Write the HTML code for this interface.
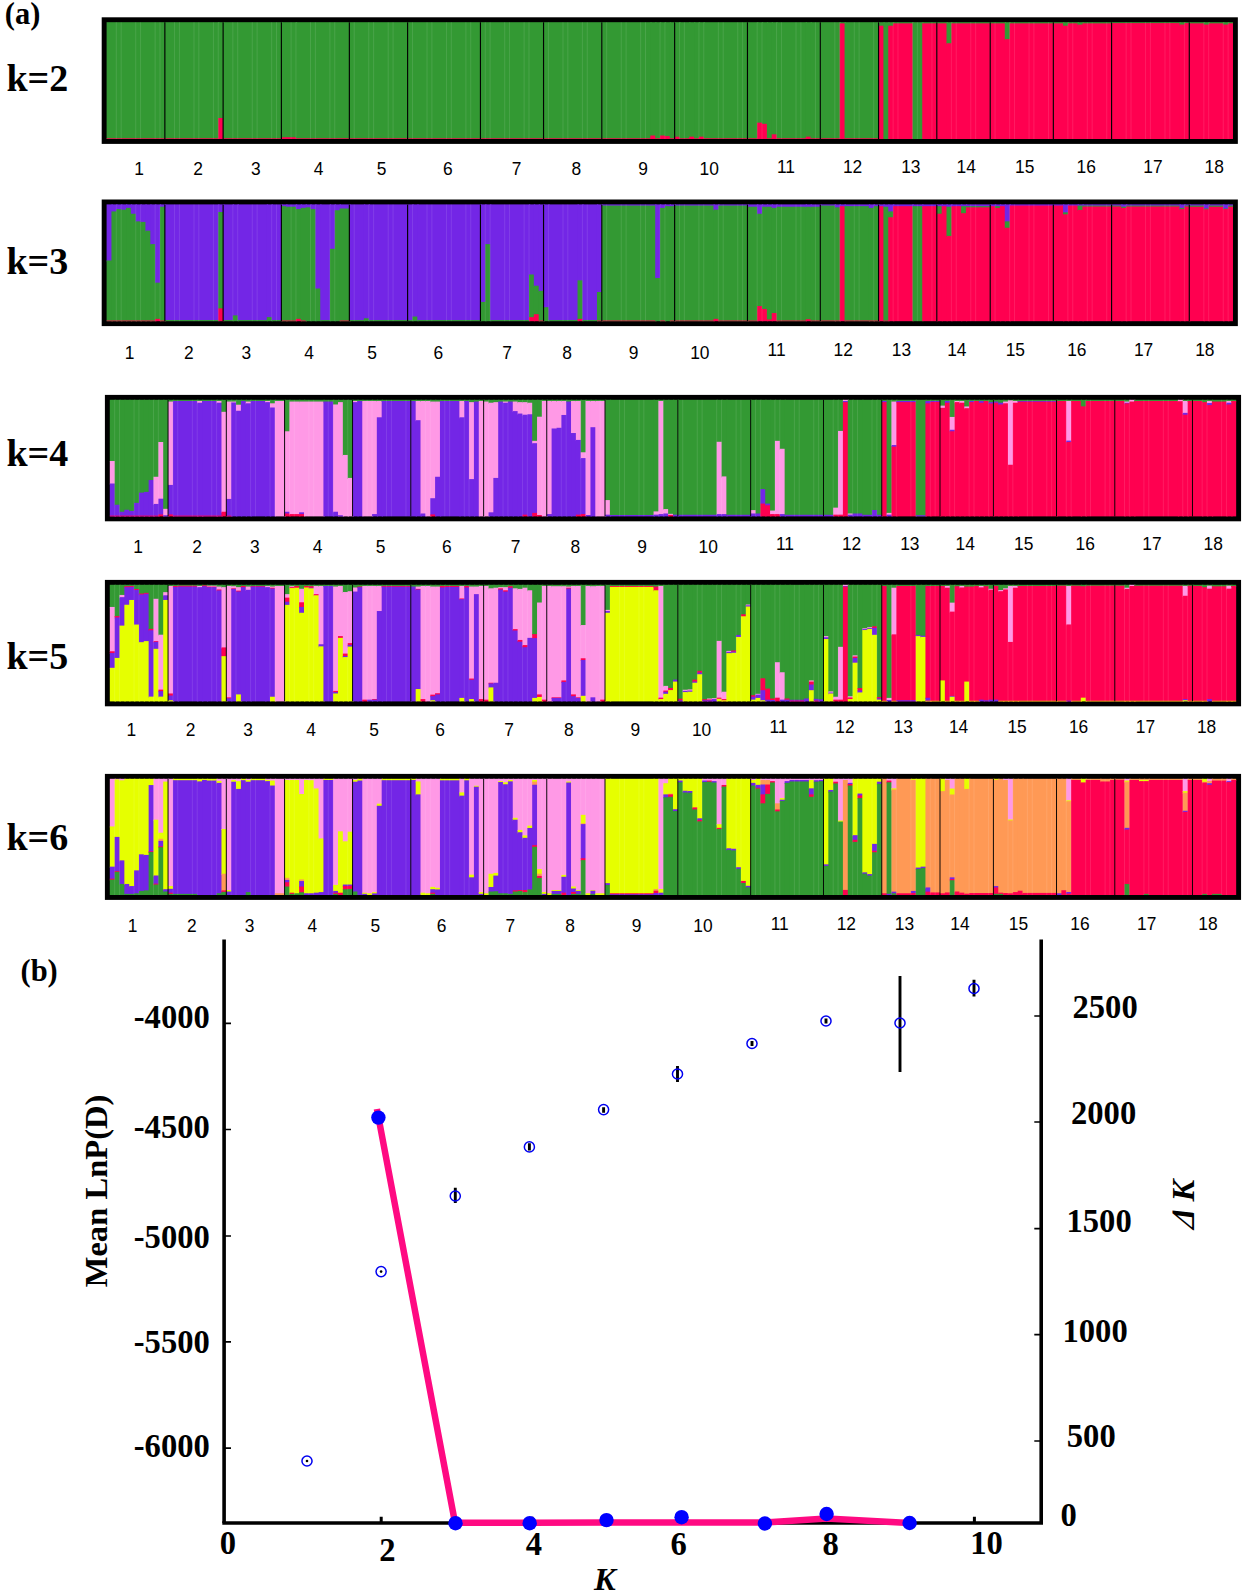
<!DOCTYPE html>
<html lang="en"><head><meta charset="utf-8"><title>STRUCTURE analysis</title>
<style>
html,body{margin:0;padding:0;background:#fff}
svg{display:block}
text{fill:#000}
.kl{font:bold 38px "Liberation Serif",serif}
.pl{font:bold 30.5px "Liberation Serif",serif}
.nl{font:17.4px "Liberation Sans",sans-serif;text-anchor:middle}
.al{font:bold 32.6px "Liberation Serif",serif}
.it{font-style:italic}
</style></head><body>
<svg width="1250" height="1594" viewBox="0 0 1250 1594">
<rect width="1250" height="1594" fill="#fff"/>
<text x="4.8" y="24.3" class="pl">(a)</text>
<rect x="101.7" y="17.3" width="1136.16" height="126.6" fill="#000"/>
<rect x="106.6" y="22.2" width="112.96" height="116.8" fill="#339933"/>
<rect x="106.6" y="138.3" width="112.96" height="0.7" fill="#ff0050"/>
<rect x="218.26" y="22.2" width="6.16" height="96.78" fill="#339933"/>
<rect x="218.26" y="117.98" width="6.16" height="21.02" fill="#ff0050"/>
<rect x="223.12" y="22.2" width="59.56" height="116.8" fill="#339933"/>
<rect x="223.12" y="138.3" width="59.56" height="0.7" fill="#ff0050"/>
<rect x="281.38" y="22.2" width="15.87" height="116.05" fill="#339933"/>
<rect x="281.38" y="137.25" width="15.87" height="1.75" fill="#ff0050"/>
<rect x="295.95" y="22.2" width="355.71" height="116.8" fill="#339933"/>
<rect x="295.95" y="138.3" width="355.71" height="0.7" fill="#ff0050"/>
<rect x="650.36" y="22.2" width="6.16" height="114.3" fill="#339933"/>
<rect x="650.36" y="135.5" width="6.16" height="3.5" fill="#ff0050"/>
<rect x="655.22" y="22.2" width="6.16" height="116.8" fill="#339933"/>
<rect x="655.22" y="138.3" width="6.16" height="0.7" fill="#ff0050"/>
<rect x="660.07" y="22.2" width="6.16" height="114.3" fill="#339933"/>
<rect x="660.07" y="135.5" width="6.16" height="3.5" fill="#ff0050"/>
<rect x="664.93" y="22.2" width="6.16" height="114.88" fill="#339933"/>
<rect x="664.93" y="136.08" width="6.16" height="2.92" fill="#ff0050"/>
<rect x="669.78" y="22.2" width="6.16" height="116.8" fill="#339933"/>
<rect x="669.78" y="138.3" width="6.16" height="0.7" fill="#ff0050"/>
<rect x="674.64" y="22.2" width="6.16" height="115.46" fill="#339933"/>
<rect x="674.64" y="136.66" width="6.16" height="2.34" fill="#ff0050"/>
<rect x="679.49" y="22.2" width="11.01" height="116.8" fill="#339933"/>
<rect x="679.49" y="138.3" width="11.01" height="0.7" fill="#ff0050"/>
<rect x="689.2" y="22.2" width="6.16" height="115.46" fill="#339933"/>
<rect x="689.2" y="136.66" width="6.16" height="2.34" fill="#ff0050"/>
<rect x="694.06" y="22.2" width="6.16" height="116.8" fill="#339933"/>
<rect x="694.06" y="138.3" width="6.16" height="0.7" fill="#ff0050"/>
<rect x="698.91" y="22.2" width="6.16" height="115.46" fill="#339933"/>
<rect x="698.91" y="136.66" width="6.16" height="2.34" fill="#ff0050"/>
<rect x="703.77" y="22.2" width="54.7" height="116.8" fill="#339933"/>
<rect x="703.77" y="138.3" width="54.7" height="0.7" fill="#ff0050"/>
<rect x="757.17" y="22.2" width="6.16" height="101.45" fill="#339933"/>
<rect x="757.17" y="122.65" width="6.16" height="16.35" fill="#ff0050"/>
<rect x="762.03" y="22.2" width="6.16" height="102.62" fill="#339933"/>
<rect x="762.03" y="123.82" width="6.16" height="15.18" fill="#ff0050"/>
<rect x="766.88" y="22.2" width="6.16" height="116.8" fill="#339933"/>
<rect x="766.88" y="138.3" width="6.16" height="0.7" fill="#ff0050"/>
<rect x="771.74" y="22.2" width="6.15" height="113.13" fill="#339933"/>
<rect x="771.74" y="134.33" width="6.15" height="4.67" fill="#ff0050"/>
<rect x="776.59" y="22.2" width="30.43" height="116.8" fill="#339933"/>
<rect x="776.59" y="138.3" width="30.43" height="0.7" fill="#ff0050"/>
<rect x="805.72" y="22.2" width="6.15" height="115.46" fill="#339933"/>
<rect x="805.72" y="136.66" width="6.15" height="2.34" fill="#ff0050"/>
<rect x="810.58" y="22.2" width="30.43" height="116.8" fill="#339933"/>
<rect x="810.58" y="138.3" width="30.43" height="0.7" fill="#ff0050"/>
<rect x="839.71" y="22.2" width="6.16" height="2.17" fill="#339933"/>
<rect x="839.71" y="23.37" width="6.16" height="115.63" fill="#ff0050"/>
<rect x="844.56" y="22.2" width="35.29" height="116.8" fill="#339933"/>
<rect x="844.56" y="138.3" width="35.29" height="0.7" fill="#ff0050"/>
<rect x="878.55" y="22.2" width="6.16" height="4.5" fill="#339933"/>
<rect x="878.55" y="25.7" width="6.16" height="113.3" fill="#ff0050"/>
<rect x="883.4" y="22.2" width="6.16" height="116.8" fill="#339933"/>
<rect x="888.26" y="22.2" width="6.16" height="4.5" fill="#339933"/>
<rect x="888.26" y="25.7" width="6.16" height="113.3" fill="#ff0050"/>
<rect x="893.11" y="22.2" width="20.72" height="2.17" fill="#339933"/>
<rect x="893.11" y="23.37" width="20.72" height="115.63" fill="#ff0050"/>
<rect x="912.53" y="22.2" width="11.01" height="116.8" fill="#339933"/>
<rect x="922.24" y="22.2" width="25.57" height="2.17" fill="#339933"/>
<rect x="922.24" y="23.37" width="25.57" height="115.63" fill="#ff0050"/>
<rect x="946.52" y="22.2" width="6.16" height="22.02" fill="#339933"/>
<rect x="946.52" y="43.22" width="6.16" height="95.78" fill="#ff0050"/>
<rect x="951.37" y="22.2" width="54.7" height="2.17" fill="#339933"/>
<rect x="951.37" y="23.37" width="54.7" height="115.63" fill="#ff0050"/>
<rect x="1004.78" y="22.2" width="6.16" height="17.94" fill="#339933"/>
<rect x="1004.78" y="39.14" width="6.16" height="99.86" fill="#ff0050"/>
<rect x="1009.63" y="22.2" width="54.7" height="2.17" fill="#339933"/>
<rect x="1009.63" y="23.37" width="54.7" height="115.63" fill="#ff0050"/>
<rect x="1063.04" y="22.2" width="6.16" height="4.5" fill="#339933"/>
<rect x="1063.04" y="25.7" width="6.16" height="113.3" fill="#ff0050"/>
<rect x="1067.89" y="22.2" width="11.01" height="2.17" fill="#339933"/>
<rect x="1067.89" y="23.37" width="11.01" height="115.63" fill="#ff0050"/>
<rect x="1077.6" y="22.2" width="6.16" height="3.34" fill="#339933"/>
<rect x="1077.6" y="24.54" width="6.16" height="114.46" fill="#ff0050"/>
<rect x="1082.46" y="22.2" width="30.43" height="2.17" fill="#339933"/>
<rect x="1082.46" y="23.37" width="30.43" height="115.63" fill="#ff0050"/>
<rect x="1111.59" y="22.2" width="69.27" height="1.93" fill="#339933"/>
<rect x="1111.59" y="23.13" width="69.27" height="115.87" fill="#ff0050"/>
<rect x="1179.56" y="22.2" width="6.16" height="3.34" fill="#339933"/>
<rect x="1179.56" y="24.54" width="6.16" height="114.46" fill="#ff0050"/>
<rect x="1184.41" y="22.2" width="6.16" height="1.93" fill="#339933"/>
<rect x="1184.41" y="23.13" width="6.16" height="115.87" fill="#ff0050"/>
<rect x="1189.27" y="22.2" width="15.86" height="2.17" fill="#339933"/>
<rect x="1189.27" y="23.37" width="15.86" height="115.63" fill="#ff0050"/>
<rect x="1203.83" y="22.2" width="6.16" height="3.34" fill="#339933"/>
<rect x="1203.83" y="24.54" width="6.16" height="114.46" fill="#ff0050"/>
<rect x="1208.68" y="22.2" width="15.87" height="2.17" fill="#339933"/>
<rect x="1208.68" y="23.37" width="15.87" height="115.63" fill="#ff0050"/>
<rect x="1223.25" y="22.2" width="6.16" height="3.34" fill="#339933"/>
<rect x="1223.25" y="24.54" width="6.16" height="114.46" fill="#ff0050"/>
<rect x="1228.11" y="22.2" width="4.86" height="2.17" fill="#339933"/>
<rect x="1228.11" y="23.37" width="4.86" height="115.63" fill="#ff0050"/>
<path d="M116.31 22.2V139M121.16 22.2V139M135.73 22.2V139M140.58 22.2V139M155.15 22.2V139M160 22.2V139M174.57 22.2V139M179.43 22.2V139M193.99 22.2V139M198.84 22.2V139M213.41 22.2V139M218.26 22.2V139M232.83 22.2V139M237.69 22.2V139M252.25 22.2V139M257.11 22.2V139M271.67 22.2V139M276.52 22.2V139M291.09 22.2V139M295.95 22.2V139M310.51 22.2V139M315.37 22.2V139M329.93 22.2V139M334.79 22.2V139M349.35 22.2V139M354.21 22.2V139M368.77 22.2V139M373.62 22.2V139M388.19 22.2V139M393.05 22.2V139M407.61 22.2V139M412.47 22.2V139M427.03 22.2V139M431.88 22.2V139M446.45 22.2V139M451.31 22.2V139M465.87 22.2V139M470.73 22.2V139M485.29 22.2V139M490.14 22.2V139M504.71 22.2V139M509.57 22.2V139M524.13 22.2V139M528.99 22.2V139M543.55 22.2V139M548.41 22.2V139M562.97 22.2V139M567.83 22.2V139M582.39 22.2V139M587.25 22.2V139M601.81 22.2V139M606.67 22.2V139M621.23 22.2V139M626.09 22.2V139M640.65 22.2V139M645.51 22.2V139M660.07 22.2V139M664.93 22.2V139M679.49 22.2V139M684.35 22.2V139M698.91 22.2V139M703.77 22.2V139M718.33 22.2V139M723.19 22.2V139M737.75 22.2V139M742.61 22.2V139M757.17 22.2V139M762.03 22.2V139M776.59 22.2V139M781.45 22.2V139M796.01 22.2V139M800.87 22.2V139M815.43 22.2V139M820.29 22.2V139M834.85 22.2V139M839.71 22.2V139M854.27 22.2V139M859.13 22.2V139M873.69 22.2V139M878.55 22.2V139M893.11 22.2V139M897.97 22.2V139M912.53 22.2V139M917.39 22.2V139M931.95 22.2V139M936.81 22.2V139M951.37 22.2V139M956.23 22.2V139M970.79 22.2V139M975.65 22.2V139M990.21 22.2V139M995.07 22.2V139M1009.63 22.2V139M1014.49 22.2V139M1029.05 22.2V139M1033.9 22.2V139M1048.47 22.2V139M1053.33 22.2V139M1067.89 22.2V139M1072.75 22.2V139M1087.31 22.2V139M1092.16 22.2V139M1106.73 22.2V139M1111.59 22.2V139M1126.15 22.2V139M1131.01 22.2V139M1145.57 22.2V139M1150.42 22.2V139M1164.99 22.2V139M1169.85 22.2V139M1184.41 22.2V139M1189.27 22.2V139M1203.83 22.2V139M1208.68 22.2V139M1223.25 22.2V139M1228.11 22.2V139" stroke="#fff" stroke-opacity="0.16" stroke-width="0.7" fill="none"/>
<path d="M164.86 22.2V139M223.12 22.2V139M281.38 22.2V139M349.35 22.2V139M407.61 22.2V139M480.44 22.2V139M543.55 22.2V139M601.81 22.2V139M674.64 22.2V139M747.46 22.2V139M820.29 22.2V139M878.55 22.2V139M936.81 22.2V139M990.21 22.2V139M1053.33 22.2V139M1111.59 22.2V139M1189.27 22.2V139" stroke="#000" stroke-width="1.15" fill="none"/>
<text x="6.4" y="90.9" class="kl">k=2</text>
<text transform="translate(139 175.4) scale(1 1.07)" class="nl">1</text>
<text transform="translate(198.2 175.4) scale(1 1.07)" class="nl">2</text>
<text transform="translate(255.8 175.4) scale(1 1.07)" class="nl">3</text>
<text transform="translate(318.6 175.4) scale(1 1.07)" class="nl">4</text>
<text transform="translate(381.6 175.4) scale(1 1.07)" class="nl">5</text>
<text transform="translate(447.8 175.4) scale(1 1.07)" class="nl">6</text>
<text transform="translate(516.6 175.4) scale(1 1.07)" class="nl">7</text>
<text transform="translate(576.4 175.4) scale(1 1.07)" class="nl">8</text>
<text transform="translate(643 175.4) scale(1 1.07)" class="nl">9</text>
<text transform="translate(709.2 175.4) scale(1 1.07)" class="nl">10</text>
<text transform="translate(786 172.6) scale(1 1.07)" class="nl">11</text>
<text transform="translate(852.6 172.6) scale(1 1.07)" class="nl">12</text>
<text transform="translate(910.8 172.6) scale(1 1.07)" class="nl">13</text>
<text transform="translate(966.2 172.6) scale(1 1.07)" class="nl">14</text>
<text transform="translate(1024.7 172.6) scale(1 1.07)" class="nl">15</text>
<text transform="translate(1086.2 172.6) scale(1 1.07)" class="nl">16</text>
<text transform="translate(1153 172.6) scale(1 1.07)" class="nl">17</text>
<text transform="translate(1214.2 172.6) scale(1 1.07)" class="nl">18</text>
<rect x="101.7" y="199.5" width="1136.16" height="126.6" fill="#000"/>
<rect x="106.6" y="204.4" width="6.16" height="57.06" fill="#7326e6"/>
<rect x="106.6" y="260.46" width="6.16" height="60.74" fill="#339933"/>
<rect x="106.6" y="320.5" width="6.16" height="0.7" fill="#ff0050"/>
<rect x="111.45" y="204.4" width="6.16" height="8.01" fill="#7326e6"/>
<rect x="111.45" y="211.41" width="6.16" height="109.79" fill="#339933"/>
<rect x="111.45" y="320.5" width="6.16" height="0.7" fill="#ff0050"/>
<rect x="116.31" y="204.4" width="6.15" height="5.67" fill="#7326e6"/>
<rect x="116.31" y="209.07" width="6.15" height="112.13" fill="#339933"/>
<rect x="116.31" y="320.5" width="6.15" height="0.7" fill="#ff0050"/>
<rect x="121.16" y="204.4" width="6.16" height="6.26" fill="#7326e6"/>
<rect x="121.16" y="209.66" width="6.16" height="111.54" fill="#339933"/>
<rect x="121.16" y="320.5" width="6.16" height="0.7" fill="#ff0050"/>
<rect x="126.02" y="204.4" width="6.16" height="4.5" fill="#7326e6"/>
<rect x="126.02" y="207.9" width="6.16" height="113.3" fill="#339933"/>
<rect x="126.02" y="320.5" width="6.16" height="0.7" fill="#ff0050"/>
<rect x="130.88" y="204.4" width="6.15" height="10.34" fill="#7326e6"/>
<rect x="130.88" y="213.74" width="6.15" height="107.46" fill="#339933"/>
<rect x="130.88" y="320.5" width="6.15" height="0.7" fill="#ff0050"/>
<rect x="135.73" y="204.4" width="6.15" height="17.94" fill="#7326e6"/>
<rect x="135.73" y="221.34" width="6.15" height="99.86" fill="#339933"/>
<rect x="135.73" y="320.5" width="6.15" height="0.7" fill="#ff0050"/>
<rect x="140.58" y="204.4" width="6.16" height="18.52" fill="#7326e6"/>
<rect x="140.58" y="221.92" width="6.16" height="99.28" fill="#339933"/>
<rect x="140.58" y="320.5" width="6.16" height="0.7" fill="#ff0050"/>
<rect x="145.44" y="204.4" width="6.16" height="27.28" fill="#7326e6"/>
<rect x="145.44" y="230.68" width="6.16" height="90.52" fill="#339933"/>
<rect x="145.44" y="320.5" width="6.16" height="0.7" fill="#ff0050"/>
<rect x="150.3" y="204.4" width="6.15" height="40.71" fill="#7326e6"/>
<rect x="150.3" y="244.11" width="6.15" height="77.09" fill="#339933"/>
<rect x="150.3" y="320.5" width="6.15" height="0.7" fill="#ff0050"/>
<rect x="155.15" y="204.4" width="6.15" height="79.26" fill="#7326e6"/>
<rect x="155.15" y="282.66" width="6.15" height="37.21" fill="#339933"/>
<rect x="155.15" y="318.86" width="6.15" height="2.34" fill="#ff0050"/>
<rect x="160" y="204.4" width="6.16" height="3.34" fill="#7326e6"/>
<rect x="160" y="206.74" width="6.16" height="114.46" fill="#339933"/>
<rect x="160" y="320.5" width="6.16" height="0.7" fill="#ff0050"/>
<rect x="164.86" y="204.4" width="54.7" height="116.63" fill="#7326e6"/>
<rect x="164.86" y="320.03" width="54.7" height="1.17" fill="#339933"/>
<rect x="218.26" y="204.4" width="6.16" height="8.59" fill="#7326e6"/>
<rect x="218.26" y="211.99" width="6.16" height="97.36" fill="#339933"/>
<rect x="218.26" y="308.35" width="6.16" height="12.85" fill="#ff0050"/>
<rect x="223.12" y="204.4" width="11.01" height="116.63" fill="#7326e6"/>
<rect x="223.12" y="320.03" width="11.01" height="1.17" fill="#339933"/>
<rect x="232.83" y="204.4" width="6.15" height="111.96" fill="#7326e6"/>
<rect x="232.83" y="315.36" width="6.15" height="5.84" fill="#339933"/>
<rect x="237.69" y="204.4" width="30.43" height="116.63" fill="#7326e6"/>
<rect x="237.69" y="320.03" width="30.43" height="1.17" fill="#339933"/>
<rect x="266.81" y="204.4" width="6.16" height="113.71" fill="#7326e6"/>
<rect x="266.81" y="317.11" width="6.16" height="4.09" fill="#339933"/>
<rect x="271.67" y="204.4" width="11.01" height="116.63" fill="#7326e6"/>
<rect x="271.67" y="320.03" width="11.01" height="1.17" fill="#339933"/>
<rect x="281.38" y="204.4" width="6.16" height="2.75" fill="#7326e6"/>
<rect x="281.38" y="206.15" width="6.16" height="115.05" fill="#339933"/>
<rect x="281.38" y="320.5" width="6.16" height="0.7" fill="#ff0050"/>
<rect x="286.24" y="204.4" width="11.01" height="3.34" fill="#7326e6"/>
<rect x="286.24" y="206.74" width="11.01" height="114.46" fill="#339933"/>
<rect x="286.24" y="320.5" width="11.01" height="0.7" fill="#ff0050"/>
<rect x="295.95" y="204.4" width="6.15" height="5.67" fill="#7326e6"/>
<rect x="295.95" y="209.07" width="6.15" height="110.79" fill="#339933"/>
<rect x="295.95" y="318.86" width="6.15" height="2.34" fill="#ff0050"/>
<rect x="300.8" y="204.4" width="6.15" height="4.5" fill="#7326e6"/>
<rect x="300.8" y="207.9" width="6.15" height="113.3" fill="#339933"/>
<rect x="300.8" y="320.5" width="6.15" height="0.7" fill="#ff0050"/>
<rect x="305.65" y="204.4" width="6.16" height="3.92" fill="#7326e6"/>
<rect x="305.65" y="207.32" width="6.16" height="113.88" fill="#339933"/>
<rect x="310.51" y="204.4" width="6.16" height="5.67" fill="#7326e6"/>
<rect x="310.51" y="209.07" width="6.16" height="112.13" fill="#339933"/>
<rect x="315.37" y="204.4" width="6.16" height="85.1" fill="#7326e6"/>
<rect x="315.37" y="288.5" width="6.16" height="32.7" fill="#339933"/>
<rect x="320.22" y="204.4" width="11.01" height="116.63" fill="#7326e6"/>
<rect x="320.22" y="320.03" width="11.01" height="1.17" fill="#339933"/>
<rect x="329.93" y="204.4" width="6.16" height="45.38" fill="#7326e6"/>
<rect x="329.93" y="248.78" width="6.16" height="72.42" fill="#339933"/>
<rect x="334.79" y="204.4" width="6.15" height="6.84" fill="#7326e6"/>
<rect x="334.79" y="210.24" width="6.15" height="110.96" fill="#339933"/>
<rect x="339.64" y="204.4" width="11.01" height="5.09" fill="#7326e6"/>
<rect x="339.64" y="208.49" width="11.01" height="112.71" fill="#339933"/>
<rect x="339.64" y="320.5" width="11.01" height="0.7" fill="#ff0050"/>
<rect x="349.35" y="204.4" width="15.86" height="116.63" fill="#7326e6"/>
<rect x="349.35" y="320.03" width="15.86" height="1.17" fill="#339933"/>
<rect x="363.91" y="204.4" width="6.16" height="114.88" fill="#7326e6"/>
<rect x="363.91" y="318.28" width="6.16" height="2.92" fill="#339933"/>
<rect x="368.77" y="204.4" width="45" height="116.63" fill="#7326e6"/>
<rect x="368.77" y="320.03" width="45" height="1.17" fill="#339933"/>
<rect x="412.47" y="204.4" width="6.16" height="113.13" fill="#7326e6"/>
<rect x="412.47" y="316.53" width="6.16" height="4.67" fill="#339933"/>
<rect x="417.32" y="204.4" width="64.42" height="116.63" fill="#7326e6"/>
<rect x="417.32" y="320.03" width="64.42" height="1.17" fill="#339933"/>
<rect x="480.44" y="204.4" width="6.16" height="98.53" fill="#7326e6"/>
<rect x="480.44" y="301.93" width="6.16" height="19.27" fill="#339933"/>
<rect x="485.29" y="204.4" width="6.15" height="40.71" fill="#7326e6"/>
<rect x="485.29" y="244.11" width="6.15" height="77.09" fill="#339933"/>
<rect x="490.14" y="204.4" width="40.14" height="116.63" fill="#7326e6"/>
<rect x="490.14" y="320.03" width="40.14" height="1.17" fill="#339933"/>
<rect x="528.99" y="204.4" width="6.16" height="71.08" fill="#7326e6"/>
<rect x="528.99" y="274.48" width="6.16" height="43.63" fill="#339933"/>
<rect x="528.99" y="317.11" width="6.16" height="4.09" fill="#ff0050"/>
<rect x="533.84" y="204.4" width="6.16" height="82.29" fill="#7326e6"/>
<rect x="533.84" y="285.69" width="6.16" height="29.5" fill="#339933"/>
<rect x="533.84" y="314.19" width="6.16" height="7.01" fill="#ff0050"/>
<rect x="538.7" y="204.4" width="6.16" height="87.43" fill="#7326e6"/>
<rect x="538.7" y="290.83" width="6.16" height="30.37" fill="#339933"/>
<rect x="538.7" y="320.5" width="6.16" height="0.7" fill="#ff0050"/>
<rect x="543.55" y="204.4" width="6.16" height="103.78" fill="#7326e6"/>
<rect x="543.55" y="307.18" width="6.16" height="14.02" fill="#339933"/>
<rect x="548.41" y="204.4" width="30.43" height="116.63" fill="#7326e6"/>
<rect x="548.41" y="320.03" width="30.43" height="1.17" fill="#339933"/>
<rect x="577.54" y="204.4" width="6.15" height="76.92" fill="#7326e6"/>
<rect x="577.54" y="280.32" width="6.15" height="39.54" fill="#339933"/>
<rect x="577.54" y="318.86" width="6.15" height="2.34" fill="#ff0050"/>
<rect x="582.39" y="204.4" width="15.87" height="116.63" fill="#7326e6"/>
<rect x="582.39" y="320.03" width="15.87" height="1.17" fill="#339933"/>
<rect x="596.96" y="204.4" width="6.16" height="88.6" fill="#7326e6"/>
<rect x="596.96" y="292" width="6.16" height="29.2" fill="#339933"/>
<rect x="596.96" y="320.5" width="6.16" height="0.7" fill="#ff0050"/>
<rect x="601.81" y="204.4" width="54.7" height="2.17" fill="#7326e6"/>
<rect x="601.81" y="205.57" width="54.7" height="115.63" fill="#339933"/>
<rect x="601.81" y="320.5" width="54.7" height="0.7" fill="#ff0050"/>
<rect x="655.22" y="204.4" width="6.16" height="74.58" fill="#7326e6"/>
<rect x="655.22" y="277.98" width="6.16" height="43.22" fill="#339933"/>
<rect x="660.07" y="204.4" width="6.16" height="4.5" fill="#7326e6"/>
<rect x="660.07" y="207.9" width="6.16" height="113.3" fill="#339933"/>
<rect x="660.07" y="320.5" width="6.16" height="0.7" fill="#ff0050"/>
<rect x="664.93" y="204.4" width="6.16" height="2.75" fill="#7326e6"/>
<rect x="664.93" y="206.15" width="6.16" height="115.05" fill="#339933"/>
<rect x="669.78" y="204.4" width="6.16" height="2.75" fill="#7326e6"/>
<rect x="669.78" y="206.15" width="6.16" height="115.05" fill="#339933"/>
<rect x="669.78" y="320.5" width="6.16" height="0.7" fill="#ff0050"/>
<rect x="674.64" y="204.4" width="40.14" height="2.17" fill="#7326e6"/>
<rect x="674.64" y="205.57" width="40.14" height="115.63" fill="#339933"/>
<rect x="674.64" y="320.5" width="40.14" height="0.7" fill="#ff0050"/>
<rect x="713.48" y="204.4" width="6.16" height="6.26" fill="#7326e6"/>
<rect x="713.48" y="209.66" width="6.16" height="110.21" fill="#339933"/>
<rect x="713.48" y="318.86" width="6.16" height="2.34" fill="#ff0050"/>
<rect x="718.33" y="204.4" width="30.43" height="2.17" fill="#7326e6"/>
<rect x="718.33" y="205.57" width="30.43" height="115.63" fill="#339933"/>
<rect x="718.33" y="320.5" width="30.43" height="0.7" fill="#ff0050"/>
<rect x="747.46" y="204.4" width="11.01" height="3.34" fill="#7326e6"/>
<rect x="747.46" y="206.74" width="11.01" height="114.46" fill="#339933"/>
<rect x="747.46" y="320.5" width="11.01" height="0.7" fill="#ff0050"/>
<rect x="757.17" y="204.4" width="6.16" height="10.34" fill="#7326e6"/>
<rect x="757.17" y="213.74" width="6.16" height="93.27" fill="#339933"/>
<rect x="757.17" y="306.02" width="6.16" height="15.18" fill="#ff0050"/>
<rect x="762.03" y="204.4" width="6.16" height="3.34" fill="#7326e6"/>
<rect x="762.03" y="206.74" width="6.16" height="103.2" fill="#339933"/>
<rect x="762.03" y="308.94" width="6.16" height="12.26" fill="#ff0050"/>
<rect x="766.88" y="204.4" width="6.16" height="3.34" fill="#7326e6"/>
<rect x="766.88" y="206.74" width="6.16" height="113.71" fill="#339933"/>
<rect x="766.88" y="319.45" width="6.16" height="1.75" fill="#ff0050"/>
<rect x="771.74" y="204.4" width="6.15" height="4.5" fill="#7326e6"/>
<rect x="771.74" y="207.9" width="6.15" height="106.12" fill="#339933"/>
<rect x="771.74" y="313.02" width="6.15" height="8.18" fill="#ff0050"/>
<rect x="776.59" y="204.4" width="30.43" height="3.34" fill="#7326e6"/>
<rect x="776.59" y="206.74" width="30.43" height="114.46" fill="#339933"/>
<rect x="776.59" y="320.5" width="30.43" height="0.7" fill="#ff0050"/>
<rect x="805.72" y="204.4" width="6.15" height="3.34" fill="#7326e6"/>
<rect x="805.72" y="206.74" width="6.15" height="113.48" fill="#339933"/>
<rect x="805.72" y="319.21" width="6.15" height="1.99" fill="#ff0050"/>
<rect x="810.58" y="204.4" width="11.01" height="3.34" fill="#7326e6"/>
<rect x="810.58" y="206.74" width="11.01" height="114.46" fill="#339933"/>
<rect x="810.58" y="320.5" width="11.01" height="0.7" fill="#ff0050"/>
<rect x="820.29" y="204.4" width="15.87" height="2.17" fill="#7326e6"/>
<rect x="820.29" y="205.57" width="15.87" height="115.63" fill="#339933"/>
<rect x="820.29" y="320.5" width="15.87" height="0.7" fill="#ff0050"/>
<rect x="834.85" y="204.4" width="6.15" height="3.92" fill="#7326e6"/>
<rect x="834.85" y="207.32" width="6.15" height="113.88" fill="#339933"/>
<rect x="834.85" y="320.5" width="6.15" height="0.7" fill="#ff0050"/>
<rect x="839.71" y="204.4" width="6.16" height="2.75" fill="#7326e6"/>
<rect x="839.71" y="206.15" width="6.16" height="115.05" fill="#ff0050"/>
<rect x="844.56" y="204.4" width="25.57" height="2.75" fill="#7326e6"/>
<rect x="844.56" y="206.15" width="25.57" height="115.05" fill="#339933"/>
<rect x="844.56" y="320.5" width="25.57" height="0.7" fill="#ff0050"/>
<rect x="868.84" y="204.4" width="6.16" height="4.5" fill="#7326e6"/>
<rect x="868.84" y="207.9" width="6.16" height="113.3" fill="#339933"/>
<rect x="868.84" y="320.5" width="6.16" height="0.7" fill="#ff0050"/>
<rect x="873.69" y="204.4" width="6.16" height="2.75" fill="#7326e6"/>
<rect x="873.69" y="206.15" width="6.16" height="115.05" fill="#339933"/>
<rect x="873.69" y="320.5" width="6.16" height="0.7" fill="#ff0050"/>
<rect x="878.55" y="204.4" width="6.16" height="2.75" fill="#7326e6"/>
<rect x="878.55" y="206.15" width="6.16" height="115.05" fill="#ff0050"/>
<rect x="883.4" y="204.4" width="6.16" height="3.34" fill="#7326e6"/>
<rect x="883.4" y="206.74" width="6.16" height="114.46" fill="#339933"/>
<rect x="883.4" y="320.5" width="6.16" height="0.7" fill="#ff0050"/>
<rect x="888.26" y="204.4" width="6.16" height="8.01" fill="#7326e6"/>
<rect x="888.26" y="211.41" width="6.16" height="6.84" fill="#339933"/>
<rect x="888.26" y="217.25" width="6.16" height="103.95" fill="#ff0050"/>
<rect x="893.11" y="204.4" width="20.72" height="2.75" fill="#7326e6"/>
<rect x="893.11" y="206.15" width="20.72" height="115.05" fill="#ff0050"/>
<rect x="912.53" y="204.4" width="11.01" height="2.75" fill="#7326e6"/>
<rect x="912.53" y="206.15" width="11.01" height="115.05" fill="#339933"/>
<rect x="922.24" y="204.4" width="15.86" height="2.75" fill="#7326e6"/>
<rect x="922.24" y="206.15" width="15.86" height="115.05" fill="#ff0050"/>
<rect x="936.81" y="204.4" width="6.16" height="2.75" fill="#7326e6"/>
<rect x="936.81" y="206.15" width="6.16" height="8.59" fill="#339933"/>
<rect x="936.81" y="213.74" width="6.16" height="107.46" fill="#ff0050"/>
<rect x="941.66" y="204.4" width="6.16" height="2.75" fill="#7326e6"/>
<rect x="941.66" y="206.15" width="6.16" height="115.05" fill="#ff0050"/>
<rect x="946.52" y="204.4" width="6.16" height="3.34" fill="#7326e6"/>
<rect x="946.52" y="206.74" width="6.16" height="30.2" fill="#339933"/>
<rect x="946.52" y="235.94" width="6.16" height="85.26" fill="#ff0050"/>
<rect x="951.37" y="204.4" width="11.01" height="2.75" fill="#7326e6"/>
<rect x="951.37" y="206.15" width="11.01" height="115.05" fill="#ff0050"/>
<rect x="961.08" y="204.4" width="6.16" height="2.75" fill="#7326e6"/>
<rect x="961.08" y="206.15" width="6.16" height="8.01" fill="#339933"/>
<rect x="961.08" y="213.16" width="6.16" height="108.04" fill="#ff0050"/>
<rect x="965.94" y="204.4" width="25.58" height="2.75" fill="#7326e6"/>
<rect x="965.94" y="206.15" width="25.58" height="2.17" fill="#339933"/>
<rect x="965.94" y="207.32" width="25.58" height="113.88" fill="#ff0050"/>
<rect x="990.21" y="204.4" width="6.15" height="2.75" fill="#7326e6"/>
<rect x="990.21" y="206.15" width="6.15" height="115.05" fill="#ff0050"/>
<rect x="995.07" y="204.4" width="6.16" height="2.75" fill="#7326e6"/>
<rect x="995.07" y="206.15" width="6.16" height="2.75" fill="#339933"/>
<rect x="995.07" y="207.9" width="6.16" height="113.3" fill="#ff0050"/>
<rect x="999.92" y="204.4" width="6.16" height="2.75" fill="#7326e6"/>
<rect x="999.92" y="206.15" width="6.16" height="115.05" fill="#ff0050"/>
<rect x="1004.78" y="204.4" width="6.16" height="17.94" fill="#7326e6"/>
<rect x="1004.78" y="221.34" width="6.16" height="7.42" fill="#339933"/>
<rect x="1004.78" y="227.76" width="6.16" height="93.44" fill="#ff0050"/>
<rect x="1009.63" y="204.4" width="54.7" height="2.17" fill="#7326e6"/>
<rect x="1009.63" y="205.57" width="54.7" height="115.63" fill="#ff0050"/>
<rect x="1063.04" y="204.4" width="6.16" height="8.94" fill="#7326e6"/>
<rect x="1063.04" y="212.34" width="6.16" height="2.99" fill="#339933"/>
<rect x="1063.04" y="214.33" width="6.16" height="106.87" fill="#ff0050"/>
<rect x="1067.89" y="204.4" width="11.01" height="2.17" fill="#7326e6"/>
<rect x="1067.89" y="205.57" width="11.01" height="115.63" fill="#ff0050"/>
<rect x="1077.6" y="204.4" width="6.16" height="2.17" fill="#7326e6"/>
<rect x="1077.6" y="205.57" width="6.16" height="5.32" fill="#339933"/>
<rect x="1077.6" y="209.89" width="6.16" height="111.31" fill="#ff0050"/>
<rect x="1082.46" y="204.4" width="40.14" height="2.17" fill="#7326e6"/>
<rect x="1082.46" y="205.57" width="40.14" height="1.93" fill="#339933"/>
<rect x="1082.46" y="206.5" width="40.14" height="114.7" fill="#ff0050"/>
<rect x="1121.3" y="204.4" width="6.16" height="3.34" fill="#7326e6"/>
<rect x="1121.3" y="206.74" width="6.16" height="2.17" fill="#339933"/>
<rect x="1121.3" y="207.9" width="6.16" height="113.3" fill="#ff0050"/>
<rect x="1126.15" y="204.4" width="54.7" height="2.17" fill="#7326e6"/>
<rect x="1126.15" y="205.57" width="54.7" height="1.93" fill="#339933"/>
<rect x="1126.15" y="206.5" width="54.7" height="114.7" fill="#ff0050"/>
<rect x="1179.56" y="204.4" width="6.16" height="4.5" fill="#7326e6"/>
<rect x="1179.56" y="207.9" width="6.16" height="2.17" fill="#339933"/>
<rect x="1179.56" y="209.07" width="6.16" height="112.13" fill="#ff0050"/>
<rect x="1184.41" y="204.4" width="6.16" height="2.17" fill="#7326e6"/>
<rect x="1184.41" y="205.57" width="6.16" height="1.93" fill="#339933"/>
<rect x="1184.41" y="206.5" width="6.16" height="114.7" fill="#ff0050"/>
<rect x="1189.27" y="204.4" width="15.86" height="2.17" fill="#7326e6"/>
<rect x="1189.27" y="205.57" width="15.86" height="2.17" fill="#339933"/>
<rect x="1189.27" y="206.74" width="15.86" height="114.46" fill="#ff0050"/>
<rect x="1203.83" y="204.4" width="6.16" height="5.09" fill="#7326e6"/>
<rect x="1203.83" y="208.49" width="6.16" height="1.82" fill="#339933"/>
<rect x="1203.83" y="209.31" width="6.16" height="111.89" fill="#ff0050"/>
<rect x="1208.68" y="204.4" width="15.87" height="2.17" fill="#7326e6"/>
<rect x="1208.68" y="205.57" width="15.87" height="2.17" fill="#339933"/>
<rect x="1208.68" y="206.74" width="15.87" height="114.46" fill="#ff0050"/>
<rect x="1223.25" y="204.4" width="6.16" height="5.09" fill="#7326e6"/>
<rect x="1223.25" y="208.49" width="6.16" height="1.58" fill="#339933"/>
<rect x="1223.25" y="209.07" width="6.16" height="112.13" fill="#ff0050"/>
<rect x="1228.11" y="204.4" width="4.86" height="2.17" fill="#7326e6"/>
<rect x="1228.11" y="205.57" width="4.86" height="2.17" fill="#339933"/>
<rect x="1228.11" y="206.74" width="4.86" height="114.46" fill="#ff0050"/>
<path d="M116.31 204.4V321.2M121.16 204.4V321.2M135.73 204.4V321.2M140.58 204.4V321.2M155.15 204.4V321.2M160 204.4V321.2M174.57 204.4V321.2M179.43 204.4V321.2M193.99 204.4V321.2M198.84 204.4V321.2M213.41 204.4V321.2M218.26 204.4V321.2M232.83 204.4V321.2M237.69 204.4V321.2M252.25 204.4V321.2M257.11 204.4V321.2M271.67 204.4V321.2M276.52 204.4V321.2M291.09 204.4V321.2M295.95 204.4V321.2M310.51 204.4V321.2M315.37 204.4V321.2M329.93 204.4V321.2M334.79 204.4V321.2M349.35 204.4V321.2M354.21 204.4V321.2M368.77 204.4V321.2M373.62 204.4V321.2M388.19 204.4V321.2M393.05 204.4V321.2M407.61 204.4V321.2M412.47 204.4V321.2M427.03 204.4V321.2M431.88 204.4V321.2M446.45 204.4V321.2M451.31 204.4V321.2M465.87 204.4V321.2M470.73 204.4V321.2M485.29 204.4V321.2M490.14 204.4V321.2M504.71 204.4V321.2M509.57 204.4V321.2M524.13 204.4V321.2M528.99 204.4V321.2M543.55 204.4V321.2M548.41 204.4V321.2M562.97 204.4V321.2M567.83 204.4V321.2M582.39 204.4V321.2M587.25 204.4V321.2M601.81 204.4V321.2M606.67 204.4V321.2M621.23 204.4V321.2M626.09 204.4V321.2M640.65 204.4V321.2M645.51 204.4V321.2M660.07 204.4V321.2M664.93 204.4V321.2M679.49 204.4V321.2M684.35 204.4V321.2M698.91 204.4V321.2M703.77 204.4V321.2M718.33 204.4V321.2M723.19 204.4V321.2M737.75 204.4V321.2M742.61 204.4V321.2M757.17 204.4V321.2M762.03 204.4V321.2M776.59 204.4V321.2M781.45 204.4V321.2M796.01 204.4V321.2M800.87 204.4V321.2M815.43 204.4V321.2M820.29 204.4V321.2M834.85 204.4V321.2M839.71 204.4V321.2M854.27 204.4V321.2M859.13 204.4V321.2M873.69 204.4V321.2M878.55 204.4V321.2M893.11 204.4V321.2M897.97 204.4V321.2M912.53 204.4V321.2M917.39 204.4V321.2M931.95 204.4V321.2M936.81 204.4V321.2M951.37 204.4V321.2M956.23 204.4V321.2M970.79 204.4V321.2M975.65 204.4V321.2M990.21 204.4V321.2M995.07 204.4V321.2M1009.63 204.4V321.2M1014.49 204.4V321.2M1029.05 204.4V321.2M1033.9 204.4V321.2M1048.47 204.4V321.2M1053.33 204.4V321.2M1067.89 204.4V321.2M1072.75 204.4V321.2M1087.31 204.4V321.2M1092.16 204.4V321.2M1106.73 204.4V321.2M1111.59 204.4V321.2M1126.15 204.4V321.2M1131.01 204.4V321.2M1145.57 204.4V321.2M1150.42 204.4V321.2M1164.99 204.4V321.2M1169.85 204.4V321.2M1184.41 204.4V321.2M1189.27 204.4V321.2M1203.83 204.4V321.2M1208.68 204.4V321.2M1223.25 204.4V321.2M1228.11 204.4V321.2" stroke="#fff" stroke-opacity="0.16" stroke-width="0.7" fill="none"/>
<path d="M164.86 204.4V321.2M223.12 204.4V321.2M281.38 204.4V321.2M349.35 204.4V321.2M407.61 204.4V321.2M480.44 204.4V321.2M543.55 204.4V321.2M601.81 204.4V321.2M674.64 204.4V321.2M747.46 204.4V321.2M820.29 204.4V321.2M878.55 204.4V321.2M936.81 204.4V321.2M990.21 204.4V321.2M1053.33 204.4V321.2M1111.59 204.4V321.2M1189.27 204.4V321.2" stroke="#000" stroke-width="1.15" fill="none"/>
<text x="6.4" y="273.6" class="kl">k=3</text>
<text transform="translate(129.6 359) scale(1 1.07)" class="nl">1</text>
<text transform="translate(188.8 359) scale(1 1.07)" class="nl">2</text>
<text transform="translate(246.4 359) scale(1 1.07)" class="nl">3</text>
<text transform="translate(309.2 359) scale(1 1.07)" class="nl">4</text>
<text transform="translate(372.2 359) scale(1 1.07)" class="nl">5</text>
<text transform="translate(438.4 359) scale(1 1.07)" class="nl">6</text>
<text transform="translate(507.2 359) scale(1 1.07)" class="nl">7</text>
<text transform="translate(567 359) scale(1 1.07)" class="nl">8</text>
<text transform="translate(633.6 359) scale(1 1.07)" class="nl">9</text>
<text transform="translate(699.8 359) scale(1 1.07)" class="nl">10</text>
<text transform="translate(776.6 356.2) scale(1 1.07)" class="nl">11</text>
<text transform="translate(843.2 356.2) scale(1 1.07)" class="nl">12</text>
<text transform="translate(901.4 356.2) scale(1 1.07)" class="nl">13</text>
<text transform="translate(956.8 356.2) scale(1 1.07)" class="nl">14</text>
<text transform="translate(1015.3 356.2) scale(1 1.07)" class="nl">15</text>
<text transform="translate(1076.8 356.2) scale(1 1.07)" class="nl">16</text>
<text transform="translate(1143.6 356.2) scale(1 1.07)" class="nl">17</text>
<text transform="translate(1204.8 356.2) scale(1 1.07)" class="nl">18</text>
<rect x="104.9" y="394.9" width="1136.16" height="126.4" fill="#000"/>
<rect x="109.8" y="399.8" width="6.16" height="62.21" fill="#339933"/>
<rect x="109.8" y="461.01" width="6.16" height="23.5" fill="#ff99e6"/>
<rect x="109.8" y="483.52" width="6.16" height="32.88" fill="#7326e6"/>
<rect x="109.8" y="515.58" width="6.16" height="0.82" fill="#ff0050"/>
<rect x="114.66" y="399.8" width="6.15" height="105.94" fill="#339933"/>
<rect x="114.66" y="504.74" width="6.15" height="11.66" fill="#7326e6"/>
<rect x="114.66" y="515.58" width="6.15" height="0.82" fill="#ff0050"/>
<rect x="119.51" y="399.8" width="6.16" height="112.94" fill="#339933"/>
<rect x="119.51" y="511.74" width="6.16" height="4.66" fill="#7326e6"/>
<rect x="119.51" y="515.58" width="6.16" height="0.82" fill="#ff0050"/>
<rect x="124.36" y="399.8" width="6.16" height="110.95" fill="#339933"/>
<rect x="124.36" y="509.75" width="6.16" height="6.65" fill="#7326e6"/>
<rect x="124.36" y="515.58" width="6.16" height="0.82" fill="#ff0050"/>
<rect x="129.22" y="399.8" width="6.15" height="112.12" fill="#339933"/>
<rect x="129.22" y="510.92" width="6.15" height="5.48" fill="#7326e6"/>
<rect x="129.22" y="515.58" width="6.15" height="0.82" fill="#ff0050"/>
<rect x="134.07" y="399.8" width="6.16" height="104.07" fill="#339933"/>
<rect x="134.07" y="502.87" width="6.16" height="13.53" fill="#7326e6"/>
<rect x="134.07" y="515.58" width="6.16" height="0.82" fill="#ff0050"/>
<rect x="138.93" y="399.8" width="6.15" height="93.81" fill="#339933"/>
<rect x="138.93" y="492.61" width="6.15" height="23.79" fill="#7326e6"/>
<rect x="138.93" y="515.58" width="6.15" height="0.82" fill="#ff0050"/>
<rect x="143.78" y="399.8" width="6.15" height="93.11" fill="#339933"/>
<rect x="143.78" y="491.91" width="6.15" height="24.49" fill="#7326e6"/>
<rect x="143.78" y="515.58" width="6.15" height="0.82" fill="#ff0050"/>
<rect x="148.64" y="399.8" width="6.16" height="81.22" fill="#339933"/>
<rect x="148.64" y="480.02" width="6.16" height="36.38" fill="#7326e6"/>
<rect x="148.64" y="515.58" width="6.16" height="0.82" fill="#ff0050"/>
<rect x="153.5" y="399.8" width="6.15" height="77.96" fill="#339933"/>
<rect x="153.5" y="476.76" width="6.15" height="28.17" fill="#ff99e6"/>
<rect x="153.5" y="503.92" width="6.15" height="12.48" fill="#7326e6"/>
<rect x="153.5" y="515.58" width="6.15" height="0.82" fill="#ff0050"/>
<rect x="158.35" y="399.8" width="6.15" height="43.21" fill="#339933"/>
<rect x="158.35" y="442.01" width="6.15" height="57.67" fill="#ff99e6"/>
<rect x="158.35" y="498.68" width="6.15" height="16.74" fill="#7326e6"/>
<rect x="158.35" y="514.42" width="6.15" height="1.98" fill="#ff0050"/>
<rect x="163.2" y="399.8" width="6.16" height="110.02" fill="#339933"/>
<rect x="163.2" y="508.82" width="6.16" height="7.41" fill="#ff99e6"/>
<rect x="163.2" y="515.23" width="6.16" height="1.17" fill="#7326e6"/>
<rect x="168.06" y="399.8" width="6.16" height="2.75" fill="#339933"/>
<rect x="168.06" y="401.55" width="6.16" height="84.37" fill="#ff99e6"/>
<rect x="168.06" y="484.92" width="6.16" height="30.5" fill="#7326e6"/>
<rect x="168.06" y="514.42" width="6.16" height="1.98" fill="#ff0050"/>
<rect x="172.92" y="399.8" width="25.57" height="2.17" fill="#339933"/>
<rect x="172.92" y="400.97" width="25.57" height="115.43" fill="#7326e6"/>
<rect x="172.92" y="515.58" width="25.57" height="0.82" fill="#ff0050"/>
<rect x="197.19" y="399.8" width="6.16" height="2.17" fill="#339933"/>
<rect x="197.19" y="400.97" width="6.16" height="2.75" fill="#ff99e6"/>
<rect x="197.19" y="402.72" width="6.16" height="113.68" fill="#7326e6"/>
<rect x="197.19" y="515.58" width="6.16" height="0.82" fill="#ff0050"/>
<rect x="202.05" y="399.8" width="15.86" height="2.17" fill="#339933"/>
<rect x="202.05" y="400.97" width="15.86" height="115.43" fill="#7326e6"/>
<rect x="202.05" y="515.58" width="15.86" height="0.82" fill="#ff0050"/>
<rect x="216.61" y="399.8" width="6.15" height="2.17" fill="#339933"/>
<rect x="216.61" y="400.97" width="6.15" height="2.75" fill="#ff99e6"/>
<rect x="216.61" y="402.72" width="6.15" height="113.68" fill="#7326e6"/>
<rect x="216.61" y="515.58" width="6.15" height="0.82" fill="#ff0050"/>
<rect x="221.47" y="399.8" width="6.15" height="13.01" fill="#339933"/>
<rect x="221.47" y="411.81" width="6.15" height="100.93" fill="#ff99e6"/>
<rect x="221.47" y="511.74" width="6.15" height="4.66" fill="#ff0050"/>
<rect x="226.32" y="399.8" width="6.16" height="2.75" fill="#339933"/>
<rect x="226.32" y="401.55" width="6.16" height="98.36" fill="#ff99e6"/>
<rect x="226.32" y="498.91" width="6.16" height="17.49" fill="#7326e6"/>
<rect x="226.32" y="515.58" width="6.16" height="0.82" fill="#ff0050"/>
<rect x="231.18" y="399.8" width="6.16" height="2.75" fill="#339933"/>
<rect x="231.18" y="401.55" width="6.16" height="1.93" fill="#ff99e6"/>
<rect x="231.18" y="402.48" width="6.16" height="113.92" fill="#7326e6"/>
<rect x="236.03" y="399.8" width="6.15" height="5.9" fill="#339933"/>
<rect x="236.03" y="404.7" width="6.15" height="7.06" fill="#ff99e6"/>
<rect x="236.03" y="410.76" width="6.15" height="105.64" fill="#7326e6"/>
<rect x="240.88" y="399.8" width="6.16" height="2.17" fill="#339933"/>
<rect x="240.88" y="400.97" width="6.16" height="115.43" fill="#7326e6"/>
<rect x="245.74" y="399.8" width="6.16" height="2.75" fill="#339933"/>
<rect x="245.74" y="401.55" width="6.16" height="2.75" fill="#ff99e6"/>
<rect x="245.74" y="403.3" width="6.16" height="113.1" fill="#7326e6"/>
<rect x="250.6" y="399.8" width="15.86" height="2.17" fill="#339933"/>
<rect x="250.6" y="400.97" width="15.86" height="115.43" fill="#7326e6"/>
<rect x="265.16" y="399.8" width="6.15" height="2.17" fill="#339933"/>
<rect x="265.16" y="400.97" width="6.15" height="2.17" fill="#ff99e6"/>
<rect x="265.16" y="402.13" width="6.15" height="114.27" fill="#7326e6"/>
<rect x="270.01" y="399.8" width="6.16" height="4.5" fill="#339933"/>
<rect x="270.01" y="403.3" width="6.16" height="5.2" fill="#ff99e6"/>
<rect x="270.01" y="407.5" width="6.16" height="108.9" fill="#7326e6"/>
<rect x="274.87" y="399.8" width="11.01" height="2.17" fill="#339933"/>
<rect x="274.87" y="400.97" width="11.01" height="115.43" fill="#ff99e6"/>
<rect x="284.58" y="399.8" width="6.15" height="32.48" fill="#339933"/>
<rect x="284.58" y="431.28" width="6.15" height="81.45" fill="#ff99e6"/>
<rect x="284.58" y="511.74" width="6.15" height="2.75" fill="#7326e6"/>
<rect x="284.58" y="513.49" width="6.15" height="2.91" fill="#ff0050"/>
<rect x="289.44" y="399.8" width="11.01" height="2.75" fill="#339933"/>
<rect x="289.44" y="401.55" width="11.01" height="113.52" fill="#ff99e6"/>
<rect x="289.44" y="514.07" width="11.01" height="2.33" fill="#ff0050"/>
<rect x="299.15" y="399.8" width="6.15" height="2.75" fill="#339933"/>
<rect x="299.15" y="401.55" width="6.15" height="111.77" fill="#ff99e6"/>
<rect x="299.15" y="512.32" width="6.15" height="2.75" fill="#7326e6"/>
<rect x="299.15" y="514.07" width="6.15" height="2.33" fill="#ff0050"/>
<rect x="304" y="399.8" width="20.72" height="2.75" fill="#339933"/>
<rect x="304" y="401.55" width="20.72" height="114.85" fill="#ff99e6"/>
<rect x="323.42" y="399.8" width="11.01" height="2.75" fill="#339933"/>
<rect x="323.42" y="401.55" width="11.01" height="114.85" fill="#7326e6"/>
<rect x="333.13" y="399.8" width="6.16" height="5.66" fill="#339933"/>
<rect x="333.13" y="404.46" width="6.16" height="108.27" fill="#ff99e6"/>
<rect x="333.13" y="511.74" width="6.16" height="4.66" fill="#7326e6"/>
<rect x="337.99" y="399.8" width="6.16" height="3.33" fill="#339933"/>
<rect x="337.99" y="402.13" width="6.16" height="114.1" fill="#ff99e6"/>
<rect x="337.99" y="515.23" width="6.16" height="1.17" fill="#7326e6"/>
<rect x="342.84" y="399.8" width="6.15" height="56.15" fill="#339933"/>
<rect x="342.84" y="454.95" width="6.15" height="61.45" fill="#ff99e6"/>
<rect x="347.69" y="399.8" width="6.16" height="79.12" fill="#339933"/>
<rect x="347.69" y="477.92" width="6.16" height="38.48" fill="#ff99e6"/>
<rect x="352.55" y="399.8" width="6.16" height="2.17" fill="#339933"/>
<rect x="352.55" y="400.97" width="6.16" height="2.17" fill="#ff99e6"/>
<rect x="352.55" y="402.13" width="6.16" height="114.27" fill="#7326e6"/>
<rect x="357.41" y="399.8" width="6.16" height="2.17" fill="#339933"/>
<rect x="357.41" y="400.97" width="6.16" height="115.43" fill="#7326e6"/>
<rect x="362.26" y="399.8" width="11.01" height="2.17" fill="#339933"/>
<rect x="362.26" y="400.97" width="11.01" height="115.43" fill="#ff99e6"/>
<rect x="371.97" y="399.8" width="6.16" height="2.17" fill="#339933"/>
<rect x="371.97" y="400.97" width="6.16" height="114.1" fill="#ff99e6"/>
<rect x="371.97" y="514.07" width="6.16" height="2.33" fill="#7326e6"/>
<rect x="376.83" y="399.8" width="6.15" height="2.17" fill="#339933"/>
<rect x="376.83" y="400.97" width="6.15" height="17.32" fill="#ff99e6"/>
<rect x="376.83" y="417.29" width="6.15" height="99.11" fill="#7326e6"/>
<rect x="381.68" y="399.8" width="35.29" height="2.17" fill="#339933"/>
<rect x="381.68" y="400.97" width="35.29" height="115.43" fill="#7326e6"/>
<rect x="415.67" y="399.8" width="6.16" height="2.17" fill="#339933"/>
<rect x="415.67" y="400.97" width="6.16" height="20.24" fill="#ff99e6"/>
<rect x="415.67" y="420.2" width="6.16" height="96.19" fill="#7326e6"/>
<rect x="420.52" y="399.8" width="6.16" height="2.17" fill="#339933"/>
<rect x="420.52" y="400.97" width="6.16" height="113.52" fill="#ff99e6"/>
<rect x="420.52" y="513.49" width="6.16" height="2.91" fill="#7326e6"/>
<rect x="425.38" y="399.8" width="6.15" height="2.17" fill="#339933"/>
<rect x="425.38" y="400.97" width="6.15" height="115.43" fill="#ff99e6"/>
<rect x="430.23" y="399.8" width="6.16" height="2.75" fill="#339933"/>
<rect x="430.23" y="401.55" width="6.16" height="97.66" fill="#ff99e6"/>
<rect x="430.23" y="498.21" width="6.16" height="17.21" fill="#7326e6"/>
<rect x="430.23" y="514.42" width="6.16" height="1.98" fill="#ff0050"/>
<rect x="435.09" y="399.8" width="6.16" height="2.75" fill="#339933"/>
<rect x="435.09" y="401.55" width="6.16" height="76.21" fill="#ff99e6"/>
<rect x="435.09" y="476.76" width="6.16" height="39.64" fill="#7326e6"/>
<rect x="439.94" y="399.8" width="20.72" height="2.17" fill="#339933"/>
<rect x="439.94" y="400.97" width="20.72" height="115.43" fill="#7326e6"/>
<rect x="459.36" y="399.8" width="6.15" height="2.17" fill="#339933"/>
<rect x="459.36" y="400.97" width="6.15" height="17.32" fill="#ff99e6"/>
<rect x="459.36" y="417.29" width="6.15" height="99.11" fill="#7326e6"/>
<rect x="464.22" y="399.8" width="6.16" height="2.17" fill="#339933"/>
<rect x="464.22" y="400.97" width="6.16" height="115.43" fill="#7326e6"/>
<rect x="469.07" y="399.8" width="6.16" height="3.33" fill="#339933"/>
<rect x="469.07" y="402.13" width="6.16" height="77.96" fill="#ff99e6"/>
<rect x="469.07" y="479.09" width="6.16" height="37.31" fill="#7326e6"/>
<rect x="473.93" y="399.8" width="6.15" height="2.75" fill="#339933"/>
<rect x="473.93" y="401.55" width="6.15" height="114.85" fill="#7326e6"/>
<rect x="478.78" y="399.8" width="6.16" height="2.17" fill="#339933"/>
<rect x="478.78" y="400.97" width="6.16" height="115.43" fill="#ff99e6"/>
<rect x="483.64" y="399.8" width="6.16" height="2.75" fill="#339933"/>
<rect x="483.64" y="401.55" width="6.16" height="114.85" fill="#ff99e6"/>
<rect x="488.49" y="399.8" width="6.15" height="3.92" fill="#339933"/>
<rect x="488.49" y="402.72" width="6.15" height="110.6" fill="#ff99e6"/>
<rect x="488.49" y="512.32" width="6.15" height="4.08" fill="#7326e6"/>
<rect x="493.35" y="399.8" width="6.16" height="3.33" fill="#339933"/>
<rect x="493.35" y="402.13" width="6.16" height="76.79" fill="#ff99e6"/>
<rect x="493.35" y="477.92" width="6.16" height="38.48" fill="#7326e6"/>
<rect x="498.2" y="399.8" width="6.16" height="2.75" fill="#339933"/>
<rect x="498.2" y="401.55" width="6.16" height="114.85" fill="#7326e6"/>
<rect x="503.06" y="399.8" width="6.15" height="2.75" fill="#339933"/>
<rect x="503.06" y="401.55" width="6.15" height="2.17" fill="#ff99e6"/>
<rect x="503.06" y="402.72" width="6.15" height="113.68" fill="#7326e6"/>
<rect x="507.91" y="399.8" width="6.15" height="2.75" fill="#339933"/>
<rect x="507.91" y="401.55" width="6.15" height="114.85" fill="#7326e6"/>
<rect x="512.76" y="399.8" width="6.16" height="2.75" fill="#339933"/>
<rect x="512.76" y="401.55" width="6.16" height="10.56" fill="#ff99e6"/>
<rect x="512.76" y="411.11" width="6.16" height="105.29" fill="#7326e6"/>
<rect x="517.62" y="399.8" width="6.16" height="3.33" fill="#339933"/>
<rect x="517.62" y="402.13" width="6.16" height="12.43" fill="#ff99e6"/>
<rect x="517.62" y="413.56" width="6.16" height="102.84" fill="#7326e6"/>
<rect x="522.48" y="399.8" width="6.16" height="3.33" fill="#339933"/>
<rect x="522.48" y="402.13" width="6.16" height="13.59" fill="#ff99e6"/>
<rect x="522.48" y="414.72" width="6.16" height="100.93" fill="#7326e6"/>
<rect x="522.48" y="514.65" width="6.16" height="1.75" fill="#ff0050"/>
<rect x="527.33" y="399.8" width="6.16" height="3.92" fill="#339933"/>
<rect x="527.33" y="402.72" width="6.16" height="12.54" fill="#ff99e6"/>
<rect x="527.33" y="414.26" width="6.16" height="102.14" fill="#7326e6"/>
<rect x="532.19" y="399.8" width="6.15" height="42.04" fill="#339933"/>
<rect x="532.19" y="440.84" width="6.15" height="3.33" fill="#ff99e6"/>
<rect x="532.19" y="443.18" width="6.15" height="70.73" fill="#7326e6"/>
<rect x="532.19" y="512.9" width="6.15" height="3.5" fill="#ff0050"/>
<rect x="537.04" y="399.8" width="6.16" height="17.91" fill="#339933"/>
<rect x="537.04" y="416.71" width="6.16" height="99.29" fill="#ff99e6"/>
<rect x="537.04" y="515" width="6.16" height="1.4" fill="#ff0050"/>
<rect x="541.89" y="399.8" width="6.16" height="2.17" fill="#339933"/>
<rect x="541.89" y="400.97" width="6.16" height="115.43" fill="#ff99e6"/>
<rect x="546.75" y="399.8" width="6.16" height="2.17" fill="#339933"/>
<rect x="546.75" y="400.97" width="6.16" height="114.1" fill="#ff99e6"/>
<rect x="546.75" y="514.07" width="6.16" height="2.33" fill="#7326e6"/>
<rect x="551.61" y="399.8" width="6.16" height="2.17" fill="#339933"/>
<rect x="551.61" y="400.97" width="6.16" height="28.52" fill="#ff99e6"/>
<rect x="551.61" y="428.48" width="6.16" height="87.92" fill="#7326e6"/>
<rect x="556.46" y="399.8" width="6.16" height="2.17" fill="#339933"/>
<rect x="556.46" y="400.97" width="6.16" height="27.82" fill="#ff99e6"/>
<rect x="556.46" y="427.78" width="6.16" height="88.62" fill="#7326e6"/>
<rect x="561.32" y="399.8" width="6.16" height="2.17" fill="#339933"/>
<rect x="561.32" y="400.97" width="6.16" height="14.99" fill="#ff99e6"/>
<rect x="561.32" y="414.96" width="6.16" height="101.44" fill="#7326e6"/>
<rect x="566.17" y="399.8" width="6.15" height="2.75" fill="#339933"/>
<rect x="566.17" y="401.55" width="6.15" height="114.85" fill="#7326e6"/>
<rect x="571.02" y="399.8" width="6.16" height="2.17" fill="#339933"/>
<rect x="571.02" y="400.97" width="6.16" height="33.06" fill="#ff99e6"/>
<rect x="571.02" y="433.03" width="6.16" height="83.37" fill="#7326e6"/>
<rect x="575.88" y="399.8" width="6.16" height="2.17" fill="#339933"/>
<rect x="575.88" y="400.97" width="6.16" height="39.94" fill="#ff99e6"/>
<rect x="575.88" y="439.91" width="6.16" height="75.74" fill="#7326e6"/>
<rect x="575.88" y="514.65" width="6.16" height="1.75" fill="#ff0050"/>
<rect x="580.74" y="399.8" width="6.16" height="53.47" fill="#339933"/>
<rect x="580.74" y="452.27" width="6.16" height="6.83" fill="#ff99e6"/>
<rect x="580.74" y="458.1" width="6.16" height="56.97" fill="#7326e6"/>
<rect x="580.74" y="514.07" width="6.16" height="2.33" fill="#ff0050"/>
<rect x="585.59" y="399.8" width="6.16" height="2.17" fill="#339933"/>
<rect x="585.59" y="400.97" width="6.16" height="115.03" fill="#ff99e6"/>
<rect x="585.59" y="515" width="6.16" height="1.4" fill="#7326e6"/>
<rect x="590.45" y="399.8" width="6.16" height="2.17" fill="#339933"/>
<rect x="590.45" y="400.97" width="6.16" height="27.24" fill="#ff99e6"/>
<rect x="590.45" y="427.2" width="6.16" height="89.2" fill="#7326e6"/>
<rect x="595.3" y="399.8" width="11.01" height="2.17" fill="#339933"/>
<rect x="595.3" y="400.97" width="11.01" height="115.43" fill="#ff99e6"/>
<rect x="605.01" y="399.8" width="6.16" height="101.28" fill="#339933"/>
<rect x="605.01" y="500.08" width="6.16" height="15.57" fill="#ff99e6"/>
<rect x="605.01" y="514.65" width="6.16" height="1.75" fill="#7326e6"/>
<rect x="609.87" y="399.8" width="44.99" height="116.2" fill="#339933"/>
<rect x="609.87" y="515" width="44.99" height="1.4" fill="#7326e6"/>
<rect x="653.56" y="399.8" width="6.16" height="112.59" fill="#339933"/>
<rect x="653.56" y="511.39" width="6.16" height="4.26" fill="#ff99e6"/>
<rect x="653.56" y="514.65" width="6.16" height="1.75" fill="#7326e6"/>
<rect x="658.41" y="399.8" width="6.16" height="2.17" fill="#339933"/>
<rect x="658.41" y="400.97" width="6.16" height="114.1" fill="#ff99e6"/>
<rect x="658.41" y="514.07" width="6.16" height="2.33" fill="#7326e6"/>
<rect x="663.27" y="399.8" width="6.16" height="110.25" fill="#339933"/>
<rect x="663.27" y="509.05" width="6.16" height="5.43" fill="#ff99e6"/>
<rect x="663.27" y="513.49" width="6.16" height="2.91" fill="#7326e6"/>
<rect x="668.12" y="399.8" width="6.16" height="115.03" fill="#339933"/>
<rect x="668.12" y="513.83" width="6.16" height="2.05" fill="#ff99e6"/>
<rect x="668.12" y="514.88" width="6.16" height="1.52" fill="#ff0050"/>
<rect x="672.98" y="399.8" width="6.16" height="115.85" fill="#339933"/>
<rect x="672.98" y="514.65" width="6.16" height="1.75" fill="#7326e6"/>
<rect x="677.84" y="399.8" width="40.14" height="115.97" fill="#339933"/>
<rect x="677.84" y="514.77" width="40.14" height="1.63" fill="#7326e6"/>
<rect x="716.67" y="399.8" width="6.16" height="42.98" fill="#339933"/>
<rect x="716.67" y="441.78" width="6.16" height="73.29" fill="#ff99e6"/>
<rect x="716.67" y="514.07" width="6.16" height="2.33" fill="#7326e6"/>
<rect x="721.53" y="399.8" width="6.16" height="77.61" fill="#339933"/>
<rect x="721.53" y="476.41" width="6.16" height="38.66" fill="#ff99e6"/>
<rect x="721.53" y="514.07" width="6.16" height="2.33" fill="#7326e6"/>
<rect x="726.38" y="399.8" width="25.57" height="115.97" fill="#339933"/>
<rect x="726.38" y="514.77" width="25.57" height="1.63" fill="#7326e6"/>
<rect x="750.66" y="399.8" width="6.16" height="111.3" fill="#339933"/>
<rect x="750.66" y="510.1" width="6.16" height="4.38" fill="#ff99e6"/>
<rect x="750.66" y="513.49" width="6.16" height="2.91" fill="#7326e6"/>
<rect x="755.51" y="399.8" width="6.16" height="114.69" fill="#339933"/>
<rect x="755.51" y="513.49" width="6.16" height="2.91" fill="#7326e6"/>
<rect x="760.37" y="399.8" width="6.16" height="90.32" fill="#339933"/>
<rect x="760.37" y="489.12" width="6.16" height="15.46" fill="#7326e6"/>
<rect x="760.37" y="503.57" width="6.16" height="12.83" fill="#ff0050"/>
<rect x="765.23" y="399.8" width="6.16" height="104.77" fill="#339933"/>
<rect x="765.23" y="503.57" width="6.16" height="2.75" fill="#7326e6"/>
<rect x="765.23" y="505.32" width="6.16" height="11.08" fill="#ff0050"/>
<rect x="770.08" y="399.8" width="6.16" height="111.77" fill="#339933"/>
<rect x="770.08" y="510.57" width="6.16" height="4.5" fill="#ff99e6"/>
<rect x="770.08" y="514.07" width="6.16" height="2.33" fill="#ff0050"/>
<rect x="774.94" y="399.8" width="6.15" height="42.04" fill="#339933"/>
<rect x="774.94" y="440.84" width="6.15" height="74.22" fill="#ff99e6"/>
<rect x="774.94" y="514.07" width="6.15" height="2.33" fill="#ff0050"/>
<rect x="779.79" y="399.8" width="6.16" height="49.97" fill="#339933"/>
<rect x="779.79" y="448.77" width="6.16" height="66.3" fill="#ff99e6"/>
<rect x="779.79" y="514.07" width="6.16" height="2.33" fill="#7326e6"/>
<rect x="784.64" y="399.8" width="49.85" height="115.97" fill="#339933"/>
<rect x="784.64" y="514.77" width="49.85" height="1.63" fill="#7326e6"/>
<rect x="833.2" y="399.8" width="6.16" height="108.85" fill="#339933"/>
<rect x="833.2" y="507.65" width="6.16" height="8" fill="#ff99e6"/>
<rect x="833.2" y="514.65" width="6.16" height="1.75" fill="#ff0050"/>
<rect x="838.05" y="399.8" width="6.15" height="32.13" fill="#339933"/>
<rect x="838.05" y="430.93" width="6.15" height="84.72" fill="#ff99e6"/>
<rect x="838.05" y="514.65" width="6.15" height="1.75" fill="#ff0050"/>
<rect x="842.9" y="399.8" width="6.16" height="2.17" fill="#ff99e6"/>
<rect x="842.9" y="400.97" width="6.16" height="2.17" fill="#7326e6"/>
<rect x="842.9" y="402.13" width="6.16" height="114.27" fill="#ff0050"/>
<rect x="847.76" y="399.8" width="6.16" height="114.69" fill="#339933"/>
<rect x="847.76" y="513.49" width="6.16" height="2.17" fill="#ff99e6"/>
<rect x="847.76" y="514.65" width="6.16" height="1.75" fill="#7326e6"/>
<rect x="852.62" y="399.8" width="11.01" height="114.69" fill="#339933"/>
<rect x="852.62" y="513.49" width="11.01" height="2.91" fill="#7326e6"/>
<rect x="862.33" y="399.8" width="11.01" height="115.97" fill="#339933"/>
<rect x="862.33" y="514.77" width="11.01" height="1.63" fill="#7326e6"/>
<rect x="872.03" y="399.8" width="6.16" height="111.19" fill="#339933"/>
<rect x="872.03" y="509.99" width="6.16" height="6.41" fill="#7326e6"/>
<rect x="876.89" y="399.8" width="6.16" height="115.97" fill="#339933"/>
<rect x="876.89" y="514.77" width="6.16" height="1.63" fill="#7326e6"/>
<rect x="881.75" y="399.8" width="6.16" height="2.17" fill="#339933"/>
<rect x="881.75" y="400.97" width="6.16" height="2.17" fill="#7326e6"/>
<rect x="881.75" y="402.13" width="6.16" height="114.27" fill="#ff0050"/>
<rect x="886.6" y="399.8" width="6.16" height="114.1" fill="#339933"/>
<rect x="886.6" y="512.9" width="6.16" height="2.75" fill="#ff99e6"/>
<rect x="886.6" y="514.65" width="6.16" height="1.75" fill="#7326e6"/>
<rect x="891.46" y="399.8" width="6.16" height="2.75" fill="#339933"/>
<rect x="891.46" y="401.55" width="6.16" height="44.49" fill="#ff99e6"/>
<rect x="891.46" y="445.04" width="6.16" height="2.63" fill="#7326e6"/>
<rect x="891.46" y="446.67" width="6.16" height="69.73" fill="#ff0050"/>
<rect x="896.31" y="399.8" width="20.72" height="2.17" fill="#339933"/>
<rect x="896.31" y="400.97" width="20.72" height="2.17" fill="#7326e6"/>
<rect x="896.31" y="402.13" width="20.72" height="114.27" fill="#ff0050"/>
<rect x="915.73" y="399.8" width="11.01" height="116.43" fill="#339933"/>
<rect x="915.73" y="515.23" width="11.01" height="1.17" fill="#7326e6"/>
<rect x="925.44" y="399.8" width="6.16" height="2.17" fill="#339933"/>
<rect x="925.44" y="400.97" width="6.16" height="3.33" fill="#7326e6"/>
<rect x="925.44" y="403.3" width="6.16" height="113.1" fill="#ff0050"/>
<rect x="930.3" y="399.8" width="11.01" height="2.17" fill="#339933"/>
<rect x="930.3" y="400.97" width="11.01" height="1.93" fill="#7326e6"/>
<rect x="930.3" y="401.9" width="11.01" height="114.5" fill="#ff0050"/>
<rect x="940" y="399.8" width="6.16" height="6.83" fill="#339933"/>
<rect x="940" y="405.63" width="6.16" height="3.22" fill="#ff99e6"/>
<rect x="940" y="407.85" width="6.16" height="108.55" fill="#ff0050"/>
<rect x="944.86" y="399.8" width="6.16" height="2.17" fill="#339933"/>
<rect x="944.86" y="400.97" width="6.16" height="2.75" fill="#7326e6"/>
<rect x="944.86" y="402.72" width="6.16" height="113.68" fill="#ff0050"/>
<rect x="949.72" y="399.8" width="6.16" height="18.14" fill="#339933"/>
<rect x="949.72" y="416.94" width="6.16" height="13.83" fill="#ff99e6"/>
<rect x="949.72" y="429.77" width="6.16" height="2.52" fill="#7326e6"/>
<rect x="949.72" y="431.28" width="6.16" height="85.12" fill="#ff0050"/>
<rect x="954.57" y="399.8" width="6.16" height="2.17" fill="#339933"/>
<rect x="954.57" y="400.97" width="6.16" height="2.17" fill="#ff99e6"/>
<rect x="954.57" y="402.13" width="6.16" height="114.27" fill="#ff0050"/>
<rect x="959.43" y="399.8" width="6.15" height="2.17" fill="#339933"/>
<rect x="959.43" y="400.97" width="6.15" height="2.75" fill="#ff99e6"/>
<rect x="959.43" y="402.72" width="6.15" height="113.68" fill="#ff0050"/>
<rect x="964.28" y="399.8" width="6.16" height="7.65" fill="#339933"/>
<rect x="964.28" y="406.45" width="6.16" height="2.75" fill="#ff99e6"/>
<rect x="964.28" y="408.2" width="6.16" height="108.2" fill="#ff0050"/>
<rect x="969.13" y="399.8" width="6.16" height="2.17" fill="#339933"/>
<rect x="969.13" y="400.97" width="6.16" height="2.17" fill="#7326e6"/>
<rect x="969.13" y="402.13" width="6.16" height="114.27" fill="#ff0050"/>
<rect x="973.99" y="399.8" width="6.16" height="2.17" fill="#339933"/>
<rect x="973.99" y="400.97" width="6.16" height="115.43" fill="#ff0050"/>
<rect x="978.85" y="399.8" width="6.16" height="2.17" fill="#339933"/>
<rect x="978.85" y="400.97" width="6.16" height="2.75" fill="#7326e6"/>
<rect x="978.85" y="402.72" width="6.16" height="113.68" fill="#ff0050"/>
<rect x="983.7" y="399.8" width="6.16" height="2.17" fill="#339933"/>
<rect x="983.7" y="400.97" width="6.16" height="115.43" fill="#ff0050"/>
<rect x="988.56" y="399.8" width="6.16" height="3.33" fill="#339933"/>
<rect x="988.56" y="402.13" width="6.16" height="2.4" fill="#7326e6"/>
<rect x="988.56" y="403.53" width="6.16" height="112.87" fill="#ff0050"/>
<rect x="993.41" y="399.8" width="6.15" height="2.75" fill="#339933"/>
<rect x="993.41" y="401.55" width="6.15" height="2.17" fill="#7326e6"/>
<rect x="993.41" y="402.72" width="6.15" height="113.68" fill="#ff0050"/>
<rect x="998.26" y="399.8" width="6.16" height="3.92" fill="#339933"/>
<rect x="998.26" y="402.72" width="6.16" height="2.75" fill="#7326e6"/>
<rect x="998.26" y="404.46" width="6.16" height="111.94" fill="#ff0050"/>
<rect x="1003.12" y="399.8" width="6.16" height="2.75" fill="#339933"/>
<rect x="1003.12" y="401.55" width="6.16" height="2.75" fill="#ff99e6"/>
<rect x="1003.12" y="403.3" width="6.16" height="113.1" fill="#ff0050"/>
<rect x="1007.98" y="399.8" width="6.16" height="1.58" fill="#339933"/>
<rect x="1007.98" y="400.38" width="6.16" height="65.36" fill="#ff99e6"/>
<rect x="1007.98" y="464.75" width="6.16" height="51.65" fill="#ff0050"/>
<rect x="1012.83" y="399.8" width="6.16" height="2.17" fill="#339933"/>
<rect x="1012.83" y="400.97" width="6.16" height="2.75" fill="#ff99e6"/>
<rect x="1012.83" y="402.72" width="6.16" height="113.68" fill="#ff0050"/>
<rect x="1017.69" y="399.8" width="40.14" height="2.17" fill="#339933"/>
<rect x="1017.69" y="400.97" width="40.14" height="1.7" fill="#7326e6"/>
<rect x="1017.69" y="401.67" width="40.14" height="114.73" fill="#ff0050"/>
<rect x="1056.53" y="399.8" width="11.01" height="2.17" fill="#339933"/>
<rect x="1056.53" y="400.97" width="11.01" height="115.43" fill="#ff0050"/>
<rect x="1066.24" y="399.8" width="6.16" height="2.17" fill="#339933"/>
<rect x="1066.24" y="400.97" width="6.16" height="40.64" fill="#ff99e6"/>
<rect x="1066.24" y="440.61" width="6.16" height="2.4" fill="#7326e6"/>
<rect x="1066.24" y="442.01" width="6.16" height="74.39" fill="#ff0050"/>
<rect x="1071.09" y="399.8" width="11.01" height="2.17" fill="#339933"/>
<rect x="1071.09" y="400.97" width="11.01" height="115.43" fill="#ff0050"/>
<rect x="1080.8" y="399.8" width="6.16" height="7.53" fill="#339933"/>
<rect x="1080.8" y="406.33" width="6.16" height="110.07" fill="#ff0050"/>
<rect x="1085.66" y="399.8" width="40.14" height="2.17" fill="#339933"/>
<rect x="1085.66" y="400.97" width="40.14" height="115.43" fill="#ff0050"/>
<rect x="1124.5" y="399.8" width="6.16" height="2.75" fill="#339933"/>
<rect x="1124.5" y="401.55" width="6.16" height="2.17" fill="#ff99e6"/>
<rect x="1124.5" y="402.72" width="6.16" height="1.58" fill="#7326e6"/>
<rect x="1124.5" y="403.3" width="6.16" height="113.1" fill="#ff0050"/>
<rect x="1129.35" y="399.8" width="6.16" height="2.75" fill="#ff99e6"/>
<rect x="1129.35" y="401.55" width="6.16" height="114.85" fill="#ff0050"/>
<rect x="1134.21" y="399.8" width="44.99" height="2.17" fill="#339933"/>
<rect x="1134.21" y="400.97" width="44.99" height="115.43" fill="#ff0050"/>
<rect x="1177.9" y="399.8" width="6.16" height="2.4" fill="#ff99e6"/>
<rect x="1177.9" y="401.2" width="6.16" height="115.2" fill="#ff0050"/>
<rect x="1182.76" y="399.8" width="6.16" height="2.17" fill="#339933"/>
<rect x="1182.76" y="400.97" width="6.16" height="12.89" fill="#ff99e6"/>
<rect x="1182.76" y="412.86" width="6.16" height="2.87" fill="#7326e6"/>
<rect x="1182.76" y="414.72" width="6.16" height="101.68" fill="#ff0050"/>
<rect x="1187.61" y="399.8" width="15.86" height="2.17" fill="#339933"/>
<rect x="1187.61" y="400.97" width="15.86" height="115.43" fill="#ff0050"/>
<rect x="1202.17" y="399.8" width="6.16" height="3.33" fill="#339933"/>
<rect x="1202.17" y="402.13" width="6.16" height="114.27" fill="#ff0050"/>
<rect x="1207.03" y="399.8" width="6.16" height="2.17" fill="#339933"/>
<rect x="1207.03" y="400.97" width="6.16" height="3.1" fill="#ff99e6"/>
<rect x="1207.03" y="403.06" width="6.16" height="2.98" fill="#7326e6"/>
<rect x="1207.03" y="405.05" width="6.16" height="111.35" fill="#ff0050"/>
<rect x="1211.88" y="399.8" width="15.87" height="2.75" fill="#339933"/>
<rect x="1211.88" y="401.55" width="15.87" height="114.85" fill="#ff0050"/>
<rect x="1226.45" y="399.8" width="6.16" height="2.17" fill="#339933"/>
<rect x="1226.45" y="400.97" width="6.16" height="2.75" fill="#ff99e6"/>
<rect x="1226.45" y="402.72" width="6.16" height="2.75" fill="#7326e6"/>
<rect x="1226.45" y="404.46" width="6.16" height="111.94" fill="#ff0050"/>
<rect x="1231.31" y="399.8" width="4.86" height="2.17" fill="#339933"/>
<rect x="1231.31" y="400.97" width="4.86" height="115.43" fill="#ff0050"/>
<path d="M114.66 399.8V516.4M119.51 399.8V516.4M134.07 399.8V516.4M138.93 399.8V516.4M153.5 399.8V516.4M158.35 399.8V516.4M172.92 399.8V516.4M177.77 399.8V516.4M192.34 399.8V516.4M197.19 399.8V516.4M211.75 399.8V516.4M216.61 399.8V516.4M231.18 399.8V516.4M236.03 399.8V516.4M250.6 399.8V516.4M255.45 399.8V516.4M270.01 399.8V516.4M274.87 399.8V516.4M289.44 399.8V516.4M294.29 399.8V516.4M308.86 399.8V516.4M313.71 399.8V516.4M328.28 399.8V516.4M333.13 399.8V516.4M347.69 399.8V516.4M352.55 399.8V516.4M367.12 399.8V516.4M371.97 399.8V516.4M386.54 399.8V516.4M391.39 399.8V516.4M405.96 399.8V516.4M410.81 399.8V516.4M425.38 399.8V516.4M430.23 399.8V516.4M444.8 399.8V516.4M449.65 399.8V516.4M464.22 399.8V516.4M469.07 399.8V516.4M483.64 399.8V516.4M488.49 399.8V516.4M503.06 399.8V516.4M507.91 399.8V516.4M522.48 399.8V516.4M527.33 399.8V516.4M541.89 399.8V516.4M546.75 399.8V516.4M561.32 399.8V516.4M566.17 399.8V516.4M580.74 399.8V516.4M585.59 399.8V516.4M600.15 399.8V516.4M605.01 399.8V516.4M619.58 399.8V516.4M624.43 399.8V516.4M639 399.8V516.4M643.85 399.8V516.4M658.41 399.8V516.4M663.27 399.8V516.4M677.84 399.8V516.4M682.69 399.8V516.4M697.25 399.8V516.4M702.11 399.8V516.4M716.67 399.8V516.4M721.53 399.8V516.4M736.1 399.8V516.4M740.95 399.8V516.4M755.51 399.8V516.4M760.37 399.8V516.4M774.94 399.8V516.4M779.79 399.8V516.4M794.36 399.8V516.4M799.21 399.8V516.4M813.77 399.8V516.4M818.63 399.8V516.4M833.2 399.8V516.4M838.05 399.8V516.4M852.62 399.8V516.4M857.47 399.8V516.4M872.03 399.8V516.4M876.89 399.8V516.4M891.46 399.8V516.4M896.31 399.8V516.4M910.88 399.8V516.4M915.73 399.8V516.4M930.3 399.8V516.4M935.15 399.8V516.4M949.72 399.8V516.4M954.57 399.8V516.4M969.13 399.8V516.4M973.99 399.8V516.4M988.56 399.8V516.4M993.41 399.8V516.4M1007.98 399.8V516.4M1012.83 399.8V516.4M1027.39 399.8V516.4M1032.25 399.8V516.4M1046.82 399.8V516.4M1051.67 399.8V516.4M1066.24 399.8V516.4M1071.09 399.8V516.4M1085.66 399.8V516.4M1090.51 399.8V516.4M1105.08 399.8V516.4M1109.93 399.8V516.4M1124.5 399.8V516.4M1129.35 399.8V516.4M1143.91 399.8V516.4M1148.77 399.8V516.4M1163.34 399.8V516.4M1168.19 399.8V516.4M1182.76 399.8V516.4M1187.61 399.8V516.4M1202.17 399.8V516.4M1207.03 399.8V516.4M1221.6 399.8V516.4M1226.45 399.8V516.4" stroke="#fff" stroke-opacity="0.16" stroke-width="0.7" fill="none"/>
<path d="M168.06 399.8V516.4M226.32 399.8V516.4M284.58 399.8V516.4M352.55 399.8V516.4M410.81 399.8V516.4M483.64 399.8V516.4M546.75 399.8V516.4M605.01 399.8V516.4M677.84 399.8V516.4M750.66 399.8V516.4M823.49 399.8V516.4M881.75 399.8V516.4M940 399.8V516.4M993.41 399.8V516.4M1056.53 399.8V516.4M1114.79 399.8V516.4M1192.47 399.8V516.4" stroke="#000" stroke-width="0.95" fill="none"/>
<text x="6.4" y="465.9" class="kl">k=4</text>
<text transform="translate(138 552.7) scale(1 1.07)" class="nl">1</text>
<text transform="translate(197.2 552.7) scale(1 1.07)" class="nl">2</text>
<text transform="translate(254.8 552.7) scale(1 1.07)" class="nl">3</text>
<text transform="translate(317.6 552.7) scale(1 1.07)" class="nl">4</text>
<text transform="translate(380.6 552.7) scale(1 1.07)" class="nl">5</text>
<text transform="translate(446.8 552.7) scale(1 1.07)" class="nl">6</text>
<text transform="translate(515.6 552.7) scale(1 1.07)" class="nl">7</text>
<text transform="translate(575.4 552.7) scale(1 1.07)" class="nl">8</text>
<text transform="translate(642 552.7) scale(1 1.07)" class="nl">9</text>
<text transform="translate(708.2 552.7) scale(1 1.07)" class="nl">10</text>
<text transform="translate(785 549.9) scale(1 1.07)" class="nl">11</text>
<text transform="translate(851.6 549.9) scale(1 1.07)" class="nl">12</text>
<text transform="translate(909.8 549.9) scale(1 1.07)" class="nl">13</text>
<text transform="translate(965.2 549.9) scale(1 1.07)" class="nl">14</text>
<text transform="translate(1023.7 549.9) scale(1 1.07)" class="nl">15</text>
<text transform="translate(1085.2 549.9) scale(1 1.07)" class="nl">16</text>
<text transform="translate(1152 549.9) scale(1 1.07)" class="nl">17</text>
<text transform="translate(1213.2 549.9) scale(1 1.07)" class="nl">18</text>
<rect x="104.9" y="579.9" width="1136.16" height="126.4" fill="#000"/>
<rect x="109.8" y="584.8" width="6.16" height="23.15" fill="#339933"/>
<rect x="109.8" y="606.95" width="6.16" height="45.31" fill="#ff99e6"/>
<rect x="109.8" y="651.26" width="6.16" height="2.75" fill="#ff0050"/>
<rect x="109.8" y="653.01" width="6.16" height="15.81" fill="#7326e6"/>
<rect x="109.8" y="667.82" width="6.16" height="33.58" fill="#e6ff00"/>
<rect x="114.66" y="584.8" width="6.15" height="32.25" fill="#339933"/>
<rect x="114.66" y="616.05" width="6.15" height="2.4" fill="#ff0050"/>
<rect x="114.66" y="617.45" width="6.15" height="41.46" fill="#7326e6"/>
<rect x="114.66" y="657.91" width="6.15" height="43.49" fill="#e6ff00"/>
<rect x="119.51" y="584.8" width="6.16" height="11.14" fill="#339933"/>
<rect x="119.51" y="594.94" width="6.16" height="3.22" fill="#ff99e6"/>
<rect x="119.51" y="597.16" width="6.16" height="29.45" fill="#7326e6"/>
<rect x="119.51" y="625.61" width="6.16" height="75.79" fill="#e6ff00"/>
<rect x="124.36" y="584.8" width="6.16" height="2.4" fill="#339933"/>
<rect x="124.36" y="586.2" width="6.16" height="1.93" fill="#ff0050"/>
<rect x="124.36" y="587.13" width="6.16" height="18.61" fill="#7326e6"/>
<rect x="124.36" y="604.74" width="6.16" height="96.66" fill="#e6ff00"/>
<rect x="129.22" y="584.8" width="6.15" height="2.17" fill="#339933"/>
<rect x="129.22" y="585.97" width="6.15" height="1.93" fill="#ff0050"/>
<rect x="129.22" y="586.9" width="6.15" height="14.06" fill="#7326e6"/>
<rect x="129.22" y="599.96" width="6.15" height="101.44" fill="#e6ff00"/>
<rect x="134.07" y="584.8" width="6.16" height="5.2" fill="#339933"/>
<rect x="134.07" y="589" width="6.16" height="1.93" fill="#ff0050"/>
<rect x="134.07" y="589.93" width="6.16" height="35.63" fill="#7326e6"/>
<rect x="134.07" y="624.56" width="6.16" height="76.84" fill="#e6ff00"/>
<rect x="138.93" y="584.8" width="6.15" height="9.75" fill="#339933"/>
<rect x="138.93" y="593.54" width="6.15" height="1.93" fill="#ff0050"/>
<rect x="138.93" y="594.48" width="6.15" height="48.69" fill="#7326e6"/>
<rect x="138.93" y="642.17" width="6.15" height="59.23" fill="#e6ff00"/>
<rect x="143.78" y="584.8" width="6.15" height="9.05" fill="#339933"/>
<rect x="143.78" y="592.85" width="6.15" height="1.93" fill="#ff0050"/>
<rect x="143.78" y="593.78" width="6.15" height="48.34" fill="#7326e6"/>
<rect x="143.78" y="641.12" width="6.15" height="60.28" fill="#e6ff00"/>
<rect x="148.64" y="584.8" width="6.16" height="45.07" fill="#339933"/>
<rect x="148.64" y="628.87" width="6.16" height="2.4" fill="#ff0050"/>
<rect x="148.64" y="630.27" width="6.16" height="67.35" fill="#7326e6"/>
<rect x="148.64" y="696.62" width="6.16" height="4.78" fill="#e6ff00"/>
<rect x="153.5" y="584.8" width="6.15" height="14.99" fill="#339933"/>
<rect x="153.5" y="598.79" width="6.15" height="43.33" fill="#ff99e6"/>
<rect x="153.5" y="641.12" width="6.15" height="1.7" fill="#ff0050"/>
<rect x="153.5" y="641.82" width="6.15" height="8" fill="#7326e6"/>
<rect x="153.5" y="648.81" width="6.15" height="52.59" fill="#e6ff00"/>
<rect x="158.35" y="584.8" width="6.15" height="50.9" fill="#339933"/>
<rect x="158.35" y="634.7" width="6.15" height="55.92" fill="#ff99e6"/>
<rect x="158.35" y="689.62" width="6.15" height="2.52" fill="#ff0050"/>
<rect x="158.35" y="691.14" width="6.15" height="6.48" fill="#7326e6"/>
<rect x="158.35" y="696.62" width="6.15" height="4.78" fill="#e6ff00"/>
<rect x="163.2" y="584.8" width="6.16" height="8.35" fill="#339933"/>
<rect x="163.2" y="592.15" width="6.16" height="4.15" fill="#ff99e6"/>
<rect x="163.2" y="595.29" width="6.16" height="5.66" fill="#7326e6"/>
<rect x="163.2" y="599.96" width="6.16" height="101.44" fill="#e6ff00"/>
<rect x="168.06" y="584.8" width="6.16" height="2.17" fill="#339933"/>
<rect x="168.06" y="585.97" width="6.16" height="108.51" fill="#ff99e6"/>
<rect x="168.06" y="693.47" width="6.16" height="3.1" fill="#ff0050"/>
<rect x="168.06" y="695.57" width="6.16" height="5.66" fill="#7326e6"/>
<rect x="168.06" y="700.23" width="6.16" height="1.17" fill="#e6ff00"/>
<rect x="172.92" y="584.8" width="6.15" height="2.17" fill="#339933"/>
<rect x="172.92" y="585.97" width="6.15" height="1.93" fill="#ff0050"/>
<rect x="172.92" y="586.9" width="6.15" height="114.5" fill="#7326e6"/>
<rect x="177.77" y="584.8" width="20.72" height="1.93" fill="#339933"/>
<rect x="177.77" y="585.73" width="20.72" height="1.82" fill="#ff0050"/>
<rect x="177.77" y="586.55" width="20.72" height="114.85" fill="#7326e6"/>
<rect x="197.19" y="584.8" width="6.16" height="2.17" fill="#339933"/>
<rect x="197.19" y="585.97" width="6.16" height="2.17" fill="#ff99e6"/>
<rect x="197.19" y="587.13" width="6.16" height="114.27" fill="#7326e6"/>
<rect x="202.05" y="584.8" width="6.15" height="1.58" fill="#339933"/>
<rect x="202.05" y="585.38" width="6.15" height="1.82" fill="#ff0050"/>
<rect x="202.05" y="586.2" width="6.15" height="115.2" fill="#7326e6"/>
<rect x="206.9" y="584.8" width="11.01" height="1.93" fill="#339933"/>
<rect x="206.9" y="585.73" width="11.01" height="1.82" fill="#ff99e6"/>
<rect x="206.9" y="586.55" width="11.01" height="1.58" fill="#ff0050"/>
<rect x="206.9" y="587.13" width="11.01" height="114.27" fill="#7326e6"/>
<rect x="216.61" y="584.8" width="6.15" height="2.75" fill="#339933"/>
<rect x="216.61" y="586.55" width="6.15" height="3.91" fill="#ff99e6"/>
<rect x="216.61" y="589.46" width="6.15" height="1.93" fill="#ff0050"/>
<rect x="216.61" y="590.4" width="6.15" height="111" fill="#7326e6"/>
<rect x="221.47" y="584.8" width="6.15" height="3.33" fill="#339933"/>
<rect x="221.47" y="587.13" width="6.15" height="61.28" fill="#ff99e6"/>
<rect x="221.47" y="647.41" width="6.15" height="9.75" fill="#ff0050"/>
<rect x="221.47" y="656.16" width="6.15" height="45.24" fill="#e6ff00"/>
<rect x="226.32" y="584.8" width="6.16" height="2.17" fill="#339933"/>
<rect x="226.32" y="585.97" width="6.16" height="112.35" fill="#ff99e6"/>
<rect x="226.32" y="697.32" width="6.16" height="1.93" fill="#ff0050"/>
<rect x="226.32" y="698.25" width="6.16" height="3.15" fill="#7326e6"/>
<rect x="231.18" y="584.8" width="6.16" height="2.4" fill="#339933"/>
<rect x="231.18" y="586.2" width="6.16" height="3.1" fill="#ff99e6"/>
<rect x="231.18" y="588.3" width="6.16" height="1.58" fill="#ff0050"/>
<rect x="231.18" y="588.88" width="6.16" height="112.52" fill="#7326e6"/>
<rect x="236.03" y="584.8" width="6.15" height="3.33" fill="#339933"/>
<rect x="236.03" y="587.13" width="6.15" height="4.5" fill="#ff99e6"/>
<rect x="236.03" y="590.63" width="6.15" height="1.82" fill="#ff0050"/>
<rect x="236.03" y="591.45" width="6.15" height="103.96" fill="#7326e6"/>
<rect x="236.03" y="694.4" width="6.15" height="7" fill="#e6ff00"/>
<rect x="240.88" y="584.8" width="6.16" height="2.17" fill="#339933"/>
<rect x="240.88" y="585.97" width="6.16" height="2.17" fill="#ff0050"/>
<rect x="240.88" y="587.13" width="6.16" height="114.27" fill="#7326e6"/>
<rect x="245.74" y="584.8" width="6.16" height="2.75" fill="#339933"/>
<rect x="245.74" y="586.55" width="6.16" height="4.26" fill="#ff99e6"/>
<rect x="245.74" y="589.81" width="6.16" height="111.59" fill="#7326e6"/>
<rect x="250.6" y="584.8" width="15.86" height="2.17" fill="#339933"/>
<rect x="250.6" y="585.97" width="15.86" height="1.58" fill="#ff0050"/>
<rect x="250.6" y="586.55" width="15.86" height="114.85" fill="#7326e6"/>
<rect x="265.16" y="584.8" width="6.15" height="2.17" fill="#339933"/>
<rect x="265.16" y="585.97" width="6.15" height="2.17" fill="#ff99e6"/>
<rect x="265.16" y="587.13" width="6.15" height="114.27" fill="#7326e6"/>
<rect x="270.01" y="584.8" width="6.16" height="2.75" fill="#339933"/>
<rect x="270.01" y="586.55" width="6.16" height="2.17" fill="#ff99e6"/>
<rect x="270.01" y="587.71" width="6.16" height="1.82" fill="#ff0050"/>
<rect x="270.01" y="588.53" width="6.16" height="109.2" fill="#7326e6"/>
<rect x="270.01" y="696.74" width="6.16" height="4.66" fill="#e6ff00"/>
<rect x="274.87" y="584.8" width="11.01" height="2.17" fill="#339933"/>
<rect x="274.87" y="585.97" width="11.01" height="115.43" fill="#ff99e6"/>
<rect x="284.58" y="584.8" width="6.15" height="10.33" fill="#339933"/>
<rect x="284.58" y="594.13" width="6.15" height="4.5" fill="#ff99e6"/>
<rect x="284.58" y="597.63" width="6.15" height="5.08" fill="#ff0050"/>
<rect x="284.58" y="601.71" width="6.15" height="4.15" fill="#7326e6"/>
<rect x="284.58" y="604.86" width="6.15" height="96.54" fill="#e6ff00"/>
<rect x="289.44" y="584.8" width="6.16" height="2.4" fill="#339933"/>
<rect x="289.44" y="586.2" width="6.16" height="1.93" fill="#ff99e6"/>
<rect x="289.44" y="587.13" width="6.16" height="1.93" fill="#ff0050"/>
<rect x="289.44" y="588.06" width="6.16" height="113.34" fill="#e6ff00"/>
<rect x="294.29" y="584.8" width="6.16" height="2.17" fill="#339933"/>
<rect x="294.29" y="585.97" width="6.16" height="2.75" fill="#ff0050"/>
<rect x="294.29" y="587.71" width="6.16" height="113.69" fill="#e6ff00"/>
<rect x="299.15" y="584.8" width="6.15" height="4.96" fill="#339933"/>
<rect x="299.15" y="588.76" width="6.15" height="14.53" fill="#ff99e6"/>
<rect x="299.15" y="602.29" width="6.15" height="5.66" fill="#ff0050"/>
<rect x="299.15" y="606.95" width="6.15" height="6.83" fill="#7326e6"/>
<rect x="299.15" y="612.78" width="6.15" height="88.62" fill="#e6ff00"/>
<rect x="304" y="584.8" width="6.16" height="2.17" fill="#339933"/>
<rect x="304" y="585.97" width="6.16" height="2.52" fill="#ff0050"/>
<rect x="304" y="587.48" width="6.16" height="113.92" fill="#e6ff00"/>
<rect x="308.86" y="584.8" width="6.16" height="2.4" fill="#339933"/>
<rect x="308.86" y="586.2" width="6.16" height="2.52" fill="#ff0050"/>
<rect x="308.86" y="587.71" width="6.16" height="1.58" fill="#7326e6"/>
<rect x="308.86" y="588.3" width="6.16" height="113.1" fill="#e6ff00"/>
<rect x="313.71" y="584.8" width="6.15" height="2.17" fill="#339933"/>
<rect x="313.71" y="585.97" width="6.15" height="9.16" fill="#ff99e6"/>
<rect x="313.71" y="594.13" width="6.15" height="2.17" fill="#ff0050"/>
<rect x="313.71" y="595.29" width="6.15" height="106.11" fill="#e6ff00"/>
<rect x="318.56" y="584.8" width="6.16" height="2.17" fill="#339933"/>
<rect x="318.56" y="585.97" width="6.16" height="59.3" fill="#ff99e6"/>
<rect x="318.56" y="644.27" width="6.16" height="3.1" fill="#7326e6"/>
<rect x="318.56" y="646.36" width="6.16" height="55.04" fill="#e6ff00"/>
<rect x="323.42" y="584.8" width="11.01" height="2.17" fill="#339933"/>
<rect x="323.42" y="585.97" width="11.01" height="115.43" fill="#7326e6"/>
<rect x="333.13" y="584.8" width="6.16" height="2.75" fill="#339933"/>
<rect x="333.13" y="586.55" width="6.16" height="105.36" fill="#ff99e6"/>
<rect x="333.13" y="690.91" width="6.16" height="2.17" fill="#ff0050"/>
<rect x="333.13" y="692.07" width="6.16" height="2.4" fill="#7326e6"/>
<rect x="333.13" y="693.47" width="6.16" height="7.93" fill="#e6ff00"/>
<rect x="337.99" y="584.8" width="6.16" height="2.17" fill="#339933"/>
<rect x="337.99" y="585.97" width="6.16" height="51.14" fill="#ff99e6"/>
<rect x="337.99" y="636.1" width="6.16" height="2.75" fill="#ff0050"/>
<rect x="337.99" y="637.85" width="6.16" height="63.55" fill="#e6ff00"/>
<rect x="342.84" y="584.8" width="6.15" height="8.23" fill="#339933"/>
<rect x="342.84" y="592.03" width="6.15" height="62.56" fill="#ff99e6"/>
<rect x="342.84" y="653.59" width="6.15" height="3.33" fill="#ff0050"/>
<rect x="342.84" y="655.93" width="6.15" height="2.17" fill="#7326e6"/>
<rect x="342.84" y="657.09" width="6.15" height="44.31" fill="#e6ff00"/>
<rect x="347.69" y="584.8" width="6.16" height="7.41" fill="#339933"/>
<rect x="347.69" y="591.21" width="6.16" height="52.89" fill="#ff99e6"/>
<rect x="347.69" y="643.1" width="6.16" height="2.75" fill="#ff0050"/>
<rect x="347.69" y="644.85" width="6.16" height="2.75" fill="#7326e6"/>
<rect x="347.69" y="646.6" width="6.16" height="54.8" fill="#e6ff00"/>
<rect x="352.55" y="584.8" width="6.16" height="3.68" fill="#339933"/>
<rect x="352.55" y="587.48" width="6.16" height="5.08" fill="#ff99e6"/>
<rect x="352.55" y="591.56" width="6.16" height="109.84" fill="#7326e6"/>
<rect x="357.41" y="584.8" width="6.16" height="2.75" fill="#339933"/>
<rect x="357.41" y="586.55" width="6.16" height="1.58" fill="#ff0050"/>
<rect x="357.41" y="587.13" width="6.16" height="114.27" fill="#7326e6"/>
<rect x="362.26" y="584.8" width="6.15" height="2.17" fill="#339933"/>
<rect x="362.26" y="585.97" width="6.15" height="114.68" fill="#ff99e6"/>
<rect x="362.26" y="699.65" width="6.15" height="1.75" fill="#ff0050"/>
<rect x="367.12" y="584.8" width="6.16" height="2.17" fill="#339933"/>
<rect x="367.12" y="585.97" width="6.16" height="114.68" fill="#ff99e6"/>
<rect x="367.12" y="699.65" width="6.16" height="1.75" fill="#7326e6"/>
<rect x="371.97" y="584.8" width="6.16" height="2.17" fill="#339933"/>
<rect x="371.97" y="585.97" width="6.16" height="114.1" fill="#ff99e6"/>
<rect x="371.97" y="699.07" width="6.16" height="1.58" fill="#ff0050"/>
<rect x="371.97" y="699.65" width="6.16" height="1.75" fill="#7326e6"/>
<rect x="376.83" y="584.8" width="6.15" height="2.17" fill="#339933"/>
<rect x="376.83" y="585.97" width="6.15" height="26.07" fill="#ff99e6"/>
<rect x="376.83" y="611.03" width="6.15" height="90.37" fill="#7326e6"/>
<rect x="381.68" y="584.8" width="30.43" height="2.17" fill="#339933"/>
<rect x="381.68" y="585.97" width="30.43" height="1.7" fill="#ff0050"/>
<rect x="381.68" y="586.67" width="30.43" height="114.73" fill="#7326e6"/>
<rect x="410.81" y="584.8" width="6.15" height="2.75" fill="#339933"/>
<rect x="410.81" y="586.55" width="6.15" height="114.85" fill="#7326e6"/>
<rect x="415.67" y="584.8" width="6.16" height="2.75" fill="#339933"/>
<rect x="415.67" y="586.55" width="6.16" height="3.33" fill="#ff99e6"/>
<rect x="415.67" y="588.88" width="6.16" height="1.58" fill="#ff0050"/>
<rect x="415.67" y="589.46" width="6.16" height="100.58" fill="#7326e6"/>
<rect x="415.67" y="689.04" width="6.16" height="12.36" fill="#e6ff00"/>
<rect x="420.52" y="584.8" width="6.16" height="2.17" fill="#339933"/>
<rect x="420.52" y="585.97" width="6.16" height="114.1" fill="#ff99e6"/>
<rect x="420.52" y="699.07" width="6.16" height="2.33" fill="#ff0050"/>
<rect x="425.38" y="584.8" width="6.15" height="2.17" fill="#339933"/>
<rect x="425.38" y="585.97" width="6.15" height="115.43" fill="#ff99e6"/>
<rect x="430.23" y="584.8" width="6.16" height="2.75" fill="#339933"/>
<rect x="430.23" y="586.55" width="6.16" height="109.09" fill="#ff99e6"/>
<rect x="430.23" y="694.64" width="6.16" height="2.52" fill="#ff0050"/>
<rect x="430.23" y="696.15" width="6.16" height="5.08" fill="#7326e6"/>
<rect x="430.23" y="700.23" width="6.16" height="1.17" fill="#e6ff00"/>
<rect x="435.09" y="584.8" width="6.16" height="2.75" fill="#339933"/>
<rect x="435.09" y="586.55" width="6.16" height="107.69" fill="#ff99e6"/>
<rect x="435.09" y="693.24" width="6.16" height="2.17" fill="#ff0050"/>
<rect x="435.09" y="694.4" width="6.16" height="7" fill="#7326e6"/>
<rect x="439.94" y="584.8" width="6.15" height="2.17" fill="#339933"/>
<rect x="439.94" y="585.97" width="6.15" height="2.4" fill="#ff0050"/>
<rect x="439.94" y="587.37" width="6.15" height="114.03" fill="#7326e6"/>
<rect x="444.8" y="584.8" width="15.87" height="2.17" fill="#339933"/>
<rect x="444.8" y="585.97" width="15.87" height="1.93" fill="#ff0050"/>
<rect x="444.8" y="586.9" width="15.87" height="114.5" fill="#7326e6"/>
<rect x="459.36" y="584.8" width="6.15" height="2.17" fill="#339933"/>
<rect x="459.36" y="585.97" width="6.15" height="13.48" fill="#ff99e6"/>
<rect x="459.36" y="598.44" width="6.15" height="1.7" fill="#ff0050"/>
<rect x="459.36" y="599.14" width="6.15" height="99.76" fill="#7326e6"/>
<rect x="459.36" y="697.9" width="6.15" height="3.5" fill="#e6ff00"/>
<rect x="464.22" y="584.8" width="6.16" height="2.17" fill="#339933"/>
<rect x="464.22" y="585.97" width="6.16" height="2.4" fill="#ff0050"/>
<rect x="464.22" y="587.37" width="6.16" height="114.03" fill="#7326e6"/>
<rect x="469.07" y="584.8" width="6.16" height="2.75" fill="#339933"/>
<rect x="469.07" y="586.55" width="6.16" height="93" fill="#ff99e6"/>
<rect x="469.07" y="678.55" width="6.16" height="2.17" fill="#ff0050"/>
<rect x="469.07" y="679.71" width="6.16" height="20.36" fill="#7326e6"/>
<rect x="469.07" y="699.07" width="6.16" height="2.33" fill="#e6ff00"/>
<rect x="473.93" y="584.8" width="6.15" height="2.75" fill="#339933"/>
<rect x="473.93" y="586.55" width="6.15" height="8.58" fill="#ff99e6"/>
<rect x="473.93" y="594.13" width="6.15" height="107.27" fill="#7326e6"/>
<rect x="478.78" y="584.8" width="6.16" height="2.17" fill="#339933"/>
<rect x="478.78" y="585.97" width="6.16" height="114.1" fill="#ff99e6"/>
<rect x="478.78" y="699.07" width="6.16" height="2.33" fill="#ff0050"/>
<rect x="483.64" y="584.8" width="6.16" height="2.17" fill="#339933"/>
<rect x="483.64" y="585.97" width="6.16" height="114.68" fill="#ff99e6"/>
<rect x="483.64" y="699.65" width="6.16" height="1.75" fill="#ff0050"/>
<rect x="488.49" y="584.8" width="6.15" height="4.5" fill="#339933"/>
<rect x="488.49" y="588.3" width="6.15" height="95.45" fill="#ff99e6"/>
<rect x="488.49" y="682.74" width="6.15" height="1.58" fill="#ff0050"/>
<rect x="488.49" y="683.33" width="6.15" height="5.08" fill="#7326e6"/>
<rect x="488.49" y="687.41" width="6.15" height="13.99" fill="#e6ff00"/>
<rect x="493.35" y="584.8" width="6.16" height="3.91" fill="#339933"/>
<rect x="493.35" y="587.71" width="6.16" height="96.03" fill="#ff99e6"/>
<rect x="493.35" y="682.74" width="6.16" height="18.66" fill="#7326e6"/>
<rect x="498.2" y="584.8" width="6.16" height="3.33" fill="#339933"/>
<rect x="498.2" y="587.13" width="6.16" height="2.17" fill="#ff99e6"/>
<rect x="498.2" y="588.3" width="6.16" height="2.17" fill="#ff0050"/>
<rect x="498.2" y="589.46" width="6.16" height="111.94" fill="#7326e6"/>
<rect x="503.06" y="584.8" width="6.15" height="3.33" fill="#339933"/>
<rect x="503.06" y="587.13" width="6.15" height="4.15" fill="#ff99e6"/>
<rect x="503.06" y="590.28" width="6.15" height="2.28" fill="#ff0050"/>
<rect x="503.06" y="591.56" width="6.15" height="109.84" fill="#7326e6"/>
<rect x="507.91" y="584.8" width="6.15" height="2.4" fill="#339933"/>
<rect x="507.91" y="586.2" width="6.15" height="2.52" fill="#ff0050"/>
<rect x="507.91" y="587.71" width="6.15" height="113.69" fill="#7326e6"/>
<rect x="512.76" y="584.8" width="6.16" height="4.5" fill="#339933"/>
<rect x="512.76" y="588.3" width="6.16" height="41.81" fill="#ff99e6"/>
<rect x="512.76" y="629.11" width="6.16" height="2.4" fill="#ff0050"/>
<rect x="512.76" y="630.51" width="6.16" height="70.89" fill="#7326e6"/>
<rect x="517.62" y="584.8" width="6.16" height="5.08" fill="#339933"/>
<rect x="517.62" y="588.88" width="6.16" height="52.07" fill="#ff99e6"/>
<rect x="517.62" y="639.95" width="6.16" height="2.75" fill="#ff0050"/>
<rect x="517.62" y="641.7" width="6.16" height="59.7" fill="#7326e6"/>
<rect x="522.48" y="584.8" width="6.16" height="3.91" fill="#339933"/>
<rect x="522.48" y="587.71" width="6.16" height="58.37" fill="#ff99e6"/>
<rect x="522.48" y="645.08" width="6.16" height="3.1" fill="#ff0050"/>
<rect x="522.48" y="647.18" width="6.16" height="54.22" fill="#7326e6"/>
<rect x="527.33" y="584.8" width="6.16" height="6.48" fill="#339933"/>
<rect x="527.33" y="590.28" width="6.16" height="48.57" fill="#ff99e6"/>
<rect x="527.33" y="637.85" width="6.16" height="63.55" fill="#7326e6"/>
<rect x="532.19" y="584.8" width="6.15" height="50.32" fill="#339933"/>
<rect x="532.19" y="634.12" width="6.15" height="4.96" fill="#ff0050"/>
<rect x="532.19" y="638.09" width="6.15" height="60.82" fill="#7326e6"/>
<rect x="532.19" y="697.9" width="6.15" height="3.5" fill="#e6ff00"/>
<rect x="537.04" y="584.8" width="6.16" height="18.72" fill="#339933"/>
<rect x="537.04" y="602.52" width="6.16" height="92.88" fill="#ff99e6"/>
<rect x="537.04" y="694.4" width="6.16" height="3.57" fill="#ff0050"/>
<rect x="537.04" y="696.97" width="6.16" height="4.43" fill="#e6ff00"/>
<rect x="541.89" y="584.8" width="6.16" height="2.17" fill="#339933"/>
<rect x="541.89" y="585.97" width="6.16" height="114.68" fill="#ff99e6"/>
<rect x="541.89" y="699.65" width="6.16" height="1.75" fill="#ff0050"/>
<rect x="546.75" y="584.8" width="6.16" height="2.17" fill="#339933"/>
<rect x="546.75" y="585.97" width="6.16" height="115.43" fill="#ff99e6"/>
<rect x="551.61" y="584.8" width="11.01" height="2.4" fill="#339933"/>
<rect x="551.61" y="586.2" width="11.01" height="112.12" fill="#ff99e6"/>
<rect x="551.61" y="697.32" width="11.01" height="1.58" fill="#ff0050"/>
<rect x="551.61" y="697.9" width="11.01" height="3.5" fill="#7326e6"/>
<rect x="561.32" y="584.8" width="6.16" height="2.4" fill="#339933"/>
<rect x="561.32" y="586.2" width="6.16" height="95.21" fill="#ff99e6"/>
<rect x="561.32" y="680.41" width="6.16" height="2.52" fill="#ff0050"/>
<rect x="561.32" y="681.93" width="6.16" height="19.47" fill="#7326e6"/>
<rect x="566.17" y="584.8" width="6.15" height="2.75" fill="#339933"/>
<rect x="566.17" y="586.55" width="6.15" height="2.17" fill="#ff99e6"/>
<rect x="566.17" y="587.71" width="6.15" height="1.82" fill="#ff0050"/>
<rect x="566.17" y="588.53" width="6.15" height="112.87" fill="#7326e6"/>
<rect x="571.02" y="584.8" width="6.16" height="2.17" fill="#339933"/>
<rect x="571.02" y="585.97" width="6.16" height="109.44" fill="#ff99e6"/>
<rect x="571.02" y="694.4" width="6.16" height="2.75" fill="#ff0050"/>
<rect x="571.02" y="696.15" width="6.16" height="5.25" fill="#7326e6"/>
<rect x="575.88" y="584.8" width="6.16" height="2.17" fill="#339933"/>
<rect x="575.88" y="585.97" width="6.16" height="112.35" fill="#ff99e6"/>
<rect x="575.88" y="697.32" width="6.16" height="1.58" fill="#ff0050"/>
<rect x="575.88" y="697.9" width="6.16" height="3.5" fill="#7326e6"/>
<rect x="580.74" y="584.8" width="6.16" height="41.23" fill="#339933"/>
<rect x="580.74" y="625.03" width="6.16" height="34.23" fill="#ff99e6"/>
<rect x="580.74" y="658.26" width="6.16" height="2.75" fill="#ff0050"/>
<rect x="580.74" y="660.01" width="6.16" height="36.8" fill="#7326e6"/>
<rect x="580.74" y="695.8" width="6.16" height="5.6" fill="#e6ff00"/>
<rect x="585.59" y="584.8" width="6.16" height="2.17" fill="#339933"/>
<rect x="585.59" y="585.97" width="6.16" height="115.43" fill="#ff99e6"/>
<rect x="590.45" y="584.8" width="6.16" height="2.4" fill="#339933"/>
<rect x="590.45" y="586.2" width="6.16" height="112.12" fill="#ff99e6"/>
<rect x="590.45" y="697.32" width="6.16" height="4.08" fill="#7326e6"/>
<rect x="595.3" y="584.8" width="6.15" height="2.17" fill="#339933"/>
<rect x="595.3" y="585.97" width="6.15" height="115.43" fill="#ff99e6"/>
<rect x="600.15" y="584.8" width="6.16" height="2.17" fill="#339933"/>
<rect x="600.15" y="585.97" width="6.16" height="114.68" fill="#ff99e6"/>
<rect x="600.15" y="699.65" width="6.16" height="1.75" fill="#ff0050"/>
<rect x="605.01" y="584.8" width="6.16" height="26.07" fill="#339933"/>
<rect x="605.01" y="609.87" width="6.16" height="2.17" fill="#ff99e6"/>
<rect x="605.01" y="611.03" width="6.16" height="2.75" fill="#7326e6"/>
<rect x="605.01" y="612.78" width="6.16" height="88.62" fill="#e6ff00"/>
<rect x="609.87" y="584.8" width="44.99" height="2.17" fill="#339933"/>
<rect x="609.87" y="585.97" width="44.99" height="1.93" fill="#ff0050"/>
<rect x="609.87" y="586.9" width="44.99" height="114.5" fill="#e6ff00"/>
<rect x="653.56" y="584.8" width="6.16" height="2.75" fill="#339933"/>
<rect x="653.56" y="586.55" width="6.16" height="4.73" fill="#ff0050"/>
<rect x="653.56" y="590.28" width="6.16" height="111.12" fill="#e6ff00"/>
<rect x="658.41" y="584.8" width="6.16" height="2.17" fill="#339933"/>
<rect x="658.41" y="585.97" width="6.16" height="112.7" fill="#ff99e6"/>
<rect x="658.41" y="697.67" width="6.16" height="2.4" fill="#ff0050"/>
<rect x="658.41" y="699.07" width="6.16" height="2.33" fill="#e6ff00"/>
<rect x="663.27" y="584.8" width="6.16" height="102.09" fill="#339933"/>
<rect x="663.27" y="685.89" width="6.16" height="5.66" fill="#ff99e6"/>
<rect x="663.27" y="690.56" width="6.16" height="2.17" fill="#ff0050"/>
<rect x="663.27" y="691.72" width="6.16" height="3.1" fill="#7326e6"/>
<rect x="663.27" y="693.82" width="6.16" height="7.58" fill="#e6ff00"/>
<rect x="668.12" y="584.8" width="6.16" height="104.19" fill="#339933"/>
<rect x="668.12" y="687.99" width="6.16" height="3.1" fill="#ff0050"/>
<rect x="668.12" y="690.09" width="6.16" height="11.31" fill="#e6ff00"/>
<rect x="672.98" y="584.8" width="6.16" height="95.8" fill="#339933"/>
<rect x="672.98" y="679.6" width="6.16" height="2.98" fill="#7326e6"/>
<rect x="672.98" y="681.58" width="6.16" height="19.82" fill="#e6ff00"/>
<rect x="677.84" y="584.8" width="6.16" height="114.92" fill="#339933"/>
<rect x="677.84" y="698.72" width="6.16" height="2.52" fill="#ff0050"/>
<rect x="677.84" y="700.23" width="6.16" height="1.17" fill="#7326e6"/>
<rect x="682.69" y="584.8" width="6.15" height="105.94" fill="#339933"/>
<rect x="682.69" y="689.74" width="6.15" height="2.17" fill="#ff99e6"/>
<rect x="682.69" y="690.91" width="6.15" height="2.17" fill="#7326e6"/>
<rect x="682.69" y="692.07" width="6.15" height="9.33" fill="#e6ff00"/>
<rect x="687.54" y="584.8" width="6.16" height="105.59" fill="#339933"/>
<rect x="687.54" y="689.39" width="6.16" height="2.17" fill="#ff99e6"/>
<rect x="687.54" y="690.56" width="6.16" height="2.17" fill="#7326e6"/>
<rect x="687.54" y="691.72" width="6.16" height="9.68" fill="#e6ff00"/>
<rect x="692.4" y="584.8" width="6.16" height="95.8" fill="#339933"/>
<rect x="692.4" y="679.6" width="6.16" height="2.98" fill="#ff0050"/>
<rect x="692.4" y="681.58" width="6.16" height="2.17" fill="#7326e6"/>
<rect x="692.4" y="682.74" width="6.16" height="18.66" fill="#e6ff00"/>
<rect x="697.25" y="584.8" width="6.16" height="87.05" fill="#339933"/>
<rect x="697.25" y="670.85" width="6.16" height="2.75" fill="#ff0050"/>
<rect x="697.25" y="672.6" width="6.16" height="2.63" fill="#7326e6"/>
<rect x="697.25" y="674.23" width="6.16" height="27.17" fill="#e6ff00"/>
<rect x="702.11" y="584.8" width="6.16" height="115.5" fill="#339933"/>
<rect x="702.11" y="699.3" width="6.16" height="1.93" fill="#ff0050"/>
<rect x="702.11" y="700.23" width="6.16" height="1.17" fill="#7326e6"/>
<rect x="706.97" y="584.8" width="6.16" height="114.69" fill="#339933"/>
<rect x="706.97" y="698.49" width="6.16" height="1.93" fill="#ff99e6"/>
<rect x="706.97" y="699.42" width="6.16" height="1.82" fill="#ff0050"/>
<rect x="706.97" y="700.23" width="6.16" height="1.17" fill="#7326e6"/>
<rect x="711.82" y="584.8" width="6.15" height="114.34" fill="#339933"/>
<rect x="711.82" y="698.14" width="6.15" height="1.93" fill="#ff99e6"/>
<rect x="711.82" y="699.07" width="6.15" height="2.33" fill="#7326e6"/>
<rect x="716.67" y="584.8" width="6.16" height="57.08" fill="#339933"/>
<rect x="716.67" y="640.88" width="6.16" height="57.78" fill="#ff99e6"/>
<rect x="716.67" y="697.67" width="6.16" height="2.17" fill="#ff0050"/>
<rect x="716.67" y="698.83" width="6.16" height="2.57" fill="#e6ff00"/>
<rect x="721.53" y="584.8" width="6.16" height="107.92" fill="#339933"/>
<rect x="721.53" y="691.72" width="6.16" height="8.35" fill="#ff99e6"/>
<rect x="721.53" y="699.07" width="6.16" height="2.17" fill="#ff0050"/>
<rect x="721.53" y="700.23" width="6.16" height="1.17" fill="#e6ff00"/>
<rect x="726.38" y="584.8" width="6.16" height="67.11" fill="#339933"/>
<rect x="726.38" y="650.91" width="6.16" height="1.93" fill="#ff99e6"/>
<rect x="726.38" y="651.85" width="6.16" height="2.28" fill="#7326e6"/>
<rect x="726.38" y="653.13" width="6.16" height="48.27" fill="#e6ff00"/>
<rect x="731.24" y="584.8" width="6.16" height="66.65" fill="#339933"/>
<rect x="731.24" y="650.45" width="6.16" height="2.05" fill="#ff0050"/>
<rect x="731.24" y="651.5" width="6.16" height="2.28" fill="#7326e6"/>
<rect x="731.24" y="652.78" width="6.16" height="48.62" fill="#e6ff00"/>
<rect x="736.1" y="584.8" width="6.16" height="51.14" fill="#339933"/>
<rect x="736.1" y="634.94" width="6.16" height="2.98" fill="#7326e6"/>
<rect x="736.1" y="636.92" width="6.16" height="64.48" fill="#e6ff00"/>
<rect x="740.95" y="584.8" width="6.16" height="30.5" fill="#339933"/>
<rect x="740.95" y="614.3" width="6.16" height="2.98" fill="#ff0050"/>
<rect x="740.95" y="616.28" width="6.16" height="85.12" fill="#e6ff00"/>
<rect x="745.81" y="584.8" width="6.15" height="20.71" fill="#339933"/>
<rect x="745.81" y="604.51" width="6.15" height="1.82" fill="#ff99e6"/>
<rect x="745.81" y="605.32" width="6.15" height="2.17" fill="#7326e6"/>
<rect x="745.81" y="606.49" width="6.15" height="94.91" fill="#e6ff00"/>
<rect x="750.66" y="584.8" width="6.16" height="111.42" fill="#339933"/>
<rect x="750.66" y="695.22" width="6.16" height="2.52" fill="#ff0050"/>
<rect x="750.66" y="696.74" width="6.16" height="3.91" fill="#7326e6"/>
<rect x="750.66" y="699.65" width="6.16" height="1.75" fill="#e6ff00"/>
<rect x="755.51" y="584.8" width="6.16" height="110.02" fill="#339933"/>
<rect x="755.51" y="693.82" width="6.16" height="1.82" fill="#ff99e6"/>
<rect x="755.51" y="694.64" width="6.16" height="4.26" fill="#7326e6"/>
<rect x="755.51" y="697.9" width="6.16" height="3.5" fill="#e6ff00"/>
<rect x="760.37" y="584.8" width="6.16" height="94.51" fill="#339933"/>
<rect x="760.37" y="678.31" width="6.16" height="12.89" fill="#ff0050"/>
<rect x="760.37" y="690.21" width="6.16" height="11.03" fill="#7326e6"/>
<rect x="760.37" y="700.23" width="6.16" height="1.17" fill="#e6ff00"/>
<rect x="765.23" y="584.8" width="6.16" height="104.77" fill="#339933"/>
<rect x="765.23" y="688.57" width="6.16" height="12.08" fill="#ff0050"/>
<rect x="765.23" y="699.65" width="6.16" height="1.75" fill="#7326e6"/>
<rect x="770.08" y="584.8" width="6.16" height="114.69" fill="#339933"/>
<rect x="770.08" y="698.49" width="6.16" height="2.52" fill="#ff0050"/>
<rect x="770.08" y="700" width="6.16" height="1.4" fill="#7326e6"/>
<rect x="774.94" y="584.8" width="6.15" height="78.42" fill="#339933"/>
<rect x="774.94" y="662.22" width="6.15" height="36.45" fill="#ff99e6"/>
<rect x="774.94" y="697.67" width="6.15" height="3.73" fill="#ff0050"/>
<rect x="779.79" y="584.8" width="6.16" height="88.45" fill="#339933"/>
<rect x="779.79" y="672.25" width="6.16" height="28.4" fill="#ff99e6"/>
<rect x="779.79" y="699.65" width="6.16" height="1.75" fill="#7326e6"/>
<rect x="784.64" y="584.8" width="6.16" height="114.69" fill="#339933"/>
<rect x="784.64" y="698.49" width="6.16" height="2.17" fill="#ff0050"/>
<rect x="784.64" y="699.65" width="6.16" height="1.75" fill="#7326e6"/>
<rect x="789.5" y="584.8" width="15.87" height="115.97" fill="#339933"/>
<rect x="789.5" y="699.77" width="15.87" height="1.63" fill="#7326e6"/>
<rect x="789.5" y="700.58" width="15.87" height="0.82" fill="#ff0050"/>
<rect x="804.07" y="584.8" width="6.16" height="114.69" fill="#339933"/>
<rect x="804.07" y="698.49" width="6.16" height="2.91" fill="#7326e6"/>
<rect x="808.92" y="584.8" width="6.15" height="96.61" fill="#339933"/>
<rect x="808.92" y="680.41" width="6.15" height="2.17" fill="#ff99e6"/>
<rect x="808.92" y="681.58" width="6.15" height="3.91" fill="#ff0050"/>
<rect x="808.92" y="684.49" width="6.15" height="6.71" fill="#7326e6"/>
<rect x="808.92" y="690.21" width="6.15" height="11.19" fill="#e6ff00"/>
<rect x="813.77" y="584.8" width="6.16" height="115.03" fill="#339933"/>
<rect x="813.77" y="698.83" width="6.16" height="2.57" fill="#7326e6"/>
<rect x="813.77" y="700.58" width="6.16" height="0.82" fill="#ff0050"/>
<rect x="818.63" y="584.8" width="6.16" height="115.5" fill="#339933"/>
<rect x="818.63" y="699.3" width="6.16" height="2.1" fill="#7326e6"/>
<rect x="823.49" y="584.8" width="6.16" height="52.3" fill="#339933"/>
<rect x="823.49" y="636.1" width="6.16" height="2.17" fill="#ff99e6"/>
<rect x="823.49" y="637.27" width="6.16" height="2.75" fill="#7326e6"/>
<rect x="823.49" y="639.02" width="6.16" height="62.38" fill="#e6ff00"/>
<rect x="828.34" y="584.8" width="6.16" height="107.57" fill="#339933"/>
<rect x="828.34" y="691.37" width="6.16" height="2.17" fill="#ff99e6"/>
<rect x="828.34" y="692.54" width="6.16" height="1.93" fill="#7326e6"/>
<rect x="828.34" y="693.47" width="6.16" height="7.93" fill="#e6ff00"/>
<rect x="833.2" y="584.8" width="6.16" height="112.94" fill="#339933"/>
<rect x="833.2" y="696.74" width="6.16" height="3.91" fill="#ff99e6"/>
<rect x="833.2" y="699.65" width="6.16" height="1.75" fill="#ff0050"/>
<rect x="838.05" y="584.8" width="6.15" height="63.03" fill="#339933"/>
<rect x="838.05" y="646.83" width="6.15" height="53.82" fill="#ff99e6"/>
<rect x="838.05" y="699.65" width="6.15" height="1.75" fill="#ff0050"/>
<rect x="842.9" y="584.8" width="6.16" height="2.17" fill="#ff99e6"/>
<rect x="842.9" y="585.97" width="6.16" height="1.58" fill="#7326e6"/>
<rect x="842.9" y="586.55" width="6.16" height="114.85" fill="#ff0050"/>
<rect x="847.76" y="584.8" width="6.16" height="112.47" fill="#339933"/>
<rect x="847.76" y="696.27" width="6.16" height="2.17" fill="#ff99e6"/>
<rect x="847.76" y="697.44" width="6.16" height="2.63" fill="#ff0050"/>
<rect x="847.76" y="699.07" width="6.16" height="2.33" fill="#e6ff00"/>
<rect x="852.62" y="584.8" width="6.16" height="71.54" fill="#339933"/>
<rect x="852.62" y="655.34" width="6.16" height="2.17" fill="#ff99e6"/>
<rect x="852.62" y="656.51" width="6.16" height="2.52" fill="#ff0050"/>
<rect x="852.62" y="658.02" width="6.16" height="5.66" fill="#7326e6"/>
<rect x="852.62" y="662.69" width="6.16" height="38.71" fill="#e6ff00"/>
<rect x="857.47" y="584.8" width="6.16" height="104.31" fill="#339933"/>
<rect x="857.47" y="688.11" width="6.16" height="3.22" fill="#ff0050"/>
<rect x="857.47" y="690.32" width="6.16" height="3.1" fill="#7326e6"/>
<rect x="857.47" y="692.42" width="6.16" height="8.98" fill="#e6ff00"/>
<rect x="862.33" y="584.8" width="6.16" height="44.49" fill="#339933"/>
<rect x="862.33" y="628.29" width="6.16" height="1.82" fill="#ff99e6"/>
<rect x="862.33" y="629.11" width="6.16" height="1.93" fill="#7326e6"/>
<rect x="862.33" y="630.04" width="6.16" height="71.36" fill="#e6ff00"/>
<rect x="867.18" y="584.8" width="6.15" height="43.33" fill="#339933"/>
<rect x="867.18" y="627.13" width="6.15" height="1.82" fill="#ff99e6"/>
<rect x="867.18" y="627.94" width="6.15" height="1.93" fill="#7326e6"/>
<rect x="867.18" y="628.87" width="6.15" height="72.53" fill="#e6ff00"/>
<rect x="872.03" y="584.8" width="6.16" height="42.51" fill="#339933"/>
<rect x="872.03" y="626.31" width="6.16" height="2.63" fill="#ff0050"/>
<rect x="872.03" y="627.94" width="6.16" height="7.88" fill="#7326e6"/>
<rect x="872.03" y="634.82" width="6.16" height="66.58" fill="#e6ff00"/>
<rect x="876.89" y="584.8" width="6.16" height="113.29" fill="#339933"/>
<rect x="876.89" y="697.09" width="6.16" height="2.17" fill="#ff0050"/>
<rect x="876.89" y="698.25" width="6.16" height="2.4" fill="#7326e6"/>
<rect x="876.89" y="699.65" width="6.16" height="1.75" fill="#e6ff00"/>
<rect x="881.75" y="584.8" width="6.16" height="2.17" fill="#339933"/>
<rect x="881.75" y="585.97" width="6.16" height="115.43" fill="#ff0050"/>
<rect x="881.75" y="700.82" width="6.16" height="0.58" fill="#e6ff00"/>
<rect x="886.6" y="584.8" width="6.16" height="114.1" fill="#339933"/>
<rect x="886.6" y="697.9" width="6.16" height="3.1" fill="#ff99e6"/>
<rect x="886.6" y="700" width="6.16" height="1.4" fill="#7326e6"/>
<rect x="891.46" y="584.8" width="6.16" height="3.91" fill="#339933"/>
<rect x="891.46" y="587.71" width="6.16" height="47.64" fill="#ff99e6"/>
<rect x="891.46" y="634.36" width="6.16" height="67.04" fill="#ff0050"/>
<rect x="891.46" y="700.82" width="6.16" height="0.58" fill="#e6ff00"/>
<rect x="896.31" y="584.8" width="20.72" height="2.17" fill="#339933"/>
<rect x="896.31" y="585.97" width="20.72" height="115.27" fill="#ff0050"/>
<rect x="896.31" y="700.23" width="20.72" height="1.17" fill="#7326e6"/>
<rect x="915.73" y="584.8" width="6.16" height="51.14" fill="#339933"/>
<rect x="915.73" y="634.94" width="6.16" height="2.17" fill="#7326e6"/>
<rect x="915.73" y="636.1" width="6.16" height="65.3" fill="#e6ff00"/>
<rect x="920.59" y="584.8" width="6.16" height="51.95" fill="#339933"/>
<rect x="920.59" y="635.75" width="6.16" height="2.17" fill="#7326e6"/>
<rect x="920.59" y="636.92" width="6.16" height="64.48" fill="#e6ff00"/>
<rect x="925.44" y="584.8" width="6.16" height="2.17" fill="#339933"/>
<rect x="925.44" y="585.97" width="6.16" height="112.82" fill="#ff0050"/>
<rect x="925.44" y="697.79" width="6.16" height="3.61" fill="#7326e6"/>
<rect x="925.44" y="700.58" width="6.16" height="0.82" fill="#ff0050"/>
<rect x="925.44" y="700.82" width="6.16" height="0.58" fill="#e6ff00"/>
<rect x="930.3" y="584.8" width="11.01" height="2.17" fill="#339933"/>
<rect x="930.3" y="585.97" width="11.01" height="115.43" fill="#ff0050"/>
<rect x="930.3" y="700.82" width="11.01" height="0.58" fill="#e6ff00"/>
<rect x="940" y="584.8" width="6.16" height="2.17" fill="#339933"/>
<rect x="940" y="585.97" width="6.16" height="95.45" fill="#ff0050"/>
<rect x="940" y="680.41" width="6.16" height="20.99" fill="#e6ff00"/>
<rect x="944.86" y="584.8" width="6.16" height="2.17" fill="#339933"/>
<rect x="944.86" y="585.97" width="6.16" height="2.75" fill="#ff99e6"/>
<rect x="944.86" y="587.71" width="6.16" height="113.69" fill="#ff0050"/>
<rect x="944.86" y="700.82" width="6.16" height="0.58" fill="#e6ff00"/>
<rect x="949.72" y="584.8" width="6.16" height="18.84" fill="#339933"/>
<rect x="949.72" y="602.64" width="6.16" height="9.98" fill="#ff99e6"/>
<rect x="949.72" y="611.62" width="6.16" height="85.3" fill="#ff0050"/>
<rect x="949.72" y="695.92" width="6.16" height="1.82" fill="#7326e6"/>
<rect x="949.72" y="696.74" width="6.16" height="4.66" fill="#e6ff00"/>
<rect x="954.57" y="584.8" width="6.16" height="2.4" fill="#339933"/>
<rect x="954.57" y="586.2" width="6.16" height="115.2" fill="#ff0050"/>
<rect x="954.57" y="700.82" width="6.16" height="0.58" fill="#e6ff00"/>
<rect x="959.43" y="584.8" width="6.15" height="2.17" fill="#339933"/>
<rect x="959.43" y="585.97" width="6.15" height="2.52" fill="#ff99e6"/>
<rect x="959.43" y="587.48" width="6.15" height="113.92" fill="#ff0050"/>
<rect x="959.43" y="700.82" width="6.15" height="0.58" fill="#e6ff00"/>
<rect x="964.28" y="584.8" width="6.16" height="2.75" fill="#339933"/>
<rect x="964.28" y="586.55" width="6.16" height="96.03" fill="#ff0050"/>
<rect x="964.28" y="681.58" width="6.16" height="19.82" fill="#e6ff00"/>
<rect x="969.13" y="584.8" width="6.16" height="2.75" fill="#339933"/>
<rect x="969.13" y="586.55" width="6.16" height="114.85" fill="#ff0050"/>
<rect x="969.13" y="700.82" width="6.16" height="0.58" fill="#e6ff00"/>
<rect x="973.99" y="584.8" width="6.16" height="2.17" fill="#339933"/>
<rect x="973.99" y="585.97" width="6.16" height="115.43" fill="#ff0050"/>
<rect x="973.99" y="700.82" width="6.16" height="0.58" fill="#e6ff00"/>
<rect x="978.85" y="584.8" width="6.16" height="2.17" fill="#339933"/>
<rect x="978.85" y="585.97" width="6.16" height="2.4" fill="#ff99e6"/>
<rect x="978.85" y="587.37" width="6.16" height="113.29" fill="#ff0050"/>
<rect x="978.85" y="699.65" width="6.16" height="1.75" fill="#7326e6"/>
<rect x="983.7" y="584.8" width="6.16" height="2.4" fill="#339933"/>
<rect x="983.7" y="586.2" width="6.16" height="115.03" fill="#ff0050"/>
<rect x="983.7" y="700.23" width="6.16" height="1.17" fill="#7326e6"/>
<rect x="988.56" y="584.8" width="6.16" height="4.96" fill="#339933"/>
<rect x="988.56" y="588.76" width="6.16" height="1.93" fill="#ff99e6"/>
<rect x="988.56" y="589.7" width="6.16" height="110.95" fill="#ff0050"/>
<rect x="988.56" y="699.65" width="6.16" height="1.75" fill="#7326e6"/>
<rect x="993.41" y="584.8" width="6.15" height="2.17" fill="#339933"/>
<rect x="993.41" y="585.97" width="6.15" height="114.68" fill="#ff0050"/>
<rect x="993.41" y="699.65" width="6.15" height="1.75" fill="#7326e6"/>
<rect x="998.26" y="584.8" width="6.16" height="6.25" fill="#339933"/>
<rect x="998.26" y="590.05" width="6.16" height="2.17" fill="#ff99e6"/>
<rect x="998.26" y="591.21" width="6.16" height="110.19" fill="#ff0050"/>
<rect x="998.26" y="700.82" width="6.16" height="0.58" fill="#e6ff00"/>
<rect x="1003.12" y="584.8" width="6.16" height="4.5" fill="#339933"/>
<rect x="1003.12" y="588.3" width="6.16" height="2.17" fill="#ff99e6"/>
<rect x="1003.12" y="589.46" width="6.16" height="111.94" fill="#ff0050"/>
<rect x="1003.12" y="700.82" width="6.16" height="0.58" fill="#e6ff00"/>
<rect x="1007.98" y="584.8" width="6.16" height="2.17" fill="#339933"/>
<rect x="1007.98" y="585.97" width="6.16" height="56.97" fill="#ff99e6"/>
<rect x="1007.98" y="641.93" width="6.16" height="59.47" fill="#ff0050"/>
<rect x="1007.98" y="700.82" width="6.16" height="0.58" fill="#e6ff00"/>
<rect x="1012.83" y="584.8" width="6.16" height="2.17" fill="#339933"/>
<rect x="1012.83" y="585.97" width="6.16" height="2.75" fill="#ff99e6"/>
<rect x="1012.83" y="587.71" width="6.16" height="113.69" fill="#ff0050"/>
<rect x="1012.83" y="700.82" width="6.16" height="0.58" fill="#e6ff00"/>
<rect x="1017.69" y="584.8" width="40.14" height="2.17" fill="#339933"/>
<rect x="1017.69" y="585.97" width="40.14" height="115.43" fill="#ff0050"/>
<rect x="1017.69" y="700.82" width="40.14" height="0.58" fill="#e6ff00"/>
<rect x="1056.53" y="584.8" width="11.01" height="1.93" fill="#339933"/>
<rect x="1056.53" y="585.73" width="11.01" height="115.67" fill="#ff0050"/>
<rect x="1056.53" y="700.82" width="11.01" height="0.58" fill="#e6ff00"/>
<rect x="1066.24" y="584.8" width="6.16" height="2.17" fill="#339933"/>
<rect x="1066.24" y="585.97" width="6.16" height="39.48" fill="#ff99e6"/>
<rect x="1066.24" y="624.44" width="6.16" height="76.96" fill="#ff0050"/>
<rect x="1066.24" y="700.58" width="6.16" height="0.82" fill="#7326e6"/>
<rect x="1071.09" y="584.8" width="11.01" height="1.93" fill="#339933"/>
<rect x="1071.09" y="585.73" width="11.01" height="115.67" fill="#ff0050"/>
<rect x="1071.09" y="700.82" width="11.01" height="0.58" fill="#e6ff00"/>
<rect x="1080.8" y="584.8" width="6.16" height="2.4" fill="#339933"/>
<rect x="1080.8" y="586.2" width="6.16" height="112.47" fill="#ff0050"/>
<rect x="1080.8" y="697.67" width="6.16" height="3.73" fill="#e6ff00"/>
<rect x="1085.66" y="584.8" width="40.14" height="1.93" fill="#339933"/>
<rect x="1085.66" y="585.73" width="40.14" height="115.67" fill="#ff0050"/>
<rect x="1085.66" y="700.82" width="40.14" height="0.58" fill="#e6ff00"/>
<rect x="1124.5" y="584.8" width="6.16" height="3.91" fill="#339933"/>
<rect x="1124.5" y="587.71" width="6.16" height="2.17" fill="#ff99e6"/>
<rect x="1124.5" y="588.88" width="6.16" height="112.52" fill="#ff0050"/>
<rect x="1124.5" y="700.82" width="6.16" height="0.58" fill="#e6ff00"/>
<rect x="1129.35" y="584.8" width="6.16" height="2.17" fill="#ff99e6"/>
<rect x="1129.35" y="585.97" width="6.16" height="115.43" fill="#ff0050"/>
<rect x="1129.35" y="700.82" width="6.16" height="0.58" fill="#e6ff00"/>
<rect x="1134.21" y="584.8" width="49.85" height="1.93" fill="#339933"/>
<rect x="1134.21" y="585.73" width="49.85" height="115.67" fill="#ff0050"/>
<rect x="1134.21" y="700.82" width="49.85" height="0.58" fill="#e6ff00"/>
<rect x="1182.76" y="584.8" width="6.16" height="2.17" fill="#339933"/>
<rect x="1182.76" y="585.97" width="6.16" height="10.79" fill="#ff99e6"/>
<rect x="1182.76" y="595.76" width="6.16" height="104.31" fill="#ff0050"/>
<rect x="1182.76" y="699.07" width="6.16" height="2.17" fill="#7326e6"/>
<rect x="1182.76" y="700.23" width="6.16" height="1.17" fill="#e6ff00"/>
<rect x="1187.61" y="584.8" width="6.16" height="1.93" fill="#339933"/>
<rect x="1187.61" y="585.73" width="6.16" height="115.67" fill="#ff0050"/>
<rect x="1187.61" y="700.82" width="6.16" height="0.58" fill="#e6ff00"/>
<rect x="1192.47" y="584.8" width="11.01" height="2.17" fill="#339933"/>
<rect x="1192.47" y="585.97" width="11.01" height="115.43" fill="#ff0050"/>
<rect x="1192.47" y="700.82" width="11.01" height="0.58" fill="#e6ff00"/>
<rect x="1202.17" y="584.8" width="6.16" height="3.33" fill="#339933"/>
<rect x="1202.17" y="587.13" width="6.16" height="114.27" fill="#ff0050"/>
<rect x="1202.17" y="700.82" width="6.16" height="0.58" fill="#e6ff00"/>
<rect x="1207.03" y="584.8" width="6.16" height="1.93" fill="#339933"/>
<rect x="1207.03" y="585.73" width="6.16" height="3.91" fill="#ff99e6"/>
<rect x="1207.03" y="588.65" width="6.16" height="111.42" fill="#ff0050"/>
<rect x="1207.03" y="699.07" width="6.16" height="2.33" fill="#7326e6"/>
<rect x="1211.88" y="584.8" width="15.87" height="2.52" fill="#339933"/>
<rect x="1211.88" y="586.32" width="15.87" height="115.08" fill="#ff0050"/>
<rect x="1211.88" y="700.82" width="15.87" height="0.58" fill="#e6ff00"/>
<rect x="1226.45" y="584.8" width="6.16" height="1.93" fill="#339933"/>
<rect x="1226.45" y="585.73" width="6.16" height="3.91" fill="#ff99e6"/>
<rect x="1226.45" y="588.65" width="6.16" height="112.75" fill="#ff0050"/>
<rect x="1226.45" y="700.82" width="6.16" height="0.58" fill="#e6ff00"/>
<rect x="1231.31" y="584.8" width="4.86" height="2.17" fill="#339933"/>
<rect x="1231.31" y="585.97" width="4.86" height="115.43" fill="#ff0050"/>
<rect x="1231.31" y="700.82" width="4.86" height="0.58" fill="#e6ff00"/>
<path d="M114.66 584.8V701.4M119.51 584.8V701.4M134.07 584.8V701.4M138.93 584.8V701.4M153.5 584.8V701.4M158.35 584.8V701.4M172.92 584.8V701.4M177.77 584.8V701.4M192.34 584.8V701.4M197.19 584.8V701.4M211.75 584.8V701.4M216.61 584.8V701.4M231.18 584.8V701.4M236.03 584.8V701.4M250.6 584.8V701.4M255.45 584.8V701.4M270.01 584.8V701.4M274.87 584.8V701.4M289.44 584.8V701.4M294.29 584.8V701.4M308.86 584.8V701.4M313.71 584.8V701.4M328.28 584.8V701.4M333.13 584.8V701.4M347.69 584.8V701.4M352.55 584.8V701.4M367.12 584.8V701.4M371.97 584.8V701.4M386.54 584.8V701.4M391.39 584.8V701.4M405.96 584.8V701.4M410.81 584.8V701.4M425.38 584.8V701.4M430.23 584.8V701.4M444.8 584.8V701.4M449.65 584.8V701.4M464.22 584.8V701.4M469.07 584.8V701.4M483.64 584.8V701.4M488.49 584.8V701.4M503.06 584.8V701.4M507.91 584.8V701.4M522.48 584.8V701.4M527.33 584.8V701.4M541.89 584.8V701.4M546.75 584.8V701.4M561.32 584.8V701.4M566.17 584.8V701.4M580.74 584.8V701.4M585.59 584.8V701.4M600.15 584.8V701.4M605.01 584.8V701.4M619.58 584.8V701.4M624.43 584.8V701.4M639 584.8V701.4M643.85 584.8V701.4M658.41 584.8V701.4M663.27 584.8V701.4M677.84 584.8V701.4M682.69 584.8V701.4M697.25 584.8V701.4M702.11 584.8V701.4M716.67 584.8V701.4M721.53 584.8V701.4M736.1 584.8V701.4M740.95 584.8V701.4M755.51 584.8V701.4M760.37 584.8V701.4M774.94 584.8V701.4M779.79 584.8V701.4M794.36 584.8V701.4M799.21 584.8V701.4M813.77 584.8V701.4M818.63 584.8V701.4M833.2 584.8V701.4M838.05 584.8V701.4M852.62 584.8V701.4M857.47 584.8V701.4M872.03 584.8V701.4M876.89 584.8V701.4M891.46 584.8V701.4M896.31 584.8V701.4M910.88 584.8V701.4M915.73 584.8V701.4M930.3 584.8V701.4M935.15 584.8V701.4M949.72 584.8V701.4M954.57 584.8V701.4M969.13 584.8V701.4M973.99 584.8V701.4M988.56 584.8V701.4M993.41 584.8V701.4M1007.98 584.8V701.4M1012.83 584.8V701.4M1027.39 584.8V701.4M1032.25 584.8V701.4M1046.82 584.8V701.4M1051.67 584.8V701.4M1066.24 584.8V701.4M1071.09 584.8V701.4M1085.66 584.8V701.4M1090.51 584.8V701.4M1105.08 584.8V701.4M1109.93 584.8V701.4M1124.5 584.8V701.4M1129.35 584.8V701.4M1143.91 584.8V701.4M1148.77 584.8V701.4M1163.34 584.8V701.4M1168.19 584.8V701.4M1182.76 584.8V701.4M1187.61 584.8V701.4M1202.17 584.8V701.4M1207.03 584.8V701.4M1221.6 584.8V701.4M1226.45 584.8V701.4" stroke="#fff" stroke-opacity="0.16" stroke-width="0.7" fill="none"/>
<path d="M168.06 584.8V701.4M226.32 584.8V701.4M284.58 584.8V701.4M352.55 584.8V701.4M410.81 584.8V701.4M483.64 584.8V701.4M546.75 584.8V701.4M605.01 584.8V701.4M677.84 584.8V701.4M750.66 584.8V701.4M823.49 584.8V701.4M881.75 584.8V701.4M940 584.8V701.4M993.41 584.8V701.4M1056.53 584.8V701.4M1114.79 584.8V701.4M1192.47 584.8V701.4" stroke="#000" stroke-width="0.95" fill="none"/>
<text x="6.4" y="669.4" class="kl">k=5</text>
<text transform="translate(131.4 735.7) scale(1 1.07)" class="nl">1</text>
<text transform="translate(190.6 735.7) scale(1 1.07)" class="nl">2</text>
<text transform="translate(248.2 735.7) scale(1 1.07)" class="nl">3</text>
<text transform="translate(311 735.7) scale(1 1.07)" class="nl">4</text>
<text transform="translate(374 735.7) scale(1 1.07)" class="nl">5</text>
<text transform="translate(440.2 735.7) scale(1 1.07)" class="nl">6</text>
<text transform="translate(509 735.7) scale(1 1.07)" class="nl">7</text>
<text transform="translate(568.8 735.7) scale(1 1.07)" class="nl">8</text>
<text transform="translate(635.4 735.7) scale(1 1.07)" class="nl">9</text>
<text transform="translate(701.6 735.7) scale(1 1.07)" class="nl">10</text>
<text transform="translate(778.4 732.9) scale(1 1.07)" class="nl">11</text>
<text transform="translate(845 732.9) scale(1 1.07)" class="nl">12</text>
<text transform="translate(903.2 732.9) scale(1 1.07)" class="nl">13</text>
<text transform="translate(958.6 732.9) scale(1 1.07)" class="nl">14</text>
<text transform="translate(1017.1 732.9) scale(1 1.07)" class="nl">15</text>
<text transform="translate(1078.6 732.9) scale(1 1.07)" class="nl">16</text>
<text transform="translate(1145.4 732.9) scale(1 1.07)" class="nl">17</text>
<text transform="translate(1206.6 732.9) scale(1 1.07)" class="nl">18</text>
<rect x="104.9" y="773.9" width="1136.16" height="126" fill="#000"/>
<rect x="109.8" y="778.8" width="6.16" height="48.64" fill="#ff99e6"/>
<rect x="109.8" y="826.44" width="6.16" height="41.21" fill="#e6ff00"/>
<rect x="109.8" y="866.65" width="6.16" height="12.97" fill="#7326e6"/>
<rect x="109.8" y="878.62" width="6.16" height="2.05" fill="#ff0050"/>
<rect x="109.8" y="879.66" width="6.16" height="15.34" fill="#339933"/>
<rect x="114.66" y="778.8" width="6.15" height="1.58" fill="#ff99e6"/>
<rect x="114.66" y="779.38" width="6.15" height="58.52" fill="#e6ff00"/>
<rect x="114.66" y="836.9" width="6.15" height="35.05" fill="#7326e6"/>
<rect x="114.66" y="870.95" width="6.15" height="1.81" fill="#ff0050"/>
<rect x="114.66" y="871.76" width="6.15" height="23.24" fill="#339933"/>
<rect x="119.51" y="778.8" width="6.16" height="2.51" fill="#ff99e6"/>
<rect x="119.51" y="780.31" width="6.16" height="81.06" fill="#e6ff00"/>
<rect x="119.51" y="860.37" width="6.16" height="24.59" fill="#7326e6"/>
<rect x="119.51" y="883.96" width="6.16" height="11.04" fill="#339933"/>
<rect x="124.36" y="778.8" width="6.16" height="106.16" fill="#e6ff00"/>
<rect x="124.36" y="883.96" width="6.16" height="10.88" fill="#7326e6"/>
<rect x="124.36" y="893.84" width="6.16" height="1.16" fill="#339933"/>
<rect x="129.22" y="778.8" width="6.15" height="108.25" fill="#e6ff00"/>
<rect x="129.22" y="886.05" width="6.15" height="8.79" fill="#7326e6"/>
<rect x="129.22" y="893.84" width="6.15" height="1.16" fill="#339933"/>
<rect x="134.07" y="778.8" width="6.16" height="92.57" fill="#e6ff00"/>
<rect x="134.07" y="870.37" width="6.16" height="23.89" fill="#7326e6"/>
<rect x="134.07" y="893.26" width="6.16" height="1.74" fill="#339933"/>
<rect x="138.93" y="778.8" width="6.15" height="76.53" fill="#e6ff00"/>
<rect x="138.93" y="854.33" width="6.15" height="37.6" fill="#7326e6"/>
<rect x="138.93" y="890.93" width="6.15" height="4.07" fill="#339933"/>
<rect x="143.78" y="778.8" width="6.15" height="77.11" fill="#e6ff00"/>
<rect x="143.78" y="854.91" width="6.15" height="36.44" fill="#7326e6"/>
<rect x="143.78" y="890.35" width="6.15" height="4.65" fill="#339933"/>
<rect x="148.64" y="778.8" width="6.16" height="7.27" fill="#e6ff00"/>
<rect x="148.64" y="785.07" width="6.16" height="67.23" fill="#7326e6"/>
<rect x="148.64" y="851.31" width="6.16" height="1.7" fill="#ff0050"/>
<rect x="148.64" y="852.01" width="6.16" height="42.99" fill="#339933"/>
<rect x="153.5" y="778.8" width="6.15" height="41.9" fill="#ff99e6"/>
<rect x="153.5" y="819.7" width="6.15" height="56.78" fill="#e6ff00"/>
<rect x="153.5" y="875.48" width="6.15" height="9.13" fill="#7326e6"/>
<rect x="153.5" y="883.61" width="6.15" height="1.93" fill="#ff0050"/>
<rect x="153.5" y="884.54" width="6.15" height="10.46" fill="#339933"/>
<rect x="158.35" y="778.8" width="6.15" height="54.92" fill="#ff99e6"/>
<rect x="158.35" y="832.72" width="6.15" height="7.04" fill="#e6ff00"/>
<rect x="158.35" y="838.76" width="6.15" height="3.09" fill="#ff9955"/>
<rect x="158.35" y="840.85" width="6.15" height="6.46" fill="#7326e6"/>
<rect x="158.35" y="846.31" width="6.15" height="1.81" fill="#ff0050"/>
<rect x="158.35" y="847.13" width="6.15" height="47.87" fill="#339933"/>
<rect x="163.2" y="778.8" width="6.16" height="3.79" fill="#ff99e6"/>
<rect x="163.2" y="781.59" width="6.16" height="108.6" fill="#e6ff00"/>
<rect x="163.2" y="889.19" width="6.16" height="3.32" fill="#7326e6"/>
<rect x="163.2" y="891.51" width="6.16" height="3.49" fill="#339933"/>
<rect x="168.06" y="778.8" width="6.16" height="108.25" fill="#ff99e6"/>
<rect x="168.06" y="886.05" width="6.16" height="3.79" fill="#e6ff00"/>
<rect x="168.06" y="888.84" width="6.16" height="4.83" fill="#7326e6"/>
<rect x="168.06" y="892.68" width="6.16" height="2.16" fill="#ff0050"/>
<rect x="168.06" y="893.84" width="6.16" height="1.16" fill="#339933"/>
<rect x="172.92" y="778.8" width="25.57" height="2.39" fill="#e6ff00"/>
<rect x="172.92" y="780.19" width="25.57" height="114.64" fill="#7326e6"/>
<rect x="172.92" y="893.84" width="25.57" height="1.16" fill="#339933"/>
<rect x="197.19" y="778.8" width="6.16" height="3.56" fill="#e6ff00"/>
<rect x="197.19" y="781.36" width="6.16" height="113.64" fill="#7326e6"/>
<rect x="202.05" y="778.8" width="6.15" height="2.16" fill="#e6ff00"/>
<rect x="202.05" y="779.96" width="6.15" height="115.04" fill="#7326e6"/>
<rect x="206.9" y="778.8" width="11.01" height="2.74" fill="#e6ff00"/>
<rect x="206.9" y="780.54" width="11.01" height="114.46" fill="#7326e6"/>
<rect x="216.61" y="778.8" width="6.15" height="3.09" fill="#ff99e6"/>
<rect x="216.61" y="780.89" width="6.15" height="2.98" fill="#e6ff00"/>
<rect x="216.61" y="782.87" width="6.15" height="111.39" fill="#7326e6"/>
<rect x="216.61" y="893.26" width="6.15" height="1.74" fill="#339933"/>
<rect x="221.47" y="778.8" width="6.15" height="51.2" fill="#ff99e6"/>
<rect x="221.47" y="829" width="6.15" height="45.74" fill="#e6ff00"/>
<rect x="221.47" y="873.74" width="6.15" height="17.62" fill="#ff9955"/>
<rect x="221.47" y="890.35" width="6.15" height="2.51" fill="#ff0050"/>
<rect x="221.47" y="891.86" width="6.15" height="3.14" fill="#339933"/>
<rect x="226.32" y="778.8" width="6.16" height="112.2" fill="#ff99e6"/>
<rect x="226.32" y="890" width="6.16" height="2.51" fill="#e6ff00"/>
<rect x="226.32" y="891.51" width="6.16" height="3.49" fill="#7326e6"/>
<rect x="231.18" y="778.8" width="6.16" height="2.16" fill="#ff99e6"/>
<rect x="231.18" y="779.96" width="6.16" height="2.74" fill="#e6ff00"/>
<rect x="231.18" y="781.7" width="6.16" height="113.3" fill="#7326e6"/>
<rect x="236.03" y="778.8" width="6.15" height="3.32" fill="#ff99e6"/>
<rect x="236.03" y="781.12" width="6.15" height="8.79" fill="#e6ff00"/>
<rect x="236.03" y="788.91" width="6.15" height="106.09" fill="#7326e6"/>
<rect x="240.88" y="778.8" width="6.16" height="2.39" fill="#e6ff00"/>
<rect x="240.88" y="780.19" width="6.16" height="114.81" fill="#7326e6"/>
<rect x="245.74" y="778.8" width="6.16" height="2.16" fill="#ff99e6"/>
<rect x="245.74" y="779.96" width="6.16" height="2.74" fill="#e6ff00"/>
<rect x="245.74" y="781.7" width="6.16" height="111.39" fill="#7326e6"/>
<rect x="245.74" y="892.1" width="6.16" height="2.9" fill="#339933"/>
<rect x="250.6" y="778.8" width="15.86" height="2.39" fill="#e6ff00"/>
<rect x="250.6" y="780.19" width="15.86" height="114.81" fill="#7326e6"/>
<rect x="265.16" y="778.8" width="6.15" height="2.16" fill="#ff99e6"/>
<rect x="265.16" y="779.96" width="6.15" height="2.16" fill="#e6ff00"/>
<rect x="265.16" y="781.12" width="6.15" height="113.88" fill="#7326e6"/>
<rect x="270.01" y="778.8" width="6.16" height="2.74" fill="#ff99e6"/>
<rect x="270.01" y="780.54" width="6.16" height="6" fill="#e6ff00"/>
<rect x="270.01" y="785.54" width="6.16" height="109.46" fill="#7326e6"/>
<rect x="274.87" y="778.8" width="11.01" height="115.46" fill="#ff99e6"/>
<rect x="274.87" y="893.26" width="11.01" height="1.74" fill="#ff9955"/>
<rect x="284.58" y="778.8" width="6.15" height="2.16" fill="#ff99e6"/>
<rect x="284.58" y="779.96" width="6.15" height="98.84" fill="#e6ff00"/>
<rect x="284.58" y="877.8" width="6.15" height="3.09" fill="#ff9955"/>
<rect x="284.58" y="879.89" width="6.15" height="3.32" fill="#7326e6"/>
<rect x="284.58" y="882.22" width="6.15" height="5.3" fill="#ff0050"/>
<rect x="284.58" y="886.52" width="6.15" height="8.48" fill="#339933"/>
<rect x="289.44" y="778.8" width="6.16" height="2.16" fill="#ff99e6"/>
<rect x="289.44" y="779.96" width="6.16" height="113.71" fill="#e6ff00"/>
<rect x="289.44" y="892.68" width="6.16" height="2.16" fill="#ff0050"/>
<rect x="289.44" y="893.84" width="6.16" height="1.16" fill="#339933"/>
<rect x="294.29" y="778.8" width="6.16" height="2.16" fill="#ff99e6"/>
<rect x="294.29" y="779.96" width="6.16" height="114.3" fill="#e6ff00"/>
<rect x="294.29" y="893.26" width="6.16" height="1.74" fill="#339933"/>
<rect x="299.15" y="778.8" width="6.15" height="16.22" fill="#ff99e6"/>
<rect x="299.15" y="794.02" width="6.15" height="86.41" fill="#e6ff00"/>
<rect x="299.15" y="879.43" width="6.15" height="2.63" fill="#ff9955"/>
<rect x="299.15" y="881.06" width="6.15" height="6.46" fill="#7326e6"/>
<rect x="299.15" y="886.52" width="6.15" height="6.69" fill="#ff0050"/>
<rect x="299.15" y="892.21" width="6.15" height="2.79" fill="#339933"/>
<rect x="304" y="778.8" width="6.16" height="2.16" fill="#ff99e6"/>
<rect x="304" y="779.96" width="6.16" height="114.3" fill="#e6ff00"/>
<rect x="304" y="893.26" width="6.16" height="1.74" fill="#7326e6"/>
<rect x="308.86" y="778.8" width="6.16" height="2.39" fill="#ff99e6"/>
<rect x="308.86" y="780.19" width="6.16" height="114.06" fill="#e6ff00"/>
<rect x="308.86" y="893.26" width="6.16" height="1.74" fill="#7326e6"/>
<rect x="313.71" y="778.8" width="6.15" height="10.64" fill="#ff99e6"/>
<rect x="313.71" y="788.44" width="6.15" height="105.23" fill="#e6ff00"/>
<rect x="313.71" y="892.68" width="6.15" height="2.32" fill="#7326e6"/>
<rect x="318.56" y="778.8" width="6.16" height="60.61" fill="#ff99e6"/>
<rect x="318.56" y="838.41" width="6.16" height="54.68" fill="#e6ff00"/>
<rect x="318.56" y="892.1" width="6.16" height="2.9" fill="#7326e6"/>
<rect x="323.42" y="778.8" width="11.01" height="2.16" fill="#e6ff00"/>
<rect x="323.42" y="779.96" width="11.01" height="115.04" fill="#7326e6"/>
<rect x="333.13" y="778.8" width="6.16" height="107.09" fill="#ff99e6"/>
<rect x="333.13" y="884.89" width="6.16" height="7.04" fill="#e6ff00"/>
<rect x="333.13" y="890.93" width="6.16" height="2.74" fill="#7326e6"/>
<rect x="333.13" y="892.68" width="6.16" height="2.16" fill="#ff0050"/>
<rect x="333.13" y="893.84" width="6.16" height="1.16" fill="#339933"/>
<rect x="337.99" y="778.8" width="6.16" height="53.52" fill="#ff99e6"/>
<rect x="337.99" y="831.32" width="6.16" height="62.35" fill="#e6ff00"/>
<rect x="337.99" y="892.68" width="6.16" height="2.32" fill="#ff0050"/>
<rect x="342.84" y="778.8" width="6.15" height="63.52" fill="#ff99e6"/>
<rect x="342.84" y="841.32" width="6.15" height="44.23" fill="#e6ff00"/>
<rect x="342.84" y="884.54" width="6.15" height="2.39" fill="#7326e6"/>
<rect x="342.84" y="885.94" width="6.15" height="4.25" fill="#ff0050"/>
<rect x="342.84" y="889.19" width="6.15" height="5.81" fill="#339933"/>
<rect x="347.69" y="778.8" width="6.16" height="53.87" fill="#ff99e6"/>
<rect x="347.69" y="831.67" width="6.16" height="53.87" fill="#e6ff00"/>
<rect x="347.69" y="884.54" width="6.16" height="2.16" fill="#7326e6"/>
<rect x="347.69" y="885.7" width="6.16" height="4.25" fill="#ff0050"/>
<rect x="347.69" y="888.96" width="6.16" height="6.04" fill="#339933"/>
<rect x="352.55" y="778.8" width="6.16" height="2.16" fill="#ff99e6"/>
<rect x="352.55" y="779.96" width="6.16" height="2.74" fill="#e6ff00"/>
<rect x="352.55" y="781.7" width="6.16" height="110.81" fill="#7326e6"/>
<rect x="352.55" y="891.51" width="6.16" height="3.49" fill="#339933"/>
<rect x="357.41" y="778.8" width="6.16" height="2.74" fill="#e6ff00"/>
<rect x="357.41" y="780.54" width="6.16" height="114.46" fill="#7326e6"/>
<rect x="362.26" y="778.8" width="6.15" height="114.88" fill="#ff99e6"/>
<rect x="362.26" y="892.68" width="6.15" height="2.16" fill="#e6ff00"/>
<rect x="362.26" y="893.84" width="6.15" height="1.16" fill="#7326e6"/>
<rect x="367.12" y="778.8" width="6.16" height="115.46" fill="#ff99e6"/>
<rect x="367.12" y="893.26" width="6.16" height="1.74" fill="#e6ff00"/>
<rect x="371.97" y="778.8" width="6.16" height="114.3" fill="#ff99e6"/>
<rect x="371.97" y="892.1" width="6.16" height="2.28" fill="#e6ff00"/>
<rect x="371.97" y="893.37" width="6.16" height="1.63" fill="#7326e6"/>
<rect x="376.83" y="778.8" width="6.15" height="25.87" fill="#ff99e6"/>
<rect x="376.83" y="803.67" width="6.15" height="3.09" fill="#e6ff00"/>
<rect x="376.83" y="805.76" width="6.15" height="89.24" fill="#7326e6"/>
<rect x="381.68" y="778.8" width="30.43" height="2.39" fill="#e6ff00"/>
<rect x="381.68" y="780.19" width="30.43" height="114.81" fill="#7326e6"/>
<rect x="410.81" y="778.8" width="6.15" height="2.16" fill="#e6ff00"/>
<rect x="410.81" y="779.96" width="6.15" height="115.04" fill="#7326e6"/>
<rect x="415.67" y="778.8" width="6.16" height="3.67" fill="#ff99e6"/>
<rect x="415.67" y="781.47" width="6.16" height="13.9" fill="#e6ff00"/>
<rect x="415.67" y="794.37" width="6.16" height="100.63" fill="#7326e6"/>
<rect x="420.52" y="778.8" width="6.16" height="114.88" fill="#ff99e6"/>
<rect x="420.52" y="892.68" width="6.16" height="2.32" fill="#e6ff00"/>
<rect x="425.38" y="778.8" width="6.15" height="115.46" fill="#ff99e6"/>
<rect x="425.38" y="893.26" width="6.15" height="1.74" fill="#e6ff00"/>
<rect x="430.23" y="778.8" width="6.16" height="109.07" fill="#ff99e6"/>
<rect x="430.23" y="886.87" width="6.16" height="3.32" fill="#e6ff00"/>
<rect x="430.23" y="889.19" width="6.16" height="4.49" fill="#7326e6"/>
<rect x="430.23" y="892.68" width="6.16" height="2.16" fill="#ff0050"/>
<rect x="430.23" y="893.84" width="6.16" height="1.16" fill="#339933"/>
<rect x="435.09" y="778.8" width="6.16" height="110" fill="#ff99e6"/>
<rect x="435.09" y="887.8" width="6.16" height="2.63" fill="#e6ff00"/>
<rect x="435.09" y="889.42" width="6.16" height="5.58" fill="#7326e6"/>
<rect x="439.94" y="778.8" width="20.72" height="2.51" fill="#e6ff00"/>
<rect x="439.94" y="780.31" width="20.72" height="114.69" fill="#7326e6"/>
<rect x="459.36" y="778.8" width="6.15" height="14.6" fill="#ff99e6"/>
<rect x="459.36" y="792.4" width="6.15" height="4.25" fill="#e6ff00"/>
<rect x="459.36" y="795.65" width="6.15" height="99.35" fill="#7326e6"/>
<rect x="464.22" y="778.8" width="6.16" height="2.51" fill="#e6ff00"/>
<rect x="464.22" y="780.31" width="6.16" height="114.69" fill="#7326e6"/>
<rect x="469.07" y="778.8" width="6.16" height="96.87" fill="#ff99e6"/>
<rect x="469.07" y="874.66" width="6.16" height="3.67" fill="#e6ff00"/>
<rect x="469.07" y="877.34" width="6.16" height="17.66" fill="#7326e6"/>
<rect x="473.93" y="778.8" width="6.15" height="7.97" fill="#ff99e6"/>
<rect x="473.93" y="785.77" width="6.15" height="1.93" fill="#e6ff00"/>
<rect x="473.93" y="786.7" width="6.15" height="108.3" fill="#7326e6"/>
<rect x="478.78" y="778.8" width="6.16" height="114.3" fill="#ff99e6"/>
<rect x="478.78" y="892.1" width="6.16" height="2.74" fill="#e6ff00"/>
<rect x="478.78" y="893.84" width="6.16" height="1.16" fill="#7326e6"/>
<rect x="483.64" y="778.8" width="6.16" height="115.46" fill="#ff99e6"/>
<rect x="483.64" y="893.26" width="6.16" height="1.74" fill="#e6ff00"/>
<rect x="488.49" y="778.8" width="6.15" height="95.94" fill="#ff99e6"/>
<rect x="488.49" y="873.74" width="6.15" height="14.25" fill="#e6ff00"/>
<rect x="488.49" y="886.98" width="6.15" height="5.53" fill="#7326e6"/>
<rect x="488.49" y="891.51" width="6.15" height="3.49" fill="#339933"/>
<rect x="493.35" y="778.8" width="6.16" height="95.12" fill="#ff99e6"/>
<rect x="493.35" y="872.92" width="6.16" height="3.67" fill="#e6ff00"/>
<rect x="493.35" y="875.59" width="6.16" height="16.69" fill="#7326e6"/>
<rect x="493.35" y="891.28" width="6.16" height="3.72" fill="#339933"/>
<rect x="498.2" y="778.8" width="6.16" height="3.32" fill="#ff99e6"/>
<rect x="498.2" y="781.12" width="6.16" height="1.93" fill="#e6ff00"/>
<rect x="498.2" y="782.05" width="6.16" height="112.2" fill="#7326e6"/>
<rect x="498.2" y="893.26" width="6.16" height="1.74" fill="#339933"/>
<rect x="503.06" y="778.8" width="6.15" height="4.49" fill="#ff99e6"/>
<rect x="503.06" y="782.29" width="6.15" height="2.98" fill="#e6ff00"/>
<rect x="503.06" y="784.26" width="6.15" height="110" fill="#7326e6"/>
<rect x="503.06" y="893.26" width="6.15" height="1.74" fill="#339933"/>
<rect x="507.91" y="778.8" width="6.15" height="2.16" fill="#ff99e6"/>
<rect x="507.91" y="779.96" width="6.15" height="2.39" fill="#e6ff00"/>
<rect x="507.91" y="781.36" width="6.15" height="113.48" fill="#7326e6"/>
<rect x="507.91" y="893.84" width="6.15" height="1.16" fill="#339933"/>
<rect x="512.76" y="778.8" width="6.16" height="40.04" fill="#ff99e6"/>
<rect x="512.76" y="817.84" width="6.16" height="2.86" fill="#e6ff00"/>
<rect x="512.76" y="819.7" width="6.16" height="71.65" fill="#7326e6"/>
<rect x="512.76" y="890.35" width="6.16" height="2.16" fill="#ff0050"/>
<rect x="512.76" y="891.51" width="6.16" height="3.49" fill="#339933"/>
<rect x="517.62" y="778.8" width="6.16" height="52.13" fill="#ff99e6"/>
<rect x="517.62" y="829.93" width="6.16" height="3.32" fill="#e6ff00"/>
<rect x="517.62" y="832.25" width="6.16" height="58.75" fill="#7326e6"/>
<rect x="517.62" y="890" width="6.16" height="1.93" fill="#ff0050"/>
<rect x="517.62" y="890.93" width="6.16" height="4.07" fill="#339933"/>
<rect x="522.48" y="778.8" width="6.16" height="57.59" fill="#ff99e6"/>
<rect x="522.48" y="835.39" width="6.16" height="3.44" fill="#e6ff00"/>
<rect x="522.48" y="837.83" width="6.16" height="53.17" fill="#7326e6"/>
<rect x="522.48" y="890" width="6.16" height="3.09" fill="#ff0050"/>
<rect x="522.48" y="892.1" width="6.16" height="2.9" fill="#339933"/>
<rect x="527.33" y="778.8" width="6.16" height="47.83" fill="#ff99e6"/>
<rect x="527.33" y="825.63" width="6.16" height="3.32" fill="#e6ff00"/>
<rect x="527.33" y="827.95" width="6.16" height="62.47" fill="#7326e6"/>
<rect x="527.33" y="889.42" width="6.16" height="5.58" fill="#339933"/>
<rect x="532.19" y="778.8" width="6.15" height="2.16" fill="#ff99e6"/>
<rect x="532.19" y="779.96" width="6.15" height="2.63" fill="#e6ff00"/>
<rect x="532.19" y="781.59" width="6.15" height="4.14" fill="#ff9955"/>
<rect x="532.19" y="784.73" width="6.15" height="61.42" fill="#7326e6"/>
<rect x="532.19" y="845.15" width="6.15" height="2.63" fill="#ff0050"/>
<rect x="532.19" y="846.78" width="6.15" height="48.22" fill="#339933"/>
<rect x="537.04" y="778.8" width="6.16" height="91.29" fill="#ff99e6"/>
<rect x="537.04" y="869.09" width="6.16" height="5.65" fill="#e6ff00"/>
<rect x="537.04" y="873.74" width="6.16" height="3.21" fill="#ff9955"/>
<rect x="537.04" y="875.94" width="6.16" height="2.98" fill="#ff0050"/>
<rect x="537.04" y="877.92" width="6.16" height="17.08" fill="#339933"/>
<rect x="541.89" y="778.8" width="6.16" height="114.18" fill="#ff99e6"/>
<rect x="541.89" y="891.98" width="6.16" height="2.86" fill="#e6ff00"/>
<rect x="541.89" y="893.84" width="6.16" height="1.16" fill="#7326e6"/>
<rect x="546.75" y="778.8" width="6.16" height="115.46" fill="#ff99e6"/>
<rect x="546.75" y="893.26" width="6.16" height="1.74" fill="#e6ff00"/>
<rect x="551.61" y="778.8" width="11.01" height="112.2" fill="#ff99e6"/>
<rect x="551.61" y="890" width="11.01" height="1.93" fill="#e6ff00"/>
<rect x="551.61" y="890.93" width="11.01" height="3.9" fill="#7326e6"/>
<rect x="551.61" y="893.84" width="11.01" height="1.16" fill="#339933"/>
<rect x="561.32" y="778.8" width="6.16" height="97.1" fill="#ff99e6"/>
<rect x="561.32" y="874.9" width="6.16" height="2.86" fill="#e6ff00"/>
<rect x="561.32" y="876.76" width="6.16" height="16.92" fill="#7326e6"/>
<rect x="561.32" y="892.68" width="6.16" height="2.32" fill="#ff0050"/>
<rect x="566.17" y="778.8" width="6.15" height="3.67" fill="#ff99e6"/>
<rect x="566.17" y="781.47" width="6.15" height="2.05" fill="#e6ff00"/>
<rect x="566.17" y="782.52" width="6.15" height="112.48" fill="#7326e6"/>
<rect x="571.02" y="778.8" width="6.16" height="108.72" fill="#ff99e6"/>
<rect x="571.02" y="886.52" width="6.16" height="2.98" fill="#e6ff00"/>
<rect x="571.02" y="888.49" width="6.16" height="4.49" fill="#7326e6"/>
<rect x="571.02" y="891.98" width="6.16" height="2.86" fill="#ff0050"/>
<rect x="571.02" y="893.84" width="6.16" height="1.16" fill="#339933"/>
<rect x="575.88" y="778.8" width="6.16" height="112.2" fill="#ff99e6"/>
<rect x="575.88" y="890" width="6.16" height="1.93" fill="#e6ff00"/>
<rect x="575.88" y="890.93" width="6.16" height="3.9" fill="#7326e6"/>
<rect x="575.88" y="893.84" width="6.16" height="1.16" fill="#339933"/>
<rect x="580.74" y="778.8" width="6.16" height="37.02" fill="#ff99e6"/>
<rect x="580.74" y="814.82" width="6.16" height="9.48" fill="#e6ff00"/>
<rect x="580.74" y="823.3" width="6.16" height="1.81" fill="#ff9955"/>
<rect x="580.74" y="824.12" width="6.16" height="35.05" fill="#7326e6"/>
<rect x="580.74" y="858.16" width="6.16" height="2.98" fill="#ff0050"/>
<rect x="580.74" y="860.14" width="6.16" height="34.86" fill="#339933"/>
<rect x="585.59" y="778.8" width="6.16" height="115.46" fill="#ff99e6"/>
<rect x="585.59" y="893.26" width="6.16" height="1.74" fill="#e6ff00"/>
<rect x="590.45" y="778.8" width="6.16" height="112.2" fill="#ff99e6"/>
<rect x="590.45" y="890" width="6.16" height="1.7" fill="#e6ff00"/>
<rect x="590.45" y="890.7" width="6.16" height="4.14" fill="#7326e6"/>
<rect x="590.45" y="893.84" width="6.16" height="1.16" fill="#339933"/>
<rect x="595.3" y="778.8" width="11.01" height="115.46" fill="#ff99e6"/>
<rect x="595.3" y="893.26" width="11.01" height="1.74" fill="#e6ff00"/>
<rect x="605.01" y="778.8" width="6.16" height="105.35" fill="#e6ff00"/>
<rect x="605.01" y="883.15" width="6.16" height="2.86" fill="#7326e6"/>
<rect x="605.01" y="885.01" width="6.16" height="9.99" fill="#339933"/>
<rect x="609.87" y="778.8" width="44.99" height="115.46" fill="#e6ff00"/>
<rect x="609.87" y="893.26" width="44.99" height="1.74" fill="#ff0050"/>
<rect x="609.87" y="894.19" width="44.99" height="0.81" fill="#7326e6"/>
<rect x="653.56" y="778.8" width="6.16" height="111.16" fill="#e6ff00"/>
<rect x="653.56" y="888.96" width="6.16" height="2.74" fill="#ff9955"/>
<rect x="653.56" y="890.7" width="6.16" height="3.32" fill="#ff0050"/>
<rect x="653.56" y="893.02" width="6.16" height="1.98" fill="#7326e6"/>
<rect x="658.41" y="778.8" width="6.16" height="111.16" fill="#ff99e6"/>
<rect x="658.41" y="888.96" width="6.16" height="4.72" fill="#e6ff00"/>
<rect x="658.41" y="892.68" width="6.16" height="2.32" fill="#7326e6"/>
<rect x="663.27" y="778.8" width="6.16" height="5.42" fill="#ff99e6"/>
<rect x="663.27" y="783.22" width="6.16" height="12.16" fill="#e6ff00"/>
<rect x="663.27" y="794.37" width="6.16" height="3.91" fill="#7326e6"/>
<rect x="663.27" y="797.28" width="6.16" height="97.72" fill="#339933"/>
<rect x="668.12" y="778.8" width="6.16" height="15.87" fill="#e6ff00"/>
<rect x="668.12" y="793.67" width="6.16" height="1.7" fill="#ff9955"/>
<rect x="668.12" y="794.37" width="6.16" height="3.44" fill="#ff0050"/>
<rect x="668.12" y="796.81" width="6.16" height="98.19" fill="#339933"/>
<rect x="672.98" y="778.8" width="6.16" height="31.44" fill="#e6ff00"/>
<rect x="672.98" y="809.24" width="6.16" height="2.86" fill="#7326e6"/>
<rect x="672.98" y="811.1" width="6.16" height="83.9" fill="#339933"/>
<rect x="677.84" y="778.8" width="6.16" height="2.74" fill="#e6ff00"/>
<rect x="677.84" y="780.54" width="6.16" height="2.74" fill="#7326e6"/>
<rect x="677.84" y="782.29" width="6.16" height="112.71" fill="#339933"/>
<rect x="682.69" y="778.8" width="6.15" height="12.97" fill="#e6ff00"/>
<rect x="682.69" y="790.77" width="6.15" height="2.74" fill="#7326e6"/>
<rect x="682.69" y="792.51" width="6.15" height="102.49" fill="#339933"/>
<rect x="687.54" y="778.8" width="6.16" height="13.2" fill="#e6ff00"/>
<rect x="687.54" y="791" width="6.16" height="2.74" fill="#7326e6"/>
<rect x="687.54" y="792.74" width="6.16" height="102.26" fill="#339933"/>
<rect x="692.4" y="778.8" width="6.16" height="29.59" fill="#e6ff00"/>
<rect x="692.4" y="807.39" width="6.16" height="2.98" fill="#ff0050"/>
<rect x="692.4" y="809.36" width="6.16" height="85.64" fill="#339933"/>
<rect x="697.25" y="778.8" width="6.16" height="40.51" fill="#e6ff00"/>
<rect x="697.25" y="818.31" width="6.16" height="2.74" fill="#7326e6"/>
<rect x="697.25" y="820.05" width="6.16" height="2.28" fill="#ff0050"/>
<rect x="697.25" y="821.33" width="6.16" height="73.67" fill="#339933"/>
<rect x="702.11" y="778.8" width="6.16" height="2.74" fill="#ff99e6"/>
<rect x="702.11" y="780.54" width="6.16" height="2.51" fill="#7326e6"/>
<rect x="702.11" y="782.05" width="6.16" height="112.95" fill="#339933"/>
<rect x="706.97" y="778.8" width="6.16" height="2.74" fill="#ff99e6"/>
<rect x="706.97" y="780.54" width="6.16" height="2.16" fill="#ff0050"/>
<rect x="706.97" y="781.7" width="6.16" height="113.3" fill="#339933"/>
<rect x="711.82" y="778.8" width="6.15" height="3.32" fill="#ff99e6"/>
<rect x="711.82" y="781.12" width="6.15" height="2.39" fill="#7326e6"/>
<rect x="711.82" y="782.52" width="6.15" height="112.48" fill="#339933"/>
<rect x="716.67" y="778.8" width="6.16" height="46.43" fill="#ff99e6"/>
<rect x="716.67" y="824.23" width="6.16" height="4.6" fill="#e6ff00"/>
<rect x="716.67" y="827.84" width="6.16" height="2.16" fill="#ff0050"/>
<rect x="716.67" y="829" width="6.16" height="66" fill="#339933"/>
<rect x="721.53" y="778.8" width="6.16" height="7.16" fill="#ff99e6"/>
<rect x="721.53" y="784.96" width="6.16" height="2.63" fill="#ff0050"/>
<rect x="721.53" y="786.59" width="6.16" height="108.41" fill="#339933"/>
<rect x="726.38" y="778.8" width="6.16" height="70.49" fill="#e6ff00"/>
<rect x="726.38" y="848.29" width="6.16" height="2.63" fill="#7326e6"/>
<rect x="726.38" y="849.91" width="6.16" height="45.09" fill="#339933"/>
<rect x="731.24" y="778.8" width="6.16" height="70.95" fill="#e6ff00"/>
<rect x="731.24" y="848.75" width="6.16" height="2.63" fill="#7326e6"/>
<rect x="731.24" y="850.38" width="6.16" height="44.62" fill="#339933"/>
<rect x="736.1" y="778.8" width="6.16" height="89.43" fill="#e6ff00"/>
<rect x="736.1" y="867.23" width="6.16" height="2.63" fill="#7326e6"/>
<rect x="736.1" y="868.86" width="6.16" height="26.14" fill="#339933"/>
<rect x="740.95" y="778.8" width="6.16" height="103.14" fill="#e6ff00"/>
<rect x="740.95" y="880.94" width="6.16" height="2.98" fill="#ff0050"/>
<rect x="740.95" y="882.92" width="6.16" height="12.08" fill="#339933"/>
<rect x="745.81" y="778.8" width="6.15" height="108.02" fill="#e6ff00"/>
<rect x="745.81" y="885.82" width="6.15" height="2.51" fill="#7326e6"/>
<rect x="745.81" y="887.33" width="6.15" height="7.67" fill="#339933"/>
<rect x="750.66" y="778.8" width="6.16" height="2.16" fill="#ff99e6"/>
<rect x="750.66" y="779.96" width="6.16" height="3.9" fill="#e6ff00"/>
<rect x="750.66" y="782.87" width="6.16" height="3.67" fill="#7326e6"/>
<rect x="750.66" y="785.54" width="6.16" height="109.46" fill="#339933"/>
<rect x="755.51" y="778.8" width="6.16" height="7.04" fill="#e6ff00"/>
<rect x="755.51" y="784.84" width="6.16" height="3.9" fill="#7326e6"/>
<rect x="755.51" y="787.75" width="6.16" height="1.81" fill="#ff0050"/>
<rect x="755.51" y="788.56" width="6.16" height="106.44" fill="#339933"/>
<rect x="760.37" y="778.8" width="6.16" height="2.16" fill="#ff99e6"/>
<rect x="760.37" y="779.96" width="6.16" height="5.53" fill="#ff9955"/>
<rect x="760.37" y="784.49" width="6.16" height="10.88" fill="#7326e6"/>
<rect x="760.37" y="794.37" width="6.16" height="9.95" fill="#ff0050"/>
<rect x="760.37" y="803.32" width="6.16" height="91.68" fill="#339933"/>
<rect x="765.23" y="778.8" width="6.16" height="2.16" fill="#ff99e6"/>
<rect x="765.23" y="779.96" width="6.16" height="5.53" fill="#ff9955"/>
<rect x="765.23" y="784.49" width="6.16" height="10.41" fill="#ff0050"/>
<rect x="765.23" y="793.91" width="6.16" height="101.09" fill="#339933"/>
<rect x="770.08" y="778.8" width="6.16" height="3.32" fill="#ff99e6"/>
<rect x="770.08" y="781.12" width="6.16" height="2.39" fill="#ff0050"/>
<rect x="770.08" y="782.52" width="6.16" height="112.48" fill="#339933"/>
<rect x="774.94" y="778.8" width="6.15" height="25.52" fill="#ff99e6"/>
<rect x="774.94" y="803.32" width="6.15" height="7.16" fill="#ff9955"/>
<rect x="774.94" y="809.48" width="6.15" height="2.86" fill="#ff0050"/>
<rect x="774.94" y="811.34" width="6.15" height="83.66" fill="#339933"/>
<rect x="779.79" y="778.8" width="6.16" height="20.29" fill="#ff99e6"/>
<rect x="779.79" y="798.09" width="6.16" height="2.63" fill="#e6ff00"/>
<rect x="779.79" y="799.72" width="6.16" height="2.16" fill="#7326e6"/>
<rect x="779.79" y="800.88" width="6.16" height="94.12" fill="#339933"/>
<rect x="784.64" y="778.8" width="6.16" height="3.32" fill="#ff99e6"/>
<rect x="784.64" y="781.12" width="6.16" height="2.74" fill="#7326e6"/>
<rect x="784.64" y="782.87" width="6.16" height="112.13" fill="#339933"/>
<rect x="789.5" y="778.8" width="20.72" height="2.16" fill="#ff99e6"/>
<rect x="789.5" y="779.96" width="20.72" height="2.51" fill="#7326e6"/>
<rect x="789.5" y="781.47" width="20.72" height="113.53" fill="#339933"/>
<rect x="808.92" y="778.8" width="6.15" height="2.16" fill="#ff99e6"/>
<rect x="808.92" y="779.96" width="6.15" height="9.37" fill="#e6ff00"/>
<rect x="808.92" y="788.33" width="6.15" height="7.04" fill="#7326e6"/>
<rect x="808.92" y="794.37" width="6.15" height="3.44" fill="#ff0050"/>
<rect x="808.92" y="796.81" width="6.15" height="98.19" fill="#339933"/>
<rect x="813.77" y="778.8" width="6.16" height="2.39" fill="#ff99e6"/>
<rect x="813.77" y="780.19" width="6.16" height="2.51" fill="#7326e6"/>
<rect x="813.77" y="781.7" width="6.16" height="113.3" fill="#339933"/>
<rect x="818.63" y="778.8" width="6.16" height="2.16" fill="#ff99e6"/>
<rect x="818.63" y="779.96" width="6.16" height="2.16" fill="#7326e6"/>
<rect x="818.63" y="781.12" width="6.16" height="113.88" fill="#339933"/>
<rect x="823.49" y="778.8" width="6.16" height="86.52" fill="#e6ff00"/>
<rect x="823.49" y="864.32" width="6.16" height="2.63" fill="#7326e6"/>
<rect x="823.49" y="865.95" width="6.16" height="29.05" fill="#339933"/>
<rect x="828.34" y="778.8" width="6.16" height="12.16" fill="#e6ff00"/>
<rect x="828.34" y="789.96" width="6.16" height="2.63" fill="#7326e6"/>
<rect x="828.34" y="791.58" width="6.16" height="103.42" fill="#339933"/>
<rect x="833.2" y="778.8" width="6.16" height="3.9" fill="#ff99e6"/>
<rect x="833.2" y="781.7" width="6.16" height="2.74" fill="#ff0050"/>
<rect x="833.2" y="783.45" width="6.16" height="111.55" fill="#339933"/>
<rect x="838.05" y="778.8" width="6.15" height="42.72" fill="#ff99e6"/>
<rect x="838.05" y="820.52" width="6.15" height="2.05" fill="#e6ff00"/>
<rect x="838.05" y="821.56" width="6.15" height="73.44" fill="#339933"/>
<rect x="842.9" y="778.8" width="6.16" height="2.16" fill="#ff99e6"/>
<rect x="842.9" y="779.96" width="6.16" height="110.93" fill="#ff9955"/>
<rect x="842.9" y="889.89" width="6.16" height="5.11" fill="#ff0050"/>
<rect x="847.76" y="778.8" width="6.16" height="5.07" fill="#ff99e6"/>
<rect x="847.76" y="782.87" width="6.16" height="2.16" fill="#7326e6"/>
<rect x="847.76" y="784.03" width="6.16" height="2.51" fill="#ff0050"/>
<rect x="847.76" y="785.54" width="6.16" height="109.46" fill="#339933"/>
<rect x="852.62" y="778.8" width="6.16" height="57.36" fill="#e6ff00"/>
<rect x="852.62" y="835.16" width="6.16" height="5.65" fill="#7326e6"/>
<rect x="852.62" y="839.8" width="6.16" height="3.09" fill="#ff0050"/>
<rect x="852.62" y="841.9" width="6.16" height="53.1" fill="#339933"/>
<rect x="857.47" y="778.8" width="6.16" height="15.76" fill="#e6ff00"/>
<rect x="857.47" y="793.56" width="6.16" height="2.86" fill="#7326e6"/>
<rect x="857.47" y="795.42" width="6.16" height="3.67" fill="#ff0050"/>
<rect x="857.47" y="798.09" width="6.16" height="96.91" fill="#339933"/>
<rect x="862.33" y="778.8" width="6.16" height="94.54" fill="#e6ff00"/>
<rect x="862.33" y="872.34" width="6.16" height="2.28" fill="#7326e6"/>
<rect x="862.33" y="873.62" width="6.16" height="21.38" fill="#339933"/>
<rect x="867.18" y="778.8" width="6.15" height="96.28" fill="#e6ff00"/>
<rect x="867.18" y="874.08" width="6.15" height="2.51" fill="#7326e6"/>
<rect x="867.18" y="875.59" width="6.15" height="19.41" fill="#339933"/>
<rect x="872.03" y="778.8" width="6.16" height="66.07" fill="#e6ff00"/>
<rect x="872.03" y="843.87" width="6.16" height="7.86" fill="#7326e6"/>
<rect x="872.03" y="850.73" width="6.16" height="2.51" fill="#ff0050"/>
<rect x="872.03" y="852.24" width="6.16" height="42.76" fill="#339933"/>
<rect x="876.89" y="778.8" width="6.16" height="3.9" fill="#e6ff00"/>
<rect x="876.89" y="781.7" width="6.16" height="3.09" fill="#7326e6"/>
<rect x="876.89" y="783.8" width="6.16" height="111.2" fill="#339933"/>
<rect x="881.75" y="778.8" width="6.16" height="115.46" fill="#ff9955"/>
<rect x="881.75" y="893.26" width="6.16" height="1.74" fill="#ff0050"/>
<rect x="886.6" y="778.8" width="6.16" height="2.74" fill="#ff99e6"/>
<rect x="886.6" y="780.54" width="6.16" height="2.74" fill="#ff0050"/>
<rect x="886.6" y="782.29" width="6.16" height="112.55" fill="#339933"/>
<rect x="886.6" y="893.84" width="6.16" height="1.16" fill="#7326e6"/>
<rect x="891.46" y="778.8" width="6.16" height="10.53" fill="#ff99e6"/>
<rect x="891.46" y="788.33" width="6.16" height="2.16" fill="#e6ff00"/>
<rect x="891.46" y="789.49" width="6.16" height="103.14" fill="#ff9955"/>
<rect x="891.46" y="891.63" width="6.16" height="2.63" fill="#7326e6"/>
<rect x="891.46" y="893.26" width="6.16" height="1.74" fill="#339933"/>
<rect x="896.31" y="778.8" width="15.86" height="115.46" fill="#ff9955"/>
<rect x="896.31" y="893.26" width="15.86" height="1.74" fill="#ff0050"/>
<rect x="910.88" y="778.8" width="6.16" height="2.16" fill="#e6ff00"/>
<rect x="910.88" y="779.96" width="6.16" height="111.97" fill="#ff9955"/>
<rect x="910.88" y="890.93" width="6.16" height="3.09" fill="#7326e6"/>
<rect x="910.88" y="893.02" width="6.16" height="1.98" fill="#ff0050"/>
<rect x="915.73" y="778.8" width="6.16" height="89.78" fill="#e6ff00"/>
<rect x="915.73" y="867.58" width="6.16" height="2.39" fill="#7326e6"/>
<rect x="915.73" y="868.97" width="6.16" height="26.03" fill="#339933"/>
<rect x="920.59" y="778.8" width="6.16" height="88.85" fill="#e6ff00"/>
<rect x="920.59" y="866.65" width="6.16" height="2.39" fill="#7326e6"/>
<rect x="920.59" y="868.04" width="6.16" height="26.96" fill="#339933"/>
<rect x="925.44" y="778.8" width="6.16" height="109.65" fill="#ff9955"/>
<rect x="925.44" y="887.45" width="6.16" height="5.18" fill="#7326e6"/>
<rect x="925.44" y="891.63" width="6.16" height="3.37" fill="#ff0050"/>
<rect x="930.3" y="778.8" width="11.01" height="114.64" fill="#ff9955"/>
<rect x="930.3" y="892.44" width="11.01" height="2.56" fill="#ff0050"/>
<rect x="940" y="778.8" width="6.16" height="13.32" fill="#e6ff00"/>
<rect x="940" y="791.12" width="6.16" height="103.14" fill="#ff9955"/>
<rect x="940" y="893.26" width="6.16" height="1.74" fill="#ff0050"/>
<rect x="944.86" y="778.8" width="6.16" height="2.16" fill="#ff99e6"/>
<rect x="944.86" y="779.96" width="6.16" height="113.48" fill="#ff9955"/>
<rect x="944.86" y="892.44" width="6.16" height="2.56" fill="#ff0050"/>
<rect x="949.72" y="778.8" width="6.16" height="10.76" fill="#ff99e6"/>
<rect x="949.72" y="788.56" width="6.16" height="6.93" fill="#e6ff00"/>
<rect x="949.72" y="794.49" width="6.16" height="83.85" fill="#ff9955"/>
<rect x="949.72" y="877.34" width="6.16" height="2.74" fill="#7326e6"/>
<rect x="949.72" y="879.08" width="6.16" height="2.16" fill="#ff0050"/>
<rect x="949.72" y="880.24" width="6.16" height="14.76" fill="#339933"/>
<rect x="954.57" y="778.8" width="6.16" height="113.71" fill="#ff9955"/>
<rect x="954.57" y="891.51" width="6.16" height="3.49" fill="#ff0050"/>
<rect x="959.43" y="778.8" width="6.15" height="114.88" fill="#ff9955"/>
<rect x="959.43" y="892.68" width="6.15" height="2.32" fill="#ff0050"/>
<rect x="964.28" y="778.8" width="6.16" height="11.11" fill="#e6ff00"/>
<rect x="964.28" y="788.91" width="6.16" height="105.7" fill="#ff9955"/>
<rect x="964.28" y="893.61" width="6.16" height="1.39" fill="#ff0050"/>
<rect x="969.13" y="778.8" width="25.58" height="115.22" fill="#ff9955"/>
<rect x="969.13" y="893.02" width="25.58" height="1.98" fill="#ff0050"/>
<rect x="993.41" y="778.8" width="6.15" height="1.93" fill="#e6ff00"/>
<rect x="993.41" y="779.73" width="6.15" height="107.32" fill="#ff9955"/>
<rect x="993.41" y="886.05" width="6.15" height="2.39" fill="#7326e6"/>
<rect x="993.41" y="887.45" width="6.15" height="7.39" fill="#ff0050"/>
<rect x="993.41" y="893.84" width="6.15" height="1.16" fill="#339933"/>
<rect x="998.26" y="778.8" width="6.16" height="114.88" fill="#ff9955"/>
<rect x="998.26" y="892.68" width="6.16" height="2.16" fill="#ff0050"/>
<rect x="998.26" y="893.84" width="6.16" height="1.16" fill="#339933"/>
<rect x="1003.12" y="778.8" width="6.16" height="2.16" fill="#ff99e6"/>
<rect x="1003.12" y="779.96" width="6.16" height="114.06" fill="#ff9955"/>
<rect x="1003.12" y="893.02" width="6.16" height="1.98" fill="#ff0050"/>
<rect x="1007.98" y="778.8" width="6.16" height="41.67" fill="#ff99e6"/>
<rect x="1007.98" y="819.47" width="6.16" height="1.93" fill="#e6ff00"/>
<rect x="1007.98" y="820.4" width="6.16" height="73.86" fill="#ff9955"/>
<rect x="1007.98" y="893.26" width="6.16" height="1.74" fill="#ff0050"/>
<rect x="1012.83" y="778.8" width="6.16" height="114.3" fill="#ff9955"/>
<rect x="1012.83" y="892.1" width="6.16" height="2.9" fill="#ff0050"/>
<rect x="1017.69" y="778.8" width="6.16" height="112.9" fill="#ff9955"/>
<rect x="1017.69" y="890.7" width="6.16" height="4.3" fill="#ff0050"/>
<rect x="1022.54" y="778.8" width="35.29" height="115.11" fill="#ff9955"/>
<rect x="1022.54" y="892.91" width="35.29" height="2.09" fill="#ff0050"/>
<rect x="1056.53" y="778.8" width="6.16" height="115.46" fill="#ff9955"/>
<rect x="1056.53" y="893.26" width="6.16" height="1.74" fill="#7326e6"/>
<rect x="1061.38" y="778.8" width="6.16" height="112.44" fill="#ff9955"/>
<rect x="1061.38" y="890.24" width="6.16" height="4.76" fill="#ff0050"/>
<rect x="1066.24" y="778.8" width="6.16" height="22.5" fill="#ff99e6"/>
<rect x="1066.24" y="800.3" width="6.16" height="1.93" fill="#e6ff00"/>
<rect x="1066.24" y="801.23" width="6.16" height="91.75" fill="#ff9955"/>
<rect x="1066.24" y="891.98" width="6.16" height="2.63" fill="#7326e6"/>
<rect x="1066.24" y="893.61" width="6.16" height="1.39" fill="#ff0050"/>
<rect x="1071.09" y="778.8" width="11.01" height="2.16" fill="#ff9955"/>
<rect x="1071.09" y="779.96" width="11.01" height="115.04" fill="#ff0050"/>
<rect x="1080.8" y="778.8" width="6.16" height="4.6" fill="#e6ff00"/>
<rect x="1080.8" y="782.4" width="6.16" height="112.6" fill="#ff0050"/>
<rect x="1085.66" y="778.8" width="15.86" height="2.16" fill="#ff9955"/>
<rect x="1085.66" y="779.96" width="15.86" height="115.04" fill="#ff0050"/>
<rect x="1100.22" y="778.8" width="11.01" height="3.67" fill="#ff9955"/>
<rect x="1100.22" y="781.47" width="11.01" height="113.53" fill="#ff0050"/>
<rect x="1109.93" y="778.8" width="6.16" height="2.16" fill="#ff9955"/>
<rect x="1109.93" y="779.96" width="6.16" height="115.04" fill="#ff0050"/>
<rect x="1114.79" y="778.8" width="11.01" height="1.93" fill="#ff9955"/>
<rect x="1114.79" y="779.73" width="11.01" height="115.27" fill="#ff0050"/>
<rect x="1124.5" y="778.8" width="6.16" height="2.74" fill="#ff99e6"/>
<rect x="1124.5" y="780.54" width="6.16" height="2.16" fill="#e6ff00"/>
<rect x="1124.5" y="781.7" width="6.16" height="47.13" fill="#ff9955"/>
<rect x="1124.5" y="827.84" width="6.16" height="2.74" fill="#7326e6"/>
<rect x="1124.5" y="829.58" width="6.16" height="55.38" fill="#ff0050"/>
<rect x="1124.5" y="883.96" width="6.16" height="11.04" fill="#339933"/>
<rect x="1129.35" y="778.8" width="11.01" height="2.16" fill="#ff9955"/>
<rect x="1129.35" y="779.96" width="11.01" height="115.04" fill="#ff0050"/>
<rect x="1139.06" y="778.8" width="6.16" height="2.16" fill="#ff9955"/>
<rect x="1139.06" y="779.96" width="6.16" height="2.16" fill="#e6ff00"/>
<rect x="1139.06" y="781.12" width="6.16" height="113.88" fill="#ff0050"/>
<rect x="1143.91" y="778.8" width="6.16" height="2.16" fill="#ff9955"/>
<rect x="1143.91" y="779.96" width="6.16" height="2.16" fill="#e6ff00"/>
<rect x="1143.91" y="781.12" width="6.16" height="113.71" fill="#ff0050"/>
<rect x="1143.91" y="893.84" width="6.16" height="1.16" fill="#339933"/>
<rect x="1148.77" y="778.8" width="35.29" height="2.16" fill="#ff9955"/>
<rect x="1148.77" y="779.96" width="35.29" height="115.04" fill="#ff0050"/>
<rect x="1182.76" y="778.8" width="6.16" height="13.32" fill="#ff99e6"/>
<rect x="1182.76" y="791.12" width="6.16" height="2.63" fill="#e6ff00"/>
<rect x="1182.76" y="792.74" width="6.16" height="19.01" fill="#ff9955"/>
<rect x="1182.76" y="810.75" width="6.16" height="2.16" fill="#7326e6"/>
<rect x="1182.76" y="811.92" width="6.16" height="83.08" fill="#ff0050"/>
<rect x="1187.61" y="778.8" width="15.86" height="2.16" fill="#ff9955"/>
<rect x="1187.61" y="779.96" width="15.86" height="115.04" fill="#ff0050"/>
<rect x="1202.17" y="778.8" width="6.16" height="3.9" fill="#e6ff00"/>
<rect x="1202.17" y="781.7" width="6.16" height="1.81" fill="#ff9955"/>
<rect x="1202.17" y="782.52" width="6.16" height="112.32" fill="#ff0050"/>
<rect x="1202.17" y="893.84" width="6.16" height="1.16" fill="#339933"/>
<rect x="1207.03" y="778.8" width="6.16" height="3.09" fill="#ff99e6"/>
<rect x="1207.03" y="780.89" width="6.16" height="3.32" fill="#ff9955"/>
<rect x="1207.03" y="783.22" width="6.16" height="2.63" fill="#7326e6"/>
<rect x="1207.03" y="784.84" width="6.16" height="110.16" fill="#ff0050"/>
<rect x="1211.88" y="778.8" width="11.01" height="2.74" fill="#ff9955"/>
<rect x="1211.88" y="780.54" width="11.01" height="114.29" fill="#ff0050"/>
<rect x="1211.88" y="893.84" width="11.01" height="1.16" fill="#339933"/>
<rect x="1221.6" y="778.8" width="6.16" height="2.74" fill="#ff9955"/>
<rect x="1221.6" y="780.54" width="6.16" height="114.46" fill="#ff0050"/>
<rect x="1226.45" y="778.8" width="6.16" height="3.32" fill="#ff99e6"/>
<rect x="1226.45" y="781.12" width="6.16" height="1.93" fill="#7326e6"/>
<rect x="1226.45" y="782.05" width="6.16" height="112.95" fill="#ff0050"/>
<rect x="1231.31" y="778.8" width="4.86" height="2.16" fill="#ff9955"/>
<rect x="1231.31" y="779.96" width="4.86" height="115.04" fill="#ff0050"/>
<path d="M114.66 778.8V895M119.51 778.8V895M134.07 778.8V895M138.93 778.8V895M153.5 778.8V895M158.35 778.8V895M172.92 778.8V895M177.77 778.8V895M192.34 778.8V895M197.19 778.8V895M211.75 778.8V895M216.61 778.8V895M231.18 778.8V895M236.03 778.8V895M250.6 778.8V895M255.45 778.8V895M270.01 778.8V895M274.87 778.8V895M289.44 778.8V895M294.29 778.8V895M308.86 778.8V895M313.71 778.8V895M328.28 778.8V895M333.13 778.8V895M347.69 778.8V895M352.55 778.8V895M367.12 778.8V895M371.97 778.8V895M386.54 778.8V895M391.39 778.8V895M405.96 778.8V895M410.81 778.8V895M425.38 778.8V895M430.23 778.8V895M444.8 778.8V895M449.65 778.8V895M464.22 778.8V895M469.07 778.8V895M483.64 778.8V895M488.49 778.8V895M503.06 778.8V895M507.91 778.8V895M522.48 778.8V895M527.33 778.8V895M541.89 778.8V895M546.75 778.8V895M561.32 778.8V895M566.17 778.8V895M580.74 778.8V895M585.59 778.8V895M600.15 778.8V895M605.01 778.8V895M619.58 778.8V895M624.43 778.8V895M639 778.8V895M643.85 778.8V895M658.41 778.8V895M663.27 778.8V895M677.84 778.8V895M682.69 778.8V895M697.25 778.8V895M702.11 778.8V895M716.67 778.8V895M721.53 778.8V895M736.1 778.8V895M740.95 778.8V895M755.51 778.8V895M760.37 778.8V895M774.94 778.8V895M779.79 778.8V895M794.36 778.8V895M799.21 778.8V895M813.77 778.8V895M818.63 778.8V895M833.2 778.8V895M838.05 778.8V895M852.62 778.8V895M857.47 778.8V895M872.03 778.8V895M876.89 778.8V895M891.46 778.8V895M896.31 778.8V895M910.88 778.8V895M915.73 778.8V895M930.3 778.8V895M935.15 778.8V895M949.72 778.8V895M954.57 778.8V895M969.13 778.8V895M973.99 778.8V895M988.56 778.8V895M993.41 778.8V895M1007.98 778.8V895M1012.83 778.8V895M1027.39 778.8V895M1032.25 778.8V895M1046.82 778.8V895M1051.67 778.8V895M1066.24 778.8V895M1071.09 778.8V895M1085.66 778.8V895M1090.51 778.8V895M1105.08 778.8V895M1109.93 778.8V895M1124.5 778.8V895M1129.35 778.8V895M1143.91 778.8V895M1148.77 778.8V895M1163.34 778.8V895M1168.19 778.8V895M1182.76 778.8V895M1187.61 778.8V895M1202.17 778.8V895M1207.03 778.8V895M1221.6 778.8V895M1226.45 778.8V895" stroke="#fff" stroke-opacity="0.16" stroke-width="0.7" fill="none"/>
<path d="M168.06 778.8V895M226.32 778.8V895M284.58 778.8V895M352.55 778.8V895M410.81 778.8V895M483.64 778.8V895M546.75 778.8V895M605.01 778.8V895M677.84 778.8V895M750.66 778.8V895M823.49 778.8V895M881.75 778.8V895M940 778.8V895M993.41 778.8V895M1056.53 778.8V895M1114.79 778.8V895M1192.47 778.8V895" stroke="#000" stroke-width="0.95" fill="none"/>
<text x="6.4" y="850.4" class="kl">k=6</text>
<text transform="translate(132.7 932) scale(1 1.07)" class="nl">1</text>
<text transform="translate(191.9 932) scale(1 1.07)" class="nl">2</text>
<text transform="translate(249.5 932) scale(1 1.07)" class="nl">3</text>
<text transform="translate(312.3 932) scale(1 1.07)" class="nl">4</text>
<text transform="translate(375.3 932) scale(1 1.07)" class="nl">5</text>
<text transform="translate(441.5 932) scale(1 1.07)" class="nl">6</text>
<text transform="translate(510.3 932) scale(1 1.07)" class="nl">7</text>
<text transform="translate(570.1 932) scale(1 1.07)" class="nl">8</text>
<text transform="translate(636.7 932) scale(1 1.07)" class="nl">9</text>
<text transform="translate(702.9 932) scale(1 1.07)" class="nl">10</text>
<text transform="translate(779.7 930.4) scale(1 1.07)" class="nl">11</text>
<text transform="translate(846.3 930.4) scale(1 1.07)" class="nl">12</text>
<text transform="translate(904.5 930.4) scale(1 1.07)" class="nl">13</text>
<text transform="translate(959.9 930.4) scale(1 1.07)" class="nl">14</text>
<text transform="translate(1018.4 930.4) scale(1 1.07)" class="nl">15</text>
<text transform="translate(1079.9 930.4) scale(1 1.07)" class="nl">16</text>
<text transform="translate(1146.7 930.4) scale(1 1.07)" class="nl">17</text>
<text transform="translate(1207.9 930.4) scale(1 1.07)" class="nl">18</text>
<path d="M224.1 939.6V1523" stroke="#000" stroke-width="3.6" fill="none"/>
<path d="M1041.2 939.6V1523" stroke="#000" stroke-width="3.6" fill="none"/>
<path d="M222.3 1523H1043" stroke="#000" stroke-width="3.6" fill="none"/>
<path d="M225 1023.4H231M225 1129.5H231M225 1236H231M225 1341.8H231M225 1448.2H231M1040 1016H1034.3M1040 1122H1034.3M1040 1228.7H1034.3M1040 1334.7H1034.3M1040 1441H1034.3" stroke="#000" stroke-width="1.7" fill="none"/>
<path d="M381.2 1523V1516.8M532 1523V1516.8M679 1523V1516.8M827 1523V1516.8M974.4 1523V1516.8" stroke="#000" stroke-width="3" fill="none"/>
<text transform="translate(209.8 1028.3) scale(1 1.04)" class="al" text-anchor="end">-4000</text>
<text transform="translate(209.8 1137.9) scale(1 1.04)" class="al" text-anchor="end">-4500</text>
<text transform="translate(209.8 1248.2) scale(1 1.04)" class="al" text-anchor="end">-5000</text>
<text transform="translate(209.8 1352.8) scale(1 1.04)" class="al" text-anchor="end">-5500</text>
<text transform="translate(209.8 1456.6) scale(1 1.04)" class="al" text-anchor="end">-6000</text>
<text transform="translate(1072.5 1018) scale(1 1.04)" class="al">2500</text>
<text transform="translate(1071 1123.8) scale(1 1.04)" class="al">2000</text>
<text transform="translate(1066.5 1232) scale(1 1.04)" class="al">1500</text>
<text transform="translate(1062.5 1342.3) scale(1 1.04)" class="al">1000</text>
<text transform="translate(1066.8 1447.3) scale(1 1.04)" class="al">500</text>
<text transform="translate(1060.6 1525.5) scale(1 1.04)" class="al">0</text>
<text transform="translate(228 1554) scale(1 1.04)" class="al" text-anchor="middle">0</text>
<text transform="translate(387.5 1561) scale(1 1.04)" class="al" text-anchor="middle">2</text>
<text transform="translate(534 1555.3) scale(1 1.04)" class="al" text-anchor="middle">4</text>
<text transform="translate(678.7 1555.3) scale(1 1.04)" class="al" text-anchor="middle">6</text>
<text transform="translate(830.7 1554.6) scale(1 1.04)" class="al" text-anchor="middle">8</text>
<text transform="translate(986.6 1554) scale(1 1.04)" class="al" text-anchor="middle">10</text>
<text x="604.8" y="1590" class="al it" text-anchor="middle">K</text>
<text transform="translate(106.5,1191) rotate(-90)" class="al" text-anchor="middle">Mean LnP(D)</text>
<g transform="translate(1194.4,1204) rotate(-90)"><text x="-25.4" y="0" transform="translate(-25.4 0) skewX(-15) scale(0.93 1) translate(25.4 0)" class="al it">Δ</text><text x="24.3" y="0" class="al it" text-anchor="end">K</text></g>
<text x="20.5" y="981" class="pl">(b)</text>
<path d="M455.3 1187.7V1202.9M529.4 1143.2V1150.4M603.6 1107.2V1112.8M677.5 1066V1082M752 1041V1046M826 1018.5V1023.5M900 976V1072M974 979.7V996.5" stroke="#000" stroke-width="2.9" fill="none"/>
<path d="M376.9 1109L455 1522.7L530 1522.7L606 1522.6L682 1522.4L765 1522.6L826.5 1518.6L909.5 1523" stroke="#ff0a82" stroke-width="6.5" fill="none" stroke-linejoin="round" stroke-linecap="butt"/>
<circle cx="307" cy="1461" r="5.05" fill="none" stroke="#0000f0" stroke-width="1.5"/>
<circle cx="381.1" cy="1271.6" r="5.05" fill="none" stroke="#0000f0" stroke-width="1.5"/>
<circle cx="455.3" cy="1196" r="5.05" fill="none" stroke="#0000f0" stroke-width="1.5"/>
<circle cx="529.4" cy="1146.9" r="5.05" fill="none" stroke="#0000f0" stroke-width="1.5"/>
<circle cx="603.6" cy="1109.6" r="5.05" fill="none" stroke="#0000f0" stroke-width="1.5"/>
<circle cx="677.5" cy="1074" r="5.05" fill="none" stroke="#0000f0" stroke-width="1.5"/>
<circle cx="752" cy="1043.5" r="5.05" fill="none" stroke="#0000f0" stroke-width="1.5"/>
<circle cx="826" cy="1021" r="5.05" fill="none" stroke="#0000f0" stroke-width="1.5"/>
<circle cx="900" cy="1023" r="5.05" fill="none" stroke="#0000f0" stroke-width="1.5"/>
<circle cx="974" cy="988.5" r="5.05" fill="none" stroke="#0000f0" stroke-width="1.5"/>
<circle cx="307" cy="1461" r="1.3" fill="#000"/>
<circle cx="381.1" cy="1271.6" r="1.3" fill="#000"/>
<circle cx="378.4" cy="1117.6" r="7.2" fill="#0000ff"/>
<circle cx="455.5" cy="1523.2" r="7.2" fill="#0000ff"/>
<circle cx="529.7" cy="1523.2" r="7.2" fill="#0000ff"/>
<circle cx="606.5" cy="1520.1" r="7.2" fill="#0000ff"/>
<circle cx="681.6" cy="1517.2" r="7.2" fill="#0000ff"/>
<circle cx="764.9" cy="1523.5" r="7.2" fill="#0000ff"/>
<circle cx="826.6" cy="1514" r="7.2" fill="#0000ff"/>
<circle cx="909.6" cy="1523" r="7.2" fill="#0000ff"/>
</svg>
</body></html>
